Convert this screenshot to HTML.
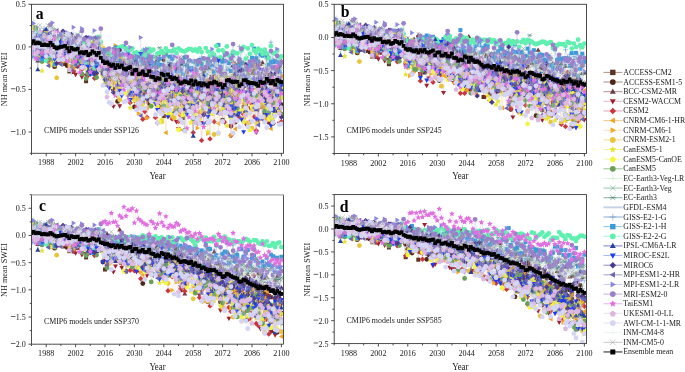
<!DOCTYPE html><html><head><meta charset="utf-8"><style>
html,body{margin:0;padding:0;background:#fff;width:685px;height:372px;overflow:hidden}
svg{display:block;font-family:"Liberation Serif", serif;filter:blur(0.35px)}
</style></head><body>
<svg width="685" height="372" viewBox="0 0 685 372">
<defs>
<marker id="m0" markerUnits="userSpaceOnUse" markerWidth="10" markerHeight="10" refX="0" refY="0" overflow="visible" viewBox="-5 -5 10 10" style="overflow:visible"><rect x="-2.0" y="-2.0" width="4.0" height="4.0" fill="#5b3121"/></marker>
<marker id="m1" markerUnits="userSpaceOnUse" markerWidth="10" markerHeight="10" refX="0" refY="0" overflow="visible" viewBox="-5 -5 10 10" style="overflow:visible"><circle r="2.40" fill="#4b2619"/></marker>
<marker id="m2" markerUnits="userSpaceOnUse" markerWidth="10" markerHeight="10" refX="0" refY="0" overflow="visible" viewBox="-5 -5 10 10" style="overflow:visible"><path d="M0 -2.6L2.5 1.8H-2.5Z" fill="#6e3a3f"/></marker>
<marker id="m3" markerUnits="userSpaceOnUse" markerWidth="10" markerHeight="10" refX="0" refY="0" overflow="visible" viewBox="-5 -5 10 10" style="overflow:visible"><path d="M0 2.6L2.5 -1.8H-2.5Z" fill="#9b2232"/></marker>
<marker id="m4" markerUnits="userSpaceOnUse" markerWidth="10" markerHeight="10" refX="0" refY="0" overflow="visible" viewBox="-5 -5 10 10" style="overflow:visible"><path d="M0 -2.7L2.7 0L0 2.7L-2.7 0Z" fill="#c9363f"/></marker>
<marker id="m5" markerUnits="userSpaceOnUse" markerWidth="10" markerHeight="10" refX="0" refY="0" overflow="visible" viewBox="-5 -5 10 10" style="overflow:visible"><path d="M-2.6 0L1.8 -2.5V2.5Z" fill="#f0a224"/></marker>
<marker id="m6" markerUnits="userSpaceOnUse" markerWidth="10" markerHeight="10" refX="0" refY="0" overflow="visible" viewBox="-5 -5 10 10" style="overflow:visible"><path d="M2.6 0L-1.8 -2.5V2.5Z" fill="#f5a623"/></marker>
<marker id="m7" markerUnits="userSpaceOnUse" markerWidth="10" markerHeight="10" refX="0" refY="0" overflow="visible" viewBox="-5 -5 10 10" style="overflow:visible"><circle r="2.40" fill="#e9c33a"/></marker>
<marker id="m8" markerUnits="userSpaceOnUse" markerWidth="10" markerHeight="10" refX="0" refY="0" overflow="visible" viewBox="-5 -5 10 10" style="overflow:visible"><path d="M0.00 -3.00L0.85 -1.17L2.85 -0.93L1.38 0.45L1.76 2.43L0.00 1.45L-1.76 2.43L-1.38 0.45L-2.85 -0.93L-0.85 -1.17Z" fill="#e5e43a"/></marker>
<marker id="m9" markerUnits="userSpaceOnUse" markerWidth="10" markerHeight="10" refX="0" refY="0" overflow="visible" viewBox="-5 -5 10 10" style="overflow:visible"><path d="M0.00 -2.40L2.57 -0.53L1.59 2.48L-1.59 2.48L-2.57 -0.53Z" fill="#f3f542"/></marker>
<marker id="m10" markerUnits="userSpaceOnUse" markerWidth="10" markerHeight="10" refX="0" refY="0" overflow="visible" viewBox="-5 -5 10 10" style="overflow:visible"><circle r="2.40" fill="#6aa05a"/></marker>
<marker id="m11" markerUnits="userSpaceOnUse" markerWidth="10" markerHeight="10" refX="0" refY="0" overflow="visible" viewBox="-5 -5 10 10" style="overflow:visible"><path d="M-2.0 0H2.0M0 -2.0V2.0" stroke="#c8ecc8" stroke-width="0.5"/></marker>
<marker id="m12" markerUnits="userSpaceOnUse" markerWidth="10" markerHeight="10" refX="0" refY="0" overflow="visible" viewBox="-5 -5 10 10" style="overflow:visible"><path d="M-2.0 -2.0L2.0 2.0M2.0 -2.0L-2.0 2.0" stroke="#5a9a7a" stroke-width="0.5"/></marker>
<marker id="m13" markerUnits="userSpaceOnUse" markerWidth="10" markerHeight="10" refX="0" refY="0" overflow="visible" viewBox="-5 -5 10 10" style="overflow:visible"><path d="M-2.5 0H2.5M-1.8 -1.8L1.8 1.8M1.8 -1.8L-1.8 1.8" stroke="#3a7868" stroke-width="0.5"/></marker>
<marker id="m15" markerUnits="userSpaceOnUse" markerWidth="10" markerHeight="10" refX="0" refY="0" overflow="visible" viewBox="-5 -5 10 10" style="overflow:visible"><path d="M-2.5 0H2.5M0 -2.5V2.5" stroke="#5a88c0" stroke-width="0.5"/></marker>
<marker id="m16" markerUnits="userSpaceOnUse" markerWidth="10" markerHeight="10" refX="0" refY="0" overflow="visible" viewBox="-5 -5 10 10" style="overflow:visible"><rect x="-2.0" y="-2.0" width="4.0" height="4.0" fill="#3d9ad8"/></marker>
<marker id="m17" markerUnits="userSpaceOnUse" markerWidth="10" markerHeight="10" refX="0" refY="0" overflow="visible" viewBox="-5 -5 10 10" style="overflow:visible"><circle r="2.40" fill="#5ff0b0"/></marker>
<marker id="m18" markerUnits="userSpaceOnUse" markerWidth="10" markerHeight="10" refX="0" refY="0" overflow="visible" viewBox="-5 -5 10 10" style="overflow:visible"><path d="M0 -2.6L2.5 1.8H-2.5Z" fill="#2a40a0"/></marker>
<marker id="m19" markerUnits="userSpaceOnUse" markerWidth="10" markerHeight="10" refX="0" refY="0" overflow="visible" viewBox="-5 -5 10 10" style="overflow:visible"><path d="M0 2.6L2.5 -1.8H-2.5Z" fill="#1f3cf0"/></marker>
<marker id="m20" markerUnits="userSpaceOnUse" markerWidth="10" markerHeight="10" refX="0" refY="0" overflow="visible" viewBox="-5 -5 10 10" style="overflow:visible"><path d="M0 -2.7L2.7 0L0 2.7L-2.7 0Z" fill="#4a3a8a"/></marker>
<marker id="m21" markerUnits="userSpaceOnUse" markerWidth="10" markerHeight="10" refX="0" refY="0" overflow="visible" viewBox="-5 -5 10 10" style="overflow:visible"><path d="M-2.6 0L1.8 -2.5V2.5Z" fill="#6a64b4"/></marker>
<marker id="m22" markerUnits="userSpaceOnUse" markerWidth="10" markerHeight="10" refX="0" refY="0" overflow="visible" viewBox="-5 -5 10 10" style="overflow:visible"><path d="M2.6 0L-1.8 -2.5V2.5Z" fill="#8b86e0"/></marker>
<marker id="m23" markerUnits="userSpaceOnUse" markerWidth="10" markerHeight="10" refX="0" refY="0" overflow="visible" viewBox="-5 -5 10 10" style="overflow:visible"><circle r="2.40" fill="#9a80c8"/></marker>
<marker id="m24" markerUnits="userSpaceOnUse" markerWidth="10" markerHeight="10" refX="0" refY="0" overflow="visible" viewBox="-5 -5 10 10" style="overflow:visible"><path d="M0.00 -3.00L0.85 -1.17L2.85 -0.93L1.38 0.45L1.76 2.43L0.00 1.45L-1.76 2.43L-1.38 0.45L-2.85 -0.93L-0.85 -1.17Z" fill="#e070e0"/></marker>
<marker id="m25" markerUnits="userSpaceOnUse" markerWidth="10" markerHeight="10" refX="0" refY="0" overflow="visible" viewBox="-5 -5 10 10" style="overflow:visible"><path d="M0.00 -2.40L2.57 -0.53L1.59 2.48L-1.59 2.48L-2.57 -0.53Z" fill="#dcb8e0"/></marker>
<marker id="m26" markerUnits="userSpaceOnUse" markerWidth="10" markerHeight="10" refX="0" refY="0" overflow="visible" viewBox="-5 -5 10 10" style="overflow:visible"><circle r="2.40" fill="#d4d4f4"/></marker>
<marker id="m27" markerUnits="userSpaceOnUse" markerWidth="10" markerHeight="10" refX="0" refY="0" overflow="visible" viewBox="-5 -5 10 10" style="overflow:visible"><path d="M-2.0 0H2.0M0 -2.0V2.0" stroke="#e8eef0" stroke-width="0.5"/></marker>
<marker id="m28" markerUnits="userSpaceOnUse" markerWidth="10" markerHeight="10" refX="0" refY="0" overflow="visible" viewBox="-5 -5 10 10" style="overflow:visible"><path d="M-2.0 -2.0L2.0 2.0M2.0 -2.0L-2.0 2.0" stroke="#9a9a9a" stroke-width="0.5"/></marker>
<marker id="me" markerUnits="userSpaceOnUse" markerWidth="10" markerHeight="10" refX="0" refY="0" viewBox="-5 -5 10 10" style="overflow:visible"><rect x="-1.9" y="-1.9" width="3.8" height="3.8" fill="#000"/></marker>
<clipPath id="clipa"><rect x="31.5" y="4.3" width="252.0" height="149.0"/></clipPath>
<clipPath id="clipb"><rect x="334.2" y="4.3" width="252.3" height="149.2"/></clipPath>
<clipPath id="clipc"><rect x="31.5" y="194.7" width="252.0" height="149.5"/></clipPath>
<clipPath id="clipd"><rect x="334.2" y="194.6" width="252.3" height="149.00000000000003"/></clipPath>
</defs>
<g clip-path="url(#clipa)">
<polyline points="31.5,44.7 33.6,41.6 35.7,47.5 37.8,54.1 39.9,51.2 42.0,57.1 44.1,47.5 46.2,34.8 48.3,52.5 50.4,54.0 52.5,44.3 54.6,46.7 56.7,50.0 58.8,60.1 60.9,51.5 63.0,44.3 65.1,64.1 67.2,56.7 69.3,71.4 71.4,66.5 73.5,72.0 75.6,56.7 77.7,66.3 79.8,52.1 81.9,54.2 84.0,58.5 86.1,81.2 88.2,62.9 90.3,58.1 92.4,56.3 94.5,72.1 96.6,63.1 98.7,68.9 100.8,68.1 102.9,56.1 105.0,66.0 107.1,68.0 109.2,62.4 111.3,58.6 113.4,88.9 115.5,73.0 117.6,72.7 119.7,90.6 121.8,83.6 123.9,62.9 126.0,79.0 128.1,69.9 130.2,86.1 132.3,72.5 134.4,72.8 136.5,83.3 138.6,57.0 140.7,75.2 142.8,60.8 144.9,91.9 147.0,90.3 149.1,87.1 151.2,77.7 153.3,82.2 155.4,82.8 157.5,87.7 159.6,109.4 161.7,87.8 163.8,116.1 165.9,81.5 168.0,96.1 170.1,96.5 172.2,89.9 174.3,84.3 176.4,107.9 178.5,112.9 180.6,103.7 182.7,118.0 184.8,103.2 186.9,72.3 189.0,105.4 191.1,83.6 193.2,110.9 195.3,88.4 197.4,96.8 199.5,93.0 201.6,85.8 203.7,72.4 205.8,101.2 207.9,90.6 210.0,105.8 212.1,85.4 214.2,95.3 216.3,82.5 218.4,92.3 220.5,72.2 222.6,119.9 224.7,95.8 226.8,81.7 228.9,96.5 231.0,102.7 233.1,95.2 235.2,111.0 237.3,90.0 239.4,64.0 241.5,78.4 243.6,106.9 245.7,103.5 247.8,96.8 249.9,79.8 252.0,102.6 254.1,100.7 256.2,81.0 258.3,81.2 260.4,96.1 262.5,106.6 264.6,112.7 266.7,100.5 268.8,122.2 270.9,82.2 273.0,121.9 275.1,110.4 277.2,69.6 279.3,77.3 281.4,106.6" fill="none" stroke="#a88a7a" stroke-width="0.3" marker-start="url(#m0)" marker-mid="url(#m0)" marker-end="url(#m0)"/>
<polyline points="31.5,36.1 33.6,54.0 35.7,47.1 37.8,39.0 39.9,54.3 42.0,50.8 44.1,49.0 46.2,49.3 48.3,61.3 50.4,49.4 52.5,37.7 54.6,66.7 56.7,44.7 58.8,52.3 60.9,59.3 63.0,36.2 65.1,46.0 67.2,65.7 69.3,54.9 71.4,50.8 73.5,58.6 75.6,50.0 77.7,57.2 79.8,50.4 81.9,43.7 84.0,65.3 86.1,57.8 88.2,64.4 90.3,58.6 92.4,70.8 94.5,65.5 96.6,62.8 98.7,53.2 100.8,51.6 102.9,58.5 105.0,56.6 107.1,76.5 109.2,79.9 111.3,70.8 113.4,89.5 115.5,57.2 117.6,101.4 119.7,86.5 121.8,77.0 123.9,77.3 126.0,85.4 128.1,73.3 130.2,79.7 132.3,66.0 134.4,107.0 136.5,79.4 138.6,89.9 140.7,79.6 142.8,79.3 144.9,94.9 147.0,91.8 149.1,103.4 151.2,80.6 153.3,94.2 155.4,63.1 157.5,60.6 159.6,106.6 161.7,83.4 163.8,59.7 165.9,79.0 168.0,85.6 170.1,91.4 172.2,96.6 174.3,92.4 176.4,97.7 178.5,82.1 180.6,96.5 182.7,97.5 184.8,108.8 186.9,92.9 189.0,105.4 191.1,95.7 193.2,82.0 195.3,118.5 197.4,88.9 199.5,90.5 201.6,93.8 203.7,114.4 205.8,98.7 207.9,85.8 210.0,109.7 212.1,79.2 214.2,93.8 216.3,104.8 218.4,101.0 220.5,103.6 222.6,92.2 224.7,104.1 226.8,81.1 228.9,104.9 231.0,126.1 233.1,104.1 235.2,122.2 237.3,94.1 239.4,81.7 241.5,86.3 243.6,112.5 245.7,104.2 247.8,73.5 249.9,89.7 252.0,93.2 254.1,81.4 256.2,65.8 258.3,78.6 260.4,91.5 262.5,89.0 264.6,86.1 266.7,101.6 268.8,107.9 270.9,92.2 273.0,123.3 275.1,93.5 277.2,91.5 279.3,66.5 281.4,104.6" fill="none" stroke="#9c8076" stroke-width="0.3" marker-start="url(#m1)" marker-mid="url(#m1)" marker-end="url(#m1)"/>
<polyline points="31.5,53.7 33.6,48.6 35.7,35.0 37.8,60.6 39.9,47.0 42.0,44.1 44.1,31.0 46.2,36.6 48.3,46.3 50.4,46.9 52.5,46.4 54.6,29.8 56.7,49.3 58.8,48.3 60.9,41.9 63.0,46.5 65.1,47.4 67.2,56.6 69.3,46.9 71.4,51.5 73.5,36.1 75.6,41.1 77.7,47.6 79.8,41.1 81.9,51.4 84.0,38.6 86.1,49.5 88.2,43.8 90.3,61.5 92.4,45.9 94.5,65.4 96.6,69.2 98.7,53.6 100.8,59.7 102.9,61.8 105.0,62.7 107.1,57.7 109.2,52.9 111.3,67.6 113.4,71.8 115.5,81.5 117.6,74.1 119.7,59.2 121.8,64.1 123.9,76.8 126.0,69.8 128.1,65.5 130.2,61.5 132.3,73.9 134.4,70.2 136.5,90.1 138.6,82.5 140.7,52.5 142.8,96.7 144.9,73.7 147.0,67.6 149.1,75.0 151.2,81.0 153.3,71.8 155.4,71.4 157.5,72.7 159.6,96.1 161.7,74.2 163.8,83.6 165.9,79.9 168.0,70.9 170.1,67.0 172.2,64.7 174.3,80.6 176.4,65.0 178.5,62.8 180.6,63.4 182.7,61.2 184.8,77.6 186.9,78.3 189.0,67.8 191.1,94.5 193.2,74.7 195.3,84.2 197.4,82.4 199.5,100.5 201.6,89.2 203.7,89.8 205.8,68.2 207.9,67.1 210.0,78.4 212.1,79.8 214.2,88.2 216.3,73.1 218.4,80.4 220.5,70.9 222.6,59.1 224.7,77.5 226.8,96.8 228.9,88.3 231.0,96.2 233.1,92.7 235.2,63.5 237.3,74.5 239.4,96.8 241.5,70.1 243.6,63.8 245.7,81.5 247.8,85.6 249.9,81.1 252.0,73.7 254.1,70.0 256.2,64.4 258.3,64.1 260.4,64.3 262.5,62.5 264.6,69.6 266.7,96.5 268.8,78.1 270.9,73.1 273.0,81.3 275.1,66.9 277.2,81.0 279.3,88.3 281.4,61.3" fill="none" stroke="#a78286" stroke-width="0.3" marker-start="url(#m2)" marker-mid="url(#m2)" marker-end="url(#m2)"/>
<polyline points="31.5,43.5 33.6,28.0 35.7,53.1 37.8,52.1 39.9,45.5 42.0,43.6 44.1,50.5 46.2,50.6 48.3,41.6 50.4,43.8 52.5,59.6 54.6,51.9 56.7,51.7 58.8,62.3 60.9,49.7 63.0,60.2 65.1,43.0 67.2,51.6 69.3,53.9 71.4,61.2 73.5,57.1 75.6,74.6 77.7,66.4 79.8,52.6 81.9,77.1 84.0,50.0 86.1,75.6 88.2,52.0 90.3,67.2 92.4,51.4 94.5,58.1 96.6,74.8 98.7,49.2 100.8,48.2 102.9,61.0 105.0,66.5 107.1,60.0 109.2,83.8 111.3,67.9 113.4,106.5 115.5,82.8 117.6,80.8 119.7,106.1 121.8,73.9 123.9,63.5 126.0,85.2 128.1,95.9 130.2,56.0 132.3,87.7 134.4,100.7 136.5,79.8 138.6,78.4 140.7,95.7 142.8,104.6 144.9,93.7 147.0,101.4 149.1,85.2 151.2,92.5 153.3,98.8 155.4,85.0 157.5,91.2 159.6,54.7 161.7,102.1 163.8,73.7 165.9,92.5 168.0,94.2 170.1,83.6 172.2,81.9 174.3,77.6 176.4,121.9 178.5,129.0 180.6,104.0 182.7,89.2 184.8,88.8 186.9,78.8 189.0,91.9 191.1,84.1 193.2,78.7 195.3,96.6 197.4,123.7 199.5,118.6 201.6,122.8 203.7,78.5 205.8,113.0 207.9,83.1 210.0,91.4 212.1,76.7 214.2,85.9 216.3,100.4 218.4,102.0 220.5,97.5 222.6,96.3 224.7,107.2 226.8,99.0 228.9,77.7 231.0,126.3 233.1,95.0 235.2,113.1 237.3,95.8 239.4,87.3 241.5,99.0 243.6,88.1 245.7,124.1 247.8,83.7 249.9,107.8 252.0,89.8 254.1,95.4 256.2,132.5 258.3,110.0 260.4,94.7 262.5,77.6 264.6,93.8 266.7,94.1 268.8,122.5 270.9,78.9 273.0,74.1 275.1,96.8 277.2,100.7 279.3,123.6 281.4,85.7" fill="none" stroke="#e6b0b8" stroke-width="0.3" marker-start="url(#m3)" marker-mid="url(#m3)" marker-end="url(#m3)"/>
<polyline points="31.5,47.5 33.6,49.4 35.7,48.6 37.8,57.3 39.9,38.6 42.0,55.5 44.1,51.2 46.2,58.1 48.3,56.4 50.4,62.9 52.5,39.5 54.6,54.6 56.7,44.6 58.8,54.3 60.9,60.8 63.0,57.2 65.1,59.8 67.2,55.5 69.3,60.4 71.4,60.6 73.5,71.1 75.6,65.6 77.7,41.6 79.8,64.6 81.9,69.2 84.0,57.2 86.1,47.6 88.2,75.3 90.3,63.4 92.4,67.2 94.5,78.2 96.6,55.4 98.7,64.0 100.8,64.0 102.9,52.0 105.0,62.1 107.1,81.4 109.2,65.9 111.3,87.4 113.4,58.6 115.5,93.5 117.6,79.3 119.7,73.8 121.8,67.5 123.9,74.0 126.0,75.4 128.1,93.2 130.2,102.8 132.3,82.4 134.4,95.8 136.5,106.8 138.6,107.3 140.7,95.4 142.8,119.2 144.9,111.5 147.0,117.2 149.1,87.8 151.2,85.5 153.3,64.7 155.4,117.6 157.5,123.1 159.6,80.8 161.7,97.3 163.8,99.7 165.9,71.6 168.0,100.9 170.1,115.6 172.2,118.9 174.3,92.1 176.4,93.1 178.5,121.5 180.6,115.4 182.7,91.5 184.8,91.4 186.9,111.0 189.0,91.8 191.1,93.0 193.2,132.6 195.3,107.4 197.4,96.7 199.5,112.4 201.6,140.4 203.7,107.2 205.8,91.9 207.9,80.4 210.0,138.9 212.1,66.1 214.2,121.8 216.3,88.8 218.4,84.9 220.5,88.3 222.6,99.7 224.7,122.1 226.8,93.0 228.9,114.1 231.0,135.6 233.1,62.6 235.2,118.0 237.3,76.4 239.4,117.3 241.5,81.1 243.6,114.2 245.7,79.8 247.8,101.4 249.9,122.1 252.0,104.0 254.1,116.8 256.2,130.6 258.3,99.5 260.4,118.1 262.5,103.5 264.6,102.5 266.7,74.1 268.8,82.7 270.9,101.2 273.0,97.3 275.1,113.9 277.2,106.1 279.3,87.7 281.4,121.8" fill="none" stroke="#e09ca3" stroke-width="0.3" marker-start="url(#m4)" marker-mid="url(#m4)" marker-end="url(#m4)"/>
<polyline points="31.5,51.3 33.6,39.6 35.7,49.5 37.8,46.8 39.9,57.1 42.0,59.0 44.1,34.8 46.2,52.6 48.3,44.8 50.4,48.4 52.5,53.2 54.6,55.0 56.7,45.0 58.8,54.4 60.9,52.8 63.0,51.1 65.1,40.1 67.2,46.0 69.3,50.1 71.4,60.1 73.5,68.1 75.6,45.7 77.7,45.4 79.8,56.6 81.9,51.0 84.0,49.8 86.1,50.2 88.2,49.5 90.3,62.6 92.4,43.3 94.5,70.3 96.6,51.0 98.7,55.8 100.8,52.9 102.9,69.8 105.0,82.7 107.1,67.3 109.2,54.2 111.3,79.0 113.4,68.8 115.5,82.7 117.6,86.7 119.7,88.8 121.8,60.1 123.9,60.8 126.0,71.2 128.1,86.1 130.2,70.6 132.3,98.8 134.4,71.1 136.5,100.3 138.6,78.2 140.7,75.5 142.8,90.7 144.9,89.0 147.0,107.9 149.1,91.0 151.2,105.3 153.3,88.1 155.4,99.9 157.5,86.0 159.6,82.7 161.7,107.9 163.8,100.0 165.9,132.8 168.0,81.5 170.1,93.5 172.2,81.3 174.3,96.1 176.4,75.5 178.5,113.5 180.6,76.1 182.7,102.4 184.8,131.2 186.9,89.8 189.0,77.1 191.1,109.9 193.2,93.8 195.3,99.2 197.4,95.5 199.5,117.8 201.6,106.3 203.7,91.3 205.8,94.0 207.9,83.0 210.0,95.5 212.1,70.1 214.2,106.5 216.3,93.3 218.4,123.5 220.5,113.9 222.6,81.2 224.7,109.4 226.8,90.0 228.9,96.7 231.0,110.7 233.1,100.7 235.2,128.9 237.3,102.6 239.4,98.5 241.5,88.2 243.6,103.7 245.7,108.3 247.8,92.2 249.9,96.7 252.0,83.8 254.1,65.6 256.2,85.7 258.3,121.3 260.4,97.5 262.5,107.1 264.6,107.8 266.7,109.1 268.8,100.4 270.9,128.8 273.0,86.4 275.1,100.3 277.2,97.4 279.3,111.8 281.4,76.2" fill="none" stroke="#f4c27a" stroke-width="0.3" marker-start="url(#m5)" marker-mid="url(#m5)" marker-end="url(#m5)"/>
<polyline points="31.5,23.8 33.6,26.1 35.7,51.8 37.8,57.9 39.9,35.2 42.0,53.7 44.1,44.7 46.2,36.2 48.3,59.7 50.4,64.5 52.5,43.1 54.6,46.4 56.7,50.1 58.8,47.8 60.9,56.1 63.0,62.1 65.1,49.8 67.2,58.4 69.3,65.9 71.4,46.5 73.5,52.3 75.6,47.6 77.7,60.8 79.8,58.1 81.9,62.3 84.0,62.4 86.1,53.0 88.2,62.5 90.3,51.5 92.4,51.5 94.5,38.2 96.6,69.2 98.7,48.5 100.8,59.0 102.9,61.8 105.0,51.0 107.1,60.7 109.2,68.4 111.3,72.5 113.4,79.8 115.5,45.6 117.6,87.1 119.7,61.5 121.8,57.1 123.9,70.4 126.0,67.7 128.1,63.3 130.2,85.8 132.3,73.5 134.4,90.5 136.5,88.8 138.6,113.5 140.7,83.2 142.8,80.3 144.9,77.6 147.0,117.9 149.1,62.1 151.2,71.9 153.3,77.2 155.4,90.9 157.5,87.5 159.6,80.7 161.7,82.7 163.8,111.8 165.9,80.0 168.0,56.0 170.1,115.8 172.2,78.6 174.3,110.7 176.4,92.4 178.5,75.8 180.6,129.8 182.7,90.5 184.8,76.2 186.9,96.2 189.0,99.9 191.1,93.0 193.2,101.3 195.3,77.6 197.4,128.0 199.5,100.2 201.6,114.1 203.7,103.7 205.8,107.1 207.9,133.5 210.0,95.6 212.1,111.1 214.2,101.9 216.3,77.7 218.4,111.7 220.5,110.8 222.6,78.6 224.7,93.8 226.8,77.4 228.9,91.3 231.0,135.6 233.1,95.9 235.2,100.2 237.3,84.0 239.4,94.7 241.5,94.1 243.6,96.3 245.7,103.0 247.8,72.4 249.9,94.4 252.0,110.9 254.1,101.3 256.2,86.0 258.3,86.9 260.4,96.2 262.5,103.9 264.6,93.8 266.7,118.5 268.8,113.0 270.9,84.8 273.0,100.8 275.1,89.5 277.2,79.8 279.3,100.3 281.4,93.4" fill="none" stroke="#fadcb0" stroke-width="0.3" marker-start="url(#m6)" marker-mid="url(#m6)" marker-end="url(#m6)"/>
<polyline points="31.5,40.2 33.6,53.6 35.7,44.7 37.8,34.0 39.9,43.4 42.0,42.8 44.1,46.7 46.2,32.4 48.3,43.9 50.4,64.7 52.5,51.5 54.6,64.8 56.7,77.8 58.8,52.6 60.9,34.4 63.0,46.9 65.1,58.8 67.2,57.6 69.3,38.9 71.4,49.5 73.5,50.9 75.6,51.7 77.7,50.7 79.8,43.6 81.9,47.1 84.0,51.6 86.1,64.4 88.2,49.8 90.3,61.1 92.4,43.7 94.5,66.8 96.6,57.1 98.7,57.1 100.8,70.3 102.9,48.0 105.0,62.2 107.1,73.5 109.2,63.3 111.3,67.2 113.4,82.6 115.5,72.2 117.6,75.9 119.7,99.8 121.8,77.8 123.9,80.2 126.0,83.2 128.1,100.2 130.2,84.0 132.3,80.7 134.4,80.0 136.5,97.6 138.6,76.0 140.7,100.9 142.8,87.7 144.9,70.8 147.0,95.8 149.1,94.0 151.2,75.6 153.3,93.5 155.4,92.8 157.5,86.6 159.6,77.9 161.7,121.7 163.8,102.5 165.9,105.7 168.0,107.3 170.1,104.5 172.2,116.4 174.3,117.9 176.4,106.6 178.5,92.9 180.6,90.3 182.7,105.9 184.8,94.4 186.9,77.8 189.0,93.3 191.1,106.7 193.2,98.9 195.3,111.9 197.4,95.9 199.5,89.1 201.6,110.9 203.7,101.9 205.8,86.1 207.9,106.0 210.0,96.5 212.1,113.6 214.2,134.5 216.3,106.0 218.4,74.1 220.5,104.2 222.6,105.9 224.7,106.3 226.8,100.6 228.9,90.8 231.0,96.0 233.1,75.1 235.2,95.6 237.3,81.8 239.4,94.8 241.5,91.1 243.6,118.3 245.7,99.5 247.8,122.9 249.9,101.0 252.0,128.2 254.1,87.7 256.2,102.9 258.3,103.6 260.4,100.9 262.5,100.5 264.6,104.0 266.7,115.2 268.8,110.3 270.9,93.8 273.0,95.3 275.1,102.2 277.2,105.0 279.3,108.6 281.4,97.6" fill="none" stroke="#f0d98a" stroke-width="0.3" marker-start="url(#m7)" marker-mid="url(#m7)" marker-end="url(#m7)"/>
<polyline points="31.5,25.9 33.6,28.3 35.7,47.4 37.8,36.5 39.9,41.6 42.0,70.9 44.1,44.3 46.2,47.2 48.3,45.6 50.4,57.0 52.5,50.4 54.6,50.9 56.7,38.5 58.8,47.2 60.9,50.4 63.0,35.2 65.1,55.9 67.2,55.4 69.3,70.1 71.4,38.6 73.5,44.9 75.6,45.2 77.7,47.5 79.8,53.4 81.9,53.4 84.0,59.1 86.1,59.6 88.2,57.4 90.3,42.9 92.4,52.1 94.5,58.5 96.6,64.4 98.7,66.1 100.8,45.3 102.9,57.4 105.0,81.0 107.1,55.9 109.2,62.9 111.3,77.0 113.4,65.2 115.5,91.3 117.6,95.7 119.7,91.3 121.8,81.4 123.9,81.4 126.0,84.7 128.1,78.1 130.2,107.9 132.3,75.9 134.4,100.8 136.5,91.7 138.6,89.4 140.7,100.5 142.8,104.3 144.9,100.1 147.0,87.2 149.1,81.4 151.2,82.5 153.3,102.9 155.4,100.7 157.5,103.0 159.6,85.9 161.7,119.7 163.8,78.3 165.9,99.2 168.0,103.9 170.1,89.7 172.2,82.7 174.3,90.8 176.4,83.5 178.5,94.2 180.6,82.6 182.7,82.9 184.8,98.7 186.9,81.8 189.0,96.5 191.1,97.9 193.2,112.6 195.3,104.1 197.4,91.8 199.5,119.2 201.6,93.1 203.7,96.4 205.8,97.2 207.9,131.7 210.0,101.6 212.1,92.9 214.2,110.9 216.3,99.0 218.4,133.8 220.5,92.4 222.6,109.2 224.7,90.0 226.8,125.9 228.9,91.9 231.0,102.9 233.1,90.5 235.2,112.6 237.3,108.2 239.4,74.3 241.5,111.1 243.6,109.3 245.7,103.1 247.8,113.6 249.9,85.8 252.0,79.8 254.1,108.9 256.2,123.4 258.3,85.7 260.4,86.4 262.5,89.5 264.6,85.7 266.7,110.9 268.8,100.9 270.9,118.1 273.0,118.5 275.1,87.4 277.2,107.8 279.3,72.9 281.4,97.3" fill="none" stroke="#eef08a" stroke-width="0.3" marker-start="url(#m8)" marker-mid="url(#m8)" marker-end="url(#m8)"/>
<polyline points="31.5,37.9 33.6,42.1 35.7,46.4 37.8,54.6 39.9,46.2 42.0,38.0 44.1,50.6 46.2,48.9 48.3,48.8 50.4,46.0 52.5,63.1 54.6,51.7 56.7,58.5 58.8,42.2 60.9,58.0 63.0,44.9 65.1,36.0 67.2,55.0 69.3,59.1 71.4,52.5 73.5,54.8 75.6,64.0 77.7,50.0 79.8,37.9 81.9,58.4 84.0,59.2 86.1,68.0 88.2,55.4 90.3,70.0 92.4,68.5 94.5,45.9 96.6,68.0 98.7,50.1 100.8,46.7 102.9,75.6 105.0,62.1 107.1,53.9 109.2,75.7 111.3,86.6 113.4,69.7 115.5,61.0 117.6,81.1 119.7,85.6 121.8,67.0 123.9,76.6 126.0,93.0 128.1,84.8 130.2,90.7 132.3,78.7 134.4,81.6 136.5,71.6 138.6,77.1 140.7,107.0 142.8,82.1 144.9,77.6 147.0,83.1 149.1,77.7 151.2,97.3 153.3,103.4 155.4,80.7 157.5,106.2 159.6,122.0 161.7,81.3 163.8,103.1 165.9,97.9 168.0,113.7 170.1,113.3 172.2,111.5 174.3,100.9 176.4,92.3 178.5,129.4 180.6,89.2 182.7,114.8 184.8,113.7 186.9,91.7 189.0,100.8 191.1,122.2 193.2,80.3 195.3,113.7 197.4,99.2 199.5,99.7 201.6,86.1 203.7,108.3 205.8,90.5 207.9,112.3 210.0,89.1 212.1,112.5 214.2,106.7 216.3,80.3 218.4,97.8 220.5,100.1 222.6,76.2 224.7,97.2 226.8,112.8 228.9,92.9 231.0,117.9 233.1,88.4 235.2,87.4 237.3,109.0 239.4,109.7 241.5,98.7 243.6,121.4 245.7,114.5 247.8,94.2 249.9,129.5 252.0,106.6 254.1,106.1 256.2,104.2 258.3,96.8 260.4,117.6 262.5,93.5 264.6,102.6 266.7,109.2 268.8,119.3 270.9,116.7 273.0,95.8 275.1,113.4 277.2,98.9 279.3,87.8 281.4,88.1" fill="none" stroke="#f4f6a0" stroke-width="0.3" marker-start="url(#m9)" marker-mid="url(#m9)" marker-end="url(#m9)"/>
<polyline points="31.5,42.8 33.6,39.8 35.7,28.6 37.8,48.4 39.9,53.5 42.0,61.6 44.1,48.9 46.2,34.6 48.3,39.6 50.4,58.2 52.5,58.5 54.6,56.5 56.7,49.9 58.8,55.0 60.9,50.8 63.0,49.9 65.1,56.0 67.2,54.6 69.3,53.5 71.4,57.3 73.5,51.9 75.6,39.8 77.7,50.8 79.8,56.5 81.9,73.9 84.0,55.5 86.1,78.5 88.2,73.7 90.3,51.9 92.4,53.2 94.5,61.9 96.6,77.5 98.7,66.2 100.8,70.0 102.9,54.0 105.0,72.2 107.1,82.4 109.2,61.3 111.3,68.8 113.4,62.0 115.5,73.4 117.6,63.0 119.7,67.2 121.8,69.3 123.9,72.3 126.0,74.2 128.1,76.8 130.2,77.7 132.3,70.8 134.4,88.7 136.5,64.6 138.6,85.2 140.7,96.6 142.8,86.7 144.9,89.7 147.0,76.7 149.1,92.1 151.2,106.3 153.3,99.0 155.4,94.1 157.5,66.8 159.6,88.5 161.7,81.1 163.8,105.8 165.9,88.5 168.0,85.6 170.1,73.7 172.2,103.8 174.3,87.9 176.4,91.8 178.5,110.0 180.6,96.5 182.7,100.4 184.8,130.2 186.9,91.2 189.0,92.3 191.1,105.1 193.2,118.5 195.3,83.4 197.4,97.5 199.5,89.1 201.6,84.6 203.7,107.8 205.8,91.2 207.9,103.7 210.0,101.0 212.1,101.3 214.2,100.1 216.3,87.5 218.4,98.5 220.5,102.0 222.6,103.7 224.7,95.9 226.8,112.4 228.9,106.8 231.0,100.3 233.1,107.6 235.2,101.1 237.3,108.1 239.4,77.0 241.5,84.4 243.6,94.2 245.7,99.9 247.8,74.7 249.9,95.4 252.0,100.2 254.1,95.5 256.2,95.4 258.3,83.1 260.4,99.0 262.5,75.3 264.6,111.1 266.7,90.8 268.8,112.7 270.9,78.2 273.0,103.1 275.1,99.1 277.2,88.0 279.3,84.2 281.4,113.9" fill="none" stroke="#8fbf80" stroke-width="0.3" marker-start="url(#m10)" marker-mid="url(#m10)" marker-end="url(#m10)"/>
<polyline points="31.5,31.2 33.6,20.4 35.7,35.4 37.8,45.2 39.9,49.4 42.0,39.3 44.1,40.6 46.2,49.7 48.3,37.7 50.4,49.8 52.5,28.4 54.6,29.4 56.7,29.5 58.8,44.8 60.9,35.2 63.0,41.5 65.1,44.0 67.2,44.0 69.3,53.5 71.4,55.2 73.5,33.9 75.6,43.5 77.7,39.5 79.8,32.0 81.9,58.5 84.0,50.0 86.1,41.3 88.2,39.2 90.3,46.6 92.4,32.8 94.5,41.0 96.6,54.8 98.7,52.7 100.8,36.3 102.9,60.5 105.0,68.2 107.1,57.9 109.2,59.6 111.3,61.7 113.4,64.5 115.5,62.6 117.6,65.7 119.7,57.2 121.8,51.5 123.9,75.9 126.0,62.1 128.1,64.8 130.2,58.7 132.3,69.7 134.4,63.5 136.5,71.2 138.6,58.3 140.7,62.5 142.8,64.9 144.9,61.4 147.0,66.3 149.1,77.8 151.2,61.0 153.3,63.3 155.4,66.8 157.5,59.1 159.6,57.8 161.7,75.6 163.8,73.2 165.9,56.3 168.0,57.4 170.1,73.6 172.2,77.7 174.3,73.2 176.4,72.3 178.5,82.0 180.6,68.3 182.7,79.9 184.8,79.5 186.9,63.0 189.0,75.5 191.1,70.4 193.2,65.7 195.3,64.7 197.4,73.5 199.5,70.2 201.6,77.7 203.7,58.4 205.8,65.9 207.9,80.1 210.0,70.3 212.1,65.4 214.2,67.0 216.3,57.7 218.4,60.8 220.5,74.9 222.6,70.9 224.7,81.4 226.8,68.4 228.9,69.0 231.0,51.5 233.1,78.8 235.2,88.4 237.3,75.9 239.4,69.2 241.5,88.4 243.6,77.5 245.7,73.1 247.8,67.5 249.9,71.3 252.0,77.6 254.1,64.4 256.2,74.4 258.3,74.1 260.4,81.7 262.5,76.5 264.6,65.2 266.7,83.7 268.8,70.2 270.9,64.6 273.0,72.8 275.1,67.8 277.2,79.2 279.3,60.5 281.4,61.9" fill="none" stroke="#d9f2d9" stroke-width="0.3" marker-start="url(#m11)" marker-mid="url(#m11)" marker-end="url(#m11)"/>
<polyline points="31.5,36.4 33.6,58.8 35.7,27.8 37.8,35.7 39.9,28.9 42.0,46.1 44.1,45.5 46.2,53.2 48.3,25.6 50.4,44.4 52.5,27.6 54.6,49.8 56.7,42.6 58.8,60.0 60.9,47.9 63.0,34.5 65.1,56.1 67.2,34.3 69.3,42.1 71.4,55.6 73.5,50.7 75.6,50.2 77.7,46.3 79.8,51.1 81.9,54.2 84.0,49.9 86.1,57.0 88.2,59.6 90.3,47.9 92.4,38.7 94.5,61.9 96.6,47.9 98.7,54.6 100.8,58.0 102.9,58.0 105.0,75.5 107.1,69.8 109.2,53.9 111.3,49.0 113.4,59.4 115.5,52.9 117.6,68.1 119.7,64.6 121.8,63.1 123.9,60.3 126.0,78.9 128.1,57.0 130.2,54.3 132.3,76.7 134.4,79.3 136.5,63.0 138.6,73.1 140.7,91.6 142.8,60.3 144.9,66.1 147.0,72.9 149.1,50.6 151.2,67.4 153.3,76.9 155.4,68.3 157.5,80.5 159.6,77.8 161.7,66.7 163.8,76.2 165.9,75.3 168.0,56.7 170.1,63.8 172.2,64.5 174.3,67.1 176.4,67.7 178.5,59.7 180.6,72.6 182.7,56.8 184.8,83.3 186.9,76.0 189.0,88.5 191.1,77.5 193.2,69.6 195.3,61.8 197.4,81.8 199.5,74.5 201.6,78.4 203.7,82.6 205.8,87.5 207.9,73.9 210.0,93.4 212.1,73.4 214.2,74.1 216.3,81.5 218.4,85.3 220.5,89.4 222.6,58.1 224.7,88.9 226.8,60.8 228.9,68.9 231.0,78.1 233.1,86.7 235.2,65.1 237.3,59.1 239.4,84.2 241.5,77.2 243.6,64.9 245.7,71.0 247.8,56.7 249.9,80.0 252.0,69.1 254.1,87.4 256.2,55.8 258.3,81.7 260.4,97.8 262.5,75.0 264.6,75.1 266.7,57.2 268.8,77.2 270.9,73.6 273.0,68.4 275.1,59.9 277.2,74.1 279.3,64.5 281.4,68.9" fill="none" stroke="#8fc0a8" stroke-width="0.3" marker-start="url(#m12)" marker-mid="url(#m12)" marker-end="url(#m12)"/>
<polyline points="31.5,32.5 33.6,45.7 35.7,26.2 37.8,48.7 39.9,38.0 42.0,44.3 44.1,49.4 46.2,36.5 48.3,43.7 50.4,36.4 52.5,43.2 54.6,53.4 56.7,44.6 58.8,43.2 60.9,34.3 63.0,52.1 65.1,44.2 67.2,60.3 69.3,38.3 71.4,55.2 73.5,62.1 75.6,45.7 77.7,34.2 79.8,59.5 81.9,55.8 84.0,53.0 86.1,57.0 88.2,42.8 90.3,54.0 92.4,53.1 94.5,40.8 96.6,54.0 98.7,43.1 100.8,56.8 102.9,61.8 105.0,59.0 107.1,73.2 109.2,68.6 111.3,52.0 113.4,73.8 115.5,52.8 117.6,54.7 119.7,63.0 121.8,69.8 123.9,65.0 126.0,59.6 128.1,57.8 130.2,61.7 132.3,56.4 134.4,70.3 136.5,63.1 138.6,81.7 140.7,59.4 142.8,64.8 144.9,70.8 147.0,57.2 149.1,61.4 151.2,97.5 153.3,67.4 155.4,83.6 157.5,59.3 159.6,47.7 161.7,74.3 163.8,68.4 165.9,72.0 168.0,66.6 170.1,64.3 172.2,59.2 174.3,81.0 176.4,57.2 178.5,80.9 180.6,68.7 182.7,61.4 184.8,65.5 186.9,94.1 189.0,79.7 191.1,77.4 193.2,73.1 195.3,62.9 197.4,87.3 199.5,69.0 201.6,67.8 203.7,68.2 205.8,68.9 207.9,59.9 210.0,68.7 212.1,65.5 214.2,68.0 216.3,57.4 218.4,93.6 220.5,61.7 222.6,75.6 224.7,75.8 226.8,83.3 228.9,93.1 231.0,76.8 233.1,80.1 235.2,68.3 237.3,88.7 239.4,60.2 241.5,70.1 243.6,75.2 245.7,80.2 247.8,81.0 249.9,84.7 252.0,78.3 254.1,72.3 256.2,74.2 258.3,87.7 260.4,75.1 262.5,82.0 264.6,70.8 266.7,56.2 268.8,66.8 270.9,75.5 273.0,89.8 275.1,87.5 277.2,90.4 279.3,65.8 281.4,80.3" fill="none" stroke="#7aa898" stroke-width="0.3" marker-start="url(#m13)" marker-mid="url(#m13)" marker-end="url(#m13)"/>
<polyline points="31.5,52.9 33.6,58.6 35.7,24.7 37.8,45.4 39.9,40.8 42.0,44.2 44.1,42.6 46.2,43.5 48.3,27.0 50.4,54.0 52.5,59.5 54.6,55.3 56.7,58.9 58.8,39.3 60.9,38.5 63.0,55.5 65.1,59.8 67.2,50.8 69.3,34.6 71.4,75.4 73.5,44.0 75.6,59.2 77.7,38.8 79.8,59.4 81.9,52.7 84.0,64.9 86.1,60.6 88.2,38.0 90.3,43.4 92.4,55.1 94.5,59.7 96.6,70.0 98.7,56.8 100.8,53.9 102.9,60.9 105.0,67.3 107.1,80.3 109.2,52.9 111.3,69.6 113.4,67.0 115.5,71.9 117.6,58.4 119.7,75.1 121.8,76.7 123.9,79.8 126.0,80.7 128.1,63.7 130.2,47.7 132.3,78.4 134.4,61.2 136.5,67.3 138.6,81.3 140.7,73.3 142.8,73.3 144.9,78.6 147.0,55.8 149.1,92.6 151.2,69.7 153.3,70.4 155.4,79.7 157.5,72.6 159.6,66.9 161.7,73.3 163.8,71.4 165.9,69.4 168.0,97.5 170.1,63.5 172.2,57.1 174.3,77.3 176.4,68.4 178.5,92.6 180.6,79.0 182.7,86.9 184.8,84.8 186.9,70.5 189.0,87.9 191.1,80.9 193.2,100.7 195.3,81.9 197.4,79.7 199.5,88.2 201.6,88.3 203.7,64.2 205.8,93.6 207.9,91.8 210.0,89.2 212.1,69.9 214.2,62.1 216.3,77.3 218.4,88.0 220.5,84.8 222.6,70.9 224.7,90.0 226.8,67.5 228.9,67.8 231.0,79.3 233.1,74.3 235.2,73.4 237.3,66.4 239.4,91.3 241.5,69.6 243.6,83.8 245.7,88.0 247.8,78.7 249.9,81.9 252.0,90.3 254.1,97.0 256.2,89.7 258.3,67.0 260.4,62.6 262.5,73.8 264.6,69.1 266.7,84.9 268.8,80.0 270.9,99.0 273.0,90.9 275.1,89.9 277.2,78.2 279.3,82.5 281.4,90.6" fill="none" stroke="#c4d4e4" stroke-width="0.6"/>
<polyline points="31.5,44.9 33.6,45.0 35.7,54.8 37.8,45.2 39.9,45.3 42.0,32.6 44.1,28.4 46.2,46.6 48.3,52.5 50.4,46.0 52.5,51.4 54.6,53.1 56.7,47.0 58.8,56.4 60.9,40.6 63.0,47.5 65.1,44.1 67.2,48.7 69.3,54.2 71.4,56.5 73.5,50.0 75.6,52.9 77.7,45.4 79.8,47.8 81.9,60.9 84.0,47.9 86.1,61.4 88.2,54.7 90.3,51.6 92.4,68.2 94.5,48.0 96.6,47.7 98.7,51.1 100.8,53.8 102.9,54.2 105.0,59.4 107.1,50.1 109.2,57.5 111.3,60.4 113.4,57.0 115.5,59.7 117.6,64.6 119.7,62.3 121.8,53.1 123.9,54.0 126.0,49.2 128.1,96.5 130.2,63.5 132.3,63.9 134.4,58.5 136.5,64.8 138.6,65.7 140.7,54.1 142.8,59.4 144.9,73.5 147.0,50.5 149.1,53.6 151.2,68.3 153.3,55.5 155.4,70.5 157.5,53.5 159.6,65.5 161.7,72.0 163.8,67.6 165.9,72.1 168.0,62.4 170.1,62.8 172.2,64.2 174.3,70.8 176.4,104.7 178.5,64.4 180.6,86.1 182.7,63.6 184.8,56.3 186.9,63.8 189.0,70.6 191.1,68.6 193.2,68.3 195.3,73.1 197.4,73.7 199.5,77.4 201.6,57.0 203.7,81.8 205.8,59.0 207.9,69.9 210.0,66.5 212.1,69.0 214.2,63.1 216.3,60.0 218.4,65.0 220.5,74.4 222.6,75.6 224.7,52.7 226.8,70.0 228.9,70.1 231.0,54.3 233.1,57.5 235.2,80.0 237.3,71.2 239.4,46.6 241.5,63.4 243.6,62.1 245.7,68.6 247.8,82.2 249.9,81.3 252.0,63.2 254.1,63.3 256.2,69.2 258.3,79.4 260.4,82.3 262.5,70.1 264.6,82.4 266.7,58.8 268.8,56.6 270.9,42.2 273.0,58.9 275.1,72.8 277.2,75.9 279.3,104.0 281.4,72.8" fill="none" stroke="#7aa0d0" stroke-width="0.3" marker-start="url(#m15)" marker-mid="url(#m15)" marker-end="url(#m15)"/>
<polyline points="31.5,50.8 33.6,56.4 35.7,49.9 37.8,52.7 39.9,46.9 42.0,59.3 44.1,45.8 46.2,46.6 48.3,49.3 50.4,52.2 52.5,42.9 54.6,64.2 56.7,44.2 58.8,46.4 60.9,46.0 63.0,45.0 65.1,55.0 67.2,51.5 69.3,43.0 71.4,45.3 73.5,47.5 75.6,63.7 77.7,44.2 79.8,38.1 81.9,39.9 84.0,47.7 86.1,64.8 88.2,41.0 90.3,51.6 92.4,74.0 94.5,46.5 96.6,64.5 98.7,62.9 100.8,56.8 102.9,57.4 105.0,50.1 107.1,52.5 109.2,52.7 111.3,55.2 113.4,52.5 115.5,47.4 117.6,66.1 119.7,61.1 121.8,69.4 123.9,46.4 126.0,48.7 128.1,52.5 130.2,68.8 132.3,56.9 134.4,60.4 136.5,57.8 138.6,60.3 140.7,54.8 142.8,62.7 144.9,52.9 147.0,57.7 149.1,62.6 151.2,61.1 153.3,64.5 155.4,66.9 157.5,63.3 159.6,58.6 161.7,64.8 163.8,75.6 165.9,54.6 168.0,71.9 170.1,56.6 172.2,58.8 174.3,78.3 176.4,71.6 178.5,67.6 180.6,70.8 182.7,74.5 184.8,57.5 186.9,65.7 189.0,60.6 191.1,68.0 193.2,61.6 195.3,71.6 197.4,64.6 199.5,59.8 201.6,63.9 203.7,87.1 205.8,75.0 207.9,62.9 210.0,61.5 212.1,66.7 214.2,71.8 216.3,59.9 218.4,44.9 220.5,67.1 222.6,61.5 224.7,61.1 226.8,89.4 228.9,63.0 231.0,71.0 233.1,53.3 235.2,66.4 237.3,71.6 239.4,66.1 241.5,62.6 243.6,69.4 245.7,64.4 247.8,77.2 249.9,66.0 252.0,57.8 254.1,48.6 256.2,58.3 258.3,61.6 260.4,54.6 262.5,55.8 264.6,50.8 266.7,55.3 268.8,64.8 270.9,61.6 273.0,62.2 275.1,61.2 277.2,62.0 279.3,71.2 281.4,84.2" fill="none" stroke="#7cc0e8" stroke-width="0.3" marker-start="url(#m16)" marker-mid="url(#m16)" marker-end="url(#m16)"/>
<polyline points="31.5,37.3 33.6,53.3 35.7,47.1 37.8,32.5 39.9,33.5 42.0,49.9 44.1,51.2 46.2,60.8 48.3,55.5 50.4,44.7 52.5,44.7 54.6,47.3 56.7,38.3 58.8,55.3 60.9,48.6 63.0,40.9 65.1,42.3 67.2,37.2 69.3,43.6 71.4,50.1 73.5,43.6 75.6,56.6 77.7,62.6 79.8,41.4 81.9,47.4 84.0,43.6 86.1,62.3 88.2,49.8 90.3,52.0 92.4,54.5 94.5,67.5 96.6,49.3 98.7,37.0 100.8,41.9 102.9,54.1 105.0,58.0 107.1,51.8 109.2,51.9 111.3,56.8 113.4,50.0 115.5,49.5 117.6,51.2 119.7,47.3 121.8,46.6 123.9,55.0 126.0,48.4 128.1,49.8 130.2,49.8 132.3,48.3 134.4,53.1 136.5,52.5 138.6,53.3 140.7,52.9 142.8,50.7 144.9,55.5 147.0,54.2 149.1,49.0 151.2,51.0 153.3,49.7 155.4,57.5 157.5,53.6 159.6,52.9 161.7,50.9 163.8,53.1 165.9,48.5 168.0,51.3 170.1,51.1 172.2,51.2 174.3,49.3 176.4,53.0 178.5,48.3 180.6,50.2 182.7,51.1 184.8,51.5 186.9,50.2 189.0,48.8 191.1,49.1 193.2,50.7 195.3,49.4 197.4,51.6 199.5,48.3 201.6,52.0 203.7,59.4 205.8,48.1 207.9,51.6 210.0,56.1 212.1,52.6 214.2,55.0 216.3,45.9 218.4,50.4 220.5,57.5 222.6,50.3 224.7,53.3 226.8,46.4 228.9,55.6 231.0,59.9 233.1,51.6 235.2,53.0 237.3,53.3 239.4,59.5 241.5,50.6 243.6,47.0 245.7,58.7 247.8,48.4 249.9,53.8 252.0,45.1 254.1,50.5 256.2,52.4 258.3,48.6 260.4,50.2 262.5,53.8 264.6,49.7 266.7,53.5 268.8,58.1 270.9,46.0 273.0,52.9 275.1,53.9 277.2,50.7 279.3,57.3 281.4,56.5" fill="none" stroke="#a0f4d0" stroke-width="0.3" marker-start="url(#m17)" marker-mid="url(#m17)" marker-end="url(#m17)"/>
<polyline points="31.5,48.0 33.6,42.4 35.7,35.2 37.8,69.5 39.9,45.9 42.0,40.3 44.1,39.3 46.2,29.2 48.3,34.6 50.4,43.1 52.5,44.1 54.6,40.5 56.7,54.3 58.8,49.9 60.9,40.5 63.0,32.3 65.1,51.1 67.2,51.0 69.3,49.8 71.4,39.5 73.5,53.3 75.6,38.4 77.7,61.8 79.8,54.9 81.9,56.0 84.0,47.5 86.1,45.8 88.2,70.5 90.3,64.7 92.4,52.7 94.5,62.5 96.6,71.5 98.7,48.2 100.8,54.3 102.9,71.5 105.0,72.6 107.1,66.8 109.2,57.9 111.3,74.7 113.4,65.2 115.5,64.9 117.6,84.7 119.7,70.0 121.8,84.8 123.9,63.3 126.0,85.1 128.1,75.3 130.2,93.7 132.3,75.8 134.4,88.0 136.5,71.2 138.6,81.0 140.7,91.4 142.8,71.0 144.9,73.8 147.0,90.5 149.1,70.4 151.2,87.8 153.3,88.5 155.4,83.3 157.5,95.6 159.6,91.8 161.7,88.4 163.8,69.9 165.9,70.7 168.0,91.2 170.1,70.4 172.2,89.1 174.3,84.8 176.4,79.8 178.5,86.8 180.6,63.8 182.7,88.3 184.8,108.4 186.9,77.4 189.0,98.3 191.1,97.2 193.2,135.9 195.3,82.7 197.4,85.2 199.5,85.4 201.6,83.3 203.7,75.3 205.8,94.8 207.9,83.6 210.0,104.6 212.1,99.0 214.2,82.1 216.3,89.5 218.4,112.8 220.5,89.7 222.6,96.3 224.7,105.3 226.8,88.7 228.9,99.3 231.0,115.9 233.1,109.3 235.2,73.7 237.3,114.9 239.4,90.8 241.5,86.4 243.6,86.0 245.7,110.6 247.8,97.6 249.9,91.4 252.0,84.0 254.1,102.1 256.2,109.4 258.3,81.6 260.4,80.4 262.5,88.6 264.6,101.3 266.7,88.1 268.8,91.3 270.9,83.2 273.0,110.2 275.1,110.9 277.2,94.6 279.3,108.0 281.4,89.8" fill="none" stroke="#6070c0" stroke-width="0.3" marker-start="url(#m18)" marker-mid="url(#m18)" marker-end="url(#m18)"/>
<polyline points="31.5,39.5 33.6,48.7 35.7,34.5 37.8,47.8 39.9,36.1 42.0,56.4 44.1,56.2 46.2,46.0 48.3,54.5 50.4,41.7 52.5,46.8 54.6,59.2 56.7,50.8 58.8,55.2 60.9,42.7 63.0,57.6 65.1,56.1 67.2,41.1 69.3,37.3 71.4,38.3 73.5,55.0 75.6,53.3 77.7,40.2 79.8,56.9 81.9,65.9 84.0,56.8 86.1,54.4 88.2,66.9 90.3,74.4 92.4,72.2 94.5,52.6 96.6,67.2 98.7,62.6 100.8,60.1 102.9,67.1 105.0,73.5 107.1,65.4 109.2,88.1 111.3,71.8 113.4,67.6 115.5,70.0 117.6,62.7 119.7,90.7 121.8,95.9 123.9,74.0 126.0,72.5 128.1,55.3 130.2,99.8 132.3,92.5 134.4,72.0 136.5,94.2 138.6,104.6 140.7,53.7 142.8,80.8 144.9,77.0 147.0,79.5 149.1,65.7 151.2,84.2 153.3,73.8 155.4,103.9 157.5,109.9 159.6,72.9 161.7,72.8 163.8,84.7 165.9,88.5 168.0,117.0 170.1,102.6 172.2,74.5 174.3,85.5 176.4,87.8 178.5,89.8 180.6,82.4 182.7,89.3 184.8,87.0 186.9,114.3 189.0,90.8 191.1,71.2 193.2,105.9 195.3,100.5 197.4,88.3 199.5,87.4 201.6,91.4 203.7,123.7 205.8,92.8 207.9,116.9 210.0,111.4 212.1,92.0 214.2,103.1 216.3,88.8 218.4,60.6 220.5,89.0 222.6,89.6 224.7,112.0 226.8,108.1 228.9,114.5 231.0,106.3 233.1,114.8 235.2,108.1 237.3,101.1 239.4,113.2 241.5,119.6 243.6,132.0 245.7,92.3 247.8,96.9 249.9,85.3 252.0,85.0 254.1,102.7 256.2,119.2 258.3,119.4 260.4,69.9 262.5,82.9 264.6,100.5 266.7,114.9 268.8,92.5 270.9,125.6 273.0,108.9 275.1,87.9 277.2,95.9 279.3,104.3 281.4,85.3" fill="none" stroke="#a0b0f8" stroke-width="0.3" marker-start="url(#m19)" marker-mid="url(#m19)" marker-end="url(#m19)"/>
<polyline points="31.5,35.9 33.6,45.0 35.7,37.3 37.8,51.4 39.9,47.6 42.0,54.6 44.1,34.2 46.2,45.4 48.3,52.0 50.4,48.7 52.5,48.4 54.6,40.5 56.7,63.2 58.8,58.2 60.9,51.9 63.0,31.3 65.1,39.2 67.2,50.5 69.3,43.6 71.4,34.4 73.5,53.9 75.6,55.0 77.7,39.5 79.8,46.9 81.9,46.1 84.0,58.5 86.1,37.5 88.2,37.9 90.3,49.0 92.4,47.6 94.5,73.7 96.6,49.2 98.7,58.4 100.8,53.0 102.9,73.9 105.0,79.5 107.1,69.6 109.2,74.1 111.3,61.5 113.4,92.4 115.5,50.1 117.6,93.4 119.7,50.1 121.8,81.2 123.9,63.6 126.0,83.9 128.1,86.4 130.2,69.5 132.3,65.2 134.4,87.9 136.5,61.3 138.6,83.4 140.7,72.7 142.8,70.9 144.9,69.4 147.0,98.8 149.1,60.3 151.2,71.5 153.3,83.0 155.4,91.1 157.5,100.1 159.6,96.3 161.7,73.7 163.8,84.0 165.9,94.7 168.0,87.3 170.1,65.1 172.2,85.6 174.3,89.4 176.4,68.5 178.5,77.9 180.6,82.6 182.7,91.4 184.8,104.2 186.9,99.7 189.0,91.1 191.1,88.1 193.2,81.9 195.3,80.3 197.4,84.2 199.5,84.1 201.6,99.7 203.7,114.7 205.8,93.1 207.9,98.8 210.0,94.8 212.1,89.8 214.2,102.5 216.3,100.7 218.4,87.3 220.5,84.8 222.6,94.5 224.7,80.7 226.8,88.7 228.9,99.2 231.0,85.3 233.1,66.3 235.2,94.5 237.3,73.6 239.4,71.3 241.5,70.1 243.6,96.2 245.7,64.7 247.8,84.1 249.9,88.6 252.0,88.3 254.1,79.0 256.2,84.6 258.3,87.4 260.4,71.9 262.5,94.5 264.6,98.7 266.7,76.8 268.8,77.6 270.9,73.6 273.0,98.8 275.1,73.6 277.2,79.7 279.3,66.6 281.4,117.0" fill="none" stroke="#8a80b8" stroke-width="0.3" marker-start="url(#m20)" marker-mid="url(#m20)" marker-end="url(#m20)"/>
<polyline points="31.5,34.0 33.6,43.8 35.7,56.8 37.8,38.2 39.9,50.0 42.0,47.1 44.1,50.0 46.2,47.4 48.3,65.7 50.4,32.5 52.5,42.9 54.6,35.6 56.7,30.5 58.8,47.6 60.9,64.6 63.0,55.9 65.1,59.3 67.2,53.6 69.3,49.3 71.4,69.8 73.5,47.9 75.6,65.3 77.7,48.1 79.8,52.5 81.9,55.3 84.0,54.2 86.1,59.4 88.2,60.4 90.3,70.2 92.4,54.5 94.5,37.6 96.6,38.5 98.7,43.7 100.8,50.6 102.9,63.9 105.0,69.8 107.1,85.9 109.2,76.6 111.3,58.6 113.4,75.5 115.5,79.4 117.6,63.1 119.7,62.7 121.8,63.4 123.9,83.8 126.0,75.4 128.1,65.0 130.2,84.8 132.3,86.9 134.4,69.2 136.5,62.2 138.6,95.1 140.7,115.8 142.8,100.8 144.9,95.5 147.0,84.2 149.1,76.3 151.2,97.9 153.3,93.9 155.4,83.0 157.5,98.5 159.6,86.3 161.7,95.1 163.8,57.3 165.9,78.1 168.0,99.3 170.1,102.0 172.2,94.7 174.3,112.2 176.4,99.8 178.5,100.4 180.6,80.7 182.7,97.0 184.8,102.6 186.9,110.9 189.0,109.1 191.1,93.8 193.2,96.4 195.3,81.2 197.4,103.3 199.5,82.4 201.6,91.4 203.7,94.2 205.8,122.8 207.9,112.5 210.0,85.7 212.1,78.4 214.2,91.6 216.3,85.3 218.4,99.6 220.5,99.1 222.6,103.2 224.7,82.8 226.8,89.8 228.9,96.9 231.0,98.2 233.1,87.2 235.2,89.8 237.3,105.2 239.4,74.1 241.5,90.4 243.6,93.1 245.7,76.7 247.8,81.7 249.9,94.3 252.0,87.0 254.1,108.1 256.2,102.0 258.3,124.9 260.4,79.2 262.5,119.7 264.6,85.1 266.7,104.4 268.8,106.4 270.9,95.2 273.0,89.5 275.1,85.6 277.2,72.6 279.3,88.3 281.4,82.4" fill="none" stroke="#9a96cc" stroke-width="0.3" marker-start="url(#m21)" marker-mid="url(#m21)" marker-end="url(#m21)"/>
<polyline points="31.5,43.9 33.6,23.3 35.7,38.2 37.8,38.8 39.9,41.4 42.0,38.2 44.1,43.4 46.2,40.0 48.3,49.3 50.4,42.8 52.5,22.8 54.6,41.0 56.7,43.0 58.8,35.7 60.9,33.9 63.0,51.3 65.1,42.9 67.2,32.4 69.3,39.3 71.4,41.2 73.5,27.3 75.6,48.9 77.7,41.6 79.8,47.5 81.9,28.4 84.0,61.9 86.1,50.3 88.2,49.1 90.3,37.5 92.4,38.0 94.5,30.4 96.6,59.3 98.7,37.7 100.8,48.2 102.9,64.4 105.0,52.5 107.1,57.4 109.2,64.0 111.3,60.3 113.4,60.2 115.5,58.1 117.6,56.5 119.7,66.2 121.8,69.2 123.9,54.1 126.0,81.2 128.1,68.9 130.2,47.2 132.3,95.0 134.4,70.9 136.5,56.0 138.6,83.6 140.7,37.5 142.8,96.4 144.9,49.7 147.0,48.9 149.1,55.6 151.2,68.0 153.3,61.9 155.4,77.2 157.5,57.9 159.6,80.7 161.7,70.1 163.8,56.8 165.9,81.5 168.0,72.1 170.1,78.3 172.2,85.3 174.3,56.3 176.4,65.0 178.5,88.4 180.6,69.6 182.7,79.4 184.8,78.1 186.9,69.0 189.0,79.4 191.1,60.4 193.2,79.9 195.3,60.7 197.4,71.7 199.5,62.3 201.6,78.2 203.7,77.7 205.8,86.2 207.9,65.0 210.0,61.3 212.1,49.1 214.2,57.6 216.3,68.3 218.4,73.6 220.5,66.8 222.6,85.5 224.7,55.7 226.8,61.0 228.9,81.7 231.0,79.7 233.1,56.6 235.2,67.4 237.3,73.6 239.4,58.3 241.5,75.6 243.6,74.2 245.7,76.5 247.8,96.2 249.9,61.5 252.0,86.2 254.1,77.8 256.2,80.1 258.3,62.8 260.4,71.1 262.5,70.1 264.6,92.2 266.7,71.3 268.8,89.5 270.9,66.9 273.0,66.3 275.1,70.3 277.2,49.0 279.3,64.6 281.4,63.8" fill="none" stroke="#c8c4f0" stroke-width="0.3" marker-start="url(#m22)" marker-mid="url(#m22)" marker-end="url(#m22)"/>
<polyline points="31.5,45.3 33.6,33.7 35.7,47.8 37.8,58.9 39.9,43.3 42.0,54.2 44.1,46.4 46.2,36.6 48.3,37.1 50.4,24.7 52.5,42.5 54.6,55.4 56.7,48.4 58.8,50.1 60.9,52.8 63.0,37.1 65.1,47.6 67.2,60.4 69.3,35.4 71.4,43.6 73.5,39.1 75.6,41.6 77.7,36.4 79.8,42.3 81.9,30.9 84.0,39.2 86.1,39.8 88.2,39.8 90.3,57.4 92.4,45.2 94.5,46.2 96.6,42.0 98.7,57.2 100.8,28.7 102.9,56.1 105.0,59.5 107.1,49.6 109.2,48.6 111.3,72.4 113.4,49.3 115.5,54.1 117.6,50.4 119.7,54.9 121.8,73.7 123.9,73.2 126.0,42.9 128.1,57.7 130.2,77.3 132.3,57.2 134.4,65.1 136.5,83.8 138.6,89.8 140.7,81.6 142.8,59.0 144.9,62.7 147.0,65.6 149.1,59.9 151.2,57.0 153.3,90.2 155.4,67.4 157.5,74.4 159.6,79.8 161.7,71.3 163.8,66.0 165.9,68.1 168.0,83.7 170.1,71.4 172.2,44.9 174.3,79.3 176.4,87.8 178.5,63.3 180.6,60.2 182.7,61.8 184.8,81.4 186.9,56.8 189.0,77.5 191.1,82.4 193.2,75.7 195.3,69.4 197.4,60.8 199.5,61.7 201.6,68.4 203.7,58.5 205.8,67.2 207.9,58.8 210.0,86.5 212.1,88.7 214.2,60.0 216.3,86.2 218.4,71.9 220.5,69.2 222.6,74.3 224.7,73.8 226.8,53.5 228.9,101.1 231.0,58.6 233.1,44.1 235.2,67.5 237.3,67.9 239.4,60.2 241.5,48.8 243.6,83.2 245.7,66.7 247.8,70.0 249.9,61.8 252.0,65.9 254.1,60.7 256.2,73.0 258.3,66.9 260.4,76.2 262.5,76.1 264.6,69.2 266.7,69.2 268.8,82.7 270.9,51.1 273.0,69.0 275.1,85.4 277.2,55.9 279.3,77.0 281.4,61.9" fill="none" stroke="#c0a4d8" stroke-width="0.3" marker-start="url(#m23)" marker-mid="url(#m23)" marker-end="url(#m23)"/>
<polyline points="31.5,41.2 33.6,53.5 35.7,58.5 37.8,46.0 39.9,45.4 42.0,52.2 44.1,44.9 46.2,51.7 48.3,40.1 50.4,52.7 52.5,47.2 54.6,38.3 56.7,31.9 58.8,58.6 60.9,53.4 63.0,56.8 65.1,41.6 67.2,61.0 69.3,55.9 71.4,52.5 73.5,61.7 75.6,61.4 77.7,56.8 79.8,72.4 81.9,67.2 84.0,58.6 86.1,54.1 88.2,57.5 90.3,72.2 92.4,59.8 94.5,47.9 96.6,51.2 98.7,58.5 100.8,66.9 102.9,66.0 105.0,64.5 107.1,66.0 109.2,74.4 111.3,68.7 113.4,52.2 115.5,95.6 117.6,70.8 119.7,68.3 121.8,85.1 123.9,89.8 126.0,54.7 128.1,100.2 130.2,56.6 132.3,71.9 134.4,77.0 136.5,73.9 138.6,73.1 140.7,68.5 142.8,76.5 144.9,80.0 147.0,80.4 149.1,69.3 151.2,75.3 153.3,96.8 155.4,92.6 157.5,81.6 159.6,93.3 161.7,90.7 163.8,98.6 165.9,90.1 168.0,82.9 170.1,77.6 172.2,88.0 174.3,67.5 176.4,90.0 178.5,57.0 180.6,79.8 182.7,85.4 184.8,97.4 186.9,128.4 189.0,117.1 191.1,90.5 193.2,73.0 195.3,111.4 197.4,74.0 199.5,97.0 201.6,86.1 203.7,127.0 205.8,92.1 207.9,98.0 210.0,86.4 212.1,92.4 214.2,108.3 216.3,83.5 218.4,86.0 220.5,87.0 222.6,82.7 224.7,81.7 226.8,93.3 228.9,110.8 231.0,111.1 233.1,78.9 235.2,98.7 237.3,91.7 239.4,98.4 241.5,92.3 243.6,92.3 245.7,97.0 247.8,101.7 249.9,70.2 252.0,90.0 254.1,100.3 256.2,132.1 258.3,101.7 260.4,84.8 262.5,84.3 264.6,94.9 266.7,91.5 268.8,96.0 270.9,106.4 273.0,78.5 275.1,88.0 277.2,66.3 279.3,101.6 281.4,93.5" fill="none" stroke="#eaa8ea" stroke-width="0.3" marker-start="url(#m24)" marker-mid="url(#m24)" marker-end="url(#m24)"/>
<polyline points="31.5,36.6 33.6,48.1 35.7,54.0 37.8,51.6 39.9,31.1 42.0,44.2 44.1,35.3 46.2,51.1 48.3,37.2 50.4,52.5 52.5,49.4 54.6,32.2 56.7,42.6 58.8,55.2 60.9,51.2 63.0,47.0 65.1,38.8 67.2,56.3 69.3,69.4 71.4,56.6 73.5,54.2 75.6,53.1 77.7,41.1 79.8,51.4 81.9,47.5 84.0,67.1 86.1,49.2 88.2,41.0 90.3,50.1 92.4,55.1 94.5,56.4 96.6,41.9 98.7,68.9 100.8,62.1 102.9,63.6 105.0,73.7 107.1,96.7 109.2,82.9 111.3,73.8 113.4,72.9 115.5,77.7 117.6,69.7 119.7,70.8 121.8,77.3 123.9,80.9 126.0,84.9 128.1,78.6 130.2,76.4 132.3,84.9 134.4,82.6 136.5,91.3 138.6,104.9 140.7,101.4 142.8,83.6 144.9,87.3 147.0,77.6 149.1,92.4 151.2,85.8 153.3,82.1 155.4,85.6 157.5,102.5 159.6,98.0 161.7,95.2 163.8,108.6 165.9,93.1 168.0,88.5 170.1,104.3 172.2,80.8 174.3,103.1 176.4,102.6 178.5,103.6 180.6,109.8 182.7,97.9 184.8,102.2 186.9,87.3 189.0,97.7 191.1,98.9 193.2,107.2 195.3,122.2 197.4,106.7 199.5,115.8 201.6,96.5 203.7,105.8 205.8,89.6 207.9,98.4 210.0,97.4 212.1,103.0 214.2,103.2 216.3,98.9 218.4,96.3 220.5,113.5 222.6,100.3 224.7,80.1 226.8,105.9 228.9,107.8 231.0,113.0 233.1,122.1 235.2,93.3 237.3,103.9 239.4,101.6 241.5,87.0 243.6,80.6 245.7,115.0 247.8,94.2 249.9,98.3 252.0,100.3 254.1,99.5 256.2,104.2 258.3,88.9 260.4,98.0 262.5,100.5 264.6,92.0 266.7,95.2 268.8,99.2 270.9,100.4 273.0,86.9 275.1,98.6 277.2,104.4 279.3,113.6 281.4,107.3" fill="none" stroke="#ecd8f0" stroke-width="0.3" marker-start="url(#m25)" marker-mid="url(#m25)" marker-end="url(#m25)"/>
<polyline points="31.5,36.9 33.6,34.0 35.7,45.8 37.8,39.8 39.9,46.8 42.0,44.2 44.1,47.0 46.2,56.3 48.3,45.6 50.4,37.2 52.5,56.0 54.6,50.6 56.7,42.9 58.8,59.9 60.9,47.9 63.0,59.5 65.1,38.8 67.2,34.1 69.3,35.5 71.4,55.7 73.5,46.7 75.6,52.6 77.7,52.7 79.8,38.9 81.9,67.6 84.0,46.2 86.1,58.1 88.2,44.0 90.3,55.8 92.4,63.8 94.5,55.1 96.6,51.7 98.7,59.9 100.8,56.5 102.9,85.4 105.0,72.8 107.1,91.9 109.2,102.3 111.3,104.0 113.4,72.3 115.5,78.4 117.6,93.9 119.7,69.4 121.8,93.2 123.9,101.8 126.0,101.2 128.1,87.8 130.2,78.1 132.3,77.2 134.4,89.0 136.5,109.9 138.6,103.5 140.7,108.4 142.8,98.6 144.9,108.4 147.0,96.4 149.1,91.1 151.2,101.6 153.3,94.7 155.4,114.7 157.5,123.0 159.6,111.4 161.7,114.2 163.8,90.9 165.9,110.5 168.0,90.0 170.1,109.7 172.2,87.5 174.3,100.3 176.4,113.5 178.5,97.8 180.6,119.6 182.7,122.7 184.8,131.2 186.9,106.6 189.0,111.1 191.1,112.0 193.2,117.7 195.3,94.8 197.4,119.2 199.5,123.7 201.6,97.5 203.7,95.3 205.8,108.3 207.9,122.9 210.0,121.5 212.1,104.8 214.2,111.9 216.3,93.4 218.4,133.0 220.5,103.8 222.6,121.5 224.7,112.1 226.8,112.9 228.9,99.3 231.0,121.5 233.1,133.2 235.2,118.6 237.3,120.7 239.4,127.0 241.5,96.8 243.6,95.1 245.7,107.9 247.8,126.9 249.9,112.8 252.0,121.4 254.1,93.4 256.2,107.0 258.3,104.9 260.4,116.8 262.5,116.9 264.6,122.3 266.7,127.6 268.8,106.0 270.9,109.2 273.0,122.5 275.1,116.1 277.2,91.4 279.3,124.7 281.4,124.0" fill="none" stroke="#e0e0f6" stroke-width="0.3" marker-start="url(#m26)" marker-mid="url(#m26)" marker-end="url(#m26)"/>
<polyline points="31.5,46.1 33.6,61.2 35.7,32.5 37.8,35.1 39.9,41.2 42.0,42.5 44.1,33.2 46.2,47.6 48.3,49.9 50.4,45.2 52.5,32.3 54.6,57.8 56.7,33.6 58.8,51.5 60.9,55.7 63.0,32.9 65.1,46.5 67.2,58.3 69.3,50.2 71.4,38.2 73.5,35.8 75.6,51.5 77.7,43.4 79.8,40.6 81.9,54.3 84.0,45.4 86.1,49.7 88.2,54.6 90.3,54.1 92.4,48.7 94.5,49.2 96.6,55.4 98.7,54.8 100.8,40.3 102.9,62.5 105.0,67.1 107.1,65.2 109.2,58.1 111.3,49.9 113.4,79.1 115.5,63.3 117.6,63.3 119.7,64.8 121.8,66.3 123.9,68.2 126.0,57.7 128.1,70.4 130.2,67.5 132.3,66.7 134.4,66.3 136.5,69.4 138.6,59.9 140.7,68.6 142.8,67.5 144.9,69.9 147.0,80.5 149.1,79.1 151.2,81.9 153.3,69.4 155.4,87.1 157.5,83.0 159.6,70.0 161.7,67.9 163.8,91.5 165.9,58.7 168.0,72.9 170.1,74.6 172.2,64.8 174.3,73.5 176.4,81.0 178.5,56.1 180.6,86.7 182.7,76.4 184.8,68.4 186.9,87.6 189.0,77.4 191.1,73.3 193.2,56.3 195.3,87.0 197.4,78.0 199.5,71.8 201.6,76.8 203.7,90.6 205.8,73.9 207.9,76.4 210.0,73.5 212.1,67.6 214.2,68.5 216.3,73.7 218.4,74.5 220.5,89.2 222.6,78.6 224.7,75.2 226.8,81.4 228.9,76.2 231.0,86.0 233.1,63.8 235.2,58.5 237.3,81.1 239.4,73.4 241.5,79.4 243.6,65.9 245.7,73.0 247.8,76.0 249.9,79.1 252.0,75.6 254.1,87.6 256.2,70.8 258.3,84.3 260.4,71.9 262.5,75.4 264.6,67.1 266.7,76.6 268.8,67.6 270.9,86.4 273.0,71.1 275.1,78.7 277.2,74.6 279.3,75.6 281.4,68.2" fill="none" stroke="#eef2f4" stroke-width="0.3" marker-start="url(#m27)" marker-mid="url(#m27)" marker-end="url(#m27)"/>
<polyline points="31.5,38.9 33.6,32.2 35.7,29.3 37.8,35.7 39.9,25.1 42.0,50.3 44.1,34.7 46.2,45.6 48.3,25.6 50.4,26.0 52.5,61.5 54.6,52.8 56.7,37.6 58.8,36.6 60.9,37.0 63.0,44.9 65.1,39.9 67.2,38.4 69.3,46.1 71.4,35.7 73.5,67.2 75.6,39.7 77.7,55.5 79.8,36.6 81.9,48.6 84.0,55.3 86.1,43.7 88.2,56.1 90.3,56.0 92.4,62.1 94.5,47.8 96.6,43.1 98.7,38.4 100.8,50.2 102.9,77.3 105.0,57.8 107.1,73.8 109.2,52.3 111.3,79.2 113.4,70.8 115.5,77.6 117.6,50.3 119.7,75.0 121.8,62.3 123.9,68.7 126.0,81.6 128.1,67.7 130.2,59.5 132.3,67.0 134.4,57.9 136.5,69.6 138.6,66.2 140.7,70.7 142.8,64.2 144.9,51.7 147.0,64.8 149.1,66.6 151.2,91.2 153.3,76.9 155.4,56.9 157.5,81.3 159.6,79.4 161.7,71.0 163.8,74.8 165.9,54.0 168.0,96.2 170.1,68.0 172.2,65.3 174.3,83.7 176.4,78.8 178.5,68.4 180.6,58.5 182.7,82.7 184.8,90.1 186.9,64.9 189.0,60.4 191.1,77.4 193.2,98.3 195.3,61.8 197.4,76.7 199.5,64.8 201.6,75.0 203.7,78.6 205.8,79.4 207.9,61.7 210.0,62.0 212.1,97.8 214.2,84.6 216.3,59.0 218.4,78.3 220.5,89.1 222.6,74.1 224.7,75.3 226.8,75.2 228.9,79.4 231.0,77.5 233.1,79.0 235.2,71.1 237.3,82.9 239.4,77.1 241.5,75.5 243.6,62.7 245.7,70.7 247.8,75.0 249.9,69.2 252.0,70.3 254.1,64.4 256.2,69.4 258.3,58.3 260.4,62.1 262.5,74.1 264.6,78.1 266.7,66.0 268.8,69.1 270.9,74.5 273.0,89.6 275.1,93.5 277.2,70.4 279.3,66.8 281.4,66.5" fill="none" stroke="#c0c0c0" stroke-width="0.3" marker-start="url(#m28)" marker-mid="url(#m28)" marker-end="url(#m28)"/>
<polyline points="31.5,43.2 33.6,41.2 35.7,43.4 37.8,42.5 39.9,43.3 42.0,45.1 44.1,44.5 46.2,45.1 48.3,45.3 50.4,42.9 52.5,45.0 54.6,47.1 56.7,48.5 58.8,47.6 60.9,46.9 63.0,46.5 65.1,46.0 67.2,48.1 69.3,51.2 71.4,47.9 73.5,49.3 75.6,49.6 77.7,48.8 79.8,52.8 81.9,52.2 84.0,53.3 86.1,51.8 88.2,55.1 90.3,53.8 92.4,51.3 94.5,52.7 96.6,54.9 98.7,52.9 100.8,57.8 102.9,61.3 105.0,63.1 107.1,62.3 109.2,64.3 111.3,65.9 113.4,64.6 115.5,67.9 117.6,65.1 119.7,67.2 121.8,65.5 123.9,68.6 126.0,69.5 128.1,68.1 130.2,67.1 132.3,73.8 134.4,70.3 136.5,69.9 138.6,74.2 140.7,73.8 142.8,71.5 144.9,74.8 147.0,75.0 149.1,71.2 151.2,76.7 153.3,76.9 155.4,80.0 157.5,78.1 159.6,78.8 161.7,73.7 163.8,75.0 165.9,80.0 168.0,74.4 170.1,77.0 172.2,79.2 174.3,77.7 176.4,78.9 178.5,81.4 180.6,83.6 182.7,82.4 184.8,81.2 186.9,82.2 189.0,83.3 191.1,80.5 193.2,84.7 195.3,81.4 197.4,84.4 199.5,83.2 201.6,85.5 203.7,83.4 205.8,84.7 207.9,86.5 210.0,83.2 212.1,83.3 214.2,81.6 216.3,82.6 218.4,84.9 220.5,84.1 222.6,87.5 224.7,85.0 226.8,80.5 228.9,80.0 231.0,81.4 233.1,82.2 235.2,81.6 237.3,81.8 239.4,85.8 241.5,84.2 243.6,80.3 245.7,80.3 247.8,82.0 249.9,83.0 252.0,83.1 254.1,83.3 256.2,84.0 258.3,85.8 260.4,81.9 262.5,83.0 264.6,82.5 266.7,78.9 268.8,80.9 270.9,83.3 273.0,80.9 275.1,84.7 277.2,79.9 279.3,81.3 281.4,82.1" fill="none" stroke="#000" stroke-width="0.6" marker-start="url(#me)" marker-mid="url(#me)" marker-end="url(#me)"/>
</g>
<rect x="31.5" y="4.3" width="252.0" height="149.0" fill="none" stroke="#3a3a3a" stroke-width="0.9"/>
<text transform="translate(25.90,7.20) scale(0.9,1)" font-size="9" text-anchor="end" fill="#1a1a1a">0.5</text>
<text transform="translate(25.90,49.77) scale(0.9,1)" font-size="9" text-anchor="end" fill="#1a1a1a">0.0</text>
<text transform="translate(25.90,92.34) scale(0.9,1)" font-size="9" text-anchor="end" fill="#1a1a1a">0.5</text>
<rect x="10.90" y="88.49" width="4.6" height="0.65" fill="#1a1a1a"/>
<text transform="translate(25.90,134.91) scale(0.9,1)" font-size="9" text-anchor="end" fill="#1a1a1a">1.0</text>
<rect x="10.90" y="131.06" width="4.6" height="0.65" fill="#1a1a1a"/>
<text transform="translate(46.20,165.30) scale(0.9,1)" font-size="9" text-anchor="middle" fill="#1a1a1a">1988</text>
<text transform="translate(75.60,165.30) scale(0.9,1)" font-size="9" text-anchor="middle" fill="#1a1a1a">2002</text>
<text transform="translate(105.00,165.30) scale(0.9,1)" font-size="9" text-anchor="middle" fill="#1a1a1a">2016</text>
<text transform="translate(134.40,165.30) scale(0.9,1)" font-size="9" text-anchor="middle" fill="#1a1a1a">2030</text>
<text transform="translate(163.80,165.30) scale(0.9,1)" font-size="9" text-anchor="middle" fill="#1a1a1a">2044</text>
<text transform="translate(193.20,165.30) scale(0.9,1)" font-size="9" text-anchor="middle" fill="#1a1a1a">2058</text>
<text transform="translate(222.60,165.30) scale(0.9,1)" font-size="9" text-anchor="middle" fill="#1a1a1a">2072</text>
<text transform="translate(252.00,165.30) scale(0.9,1)" font-size="9" text-anchor="middle" fill="#1a1a1a">2086</text>
<text transform="translate(281.40,165.30) scale(0.9,1)" font-size="9" text-anchor="middle" fill="#1a1a1a">2100</text>
<path d="M28.5 4.30H31.5M29.7 25.59H31.5M28.5 46.87H31.5M29.7 68.16H31.5M28.5 89.44H31.5M29.7 110.73H31.5M28.5 132.01H31.5M29.7 153.30H31.5M31.50 153.3V155.10000000000002M46.20 153.3V156.3M60.90 153.3V155.10000000000002M75.60 153.3V156.3M90.30 153.3V155.10000000000002M105.00 153.3V156.3M119.70 153.3V155.10000000000002M134.40 153.3V156.3M149.10 153.3V155.10000000000002M163.80 153.3V156.3M178.50 153.3V155.10000000000002M193.20 153.3V156.3M207.90 153.3V155.10000000000002M222.60 153.3V156.3M237.30 153.3V155.10000000000002M252.00 153.3V156.3M266.70 153.3V155.10000000000002M281.40 153.3V156.3" stroke="#3a3a3a" stroke-width="0.9" fill="none"/>
<text transform="translate(157.50,179.20) scale(0.9,1)" font-size="9.8" text-anchor="middle" fill="#1a1a1a">Year</text>
<text transform="translate(6.899999999999999,79.4) rotate(-90) scale(1,0.9)" font-size="8.2" text-anchor="middle" fill="#1a1a1a">NH mean SWEI</text>
<text transform="translate(35.80,18.90) scale(0.9,1)" font-size="17.5" text-anchor="start" font-weight="bold" fill="#000">a</text>
<text transform="translate(43.90,132.90) scale(0.9,1)" font-size="8.8" text-anchor="start" fill="#1a1a1a">CMIP6 models under SSP126</text>
<g clip-path="url(#clipb)">
<polyline points="334.2,35.8 336.3,33.4 338.4,37.9 340.5,43.1 342.6,40.8 344.7,45.4 346.8,38.0 348.9,28.1 351.0,41.8 353.1,43.0 355.2,35.4 357.3,37.3 359.4,39.9 361.5,47.8 363.6,41.1 365.7,35.5 367.8,50.9 369.9,45.1 372.0,56.5 374.1,52.7 376.2,57.0 378.4,45.1 380.5,52.6 382.6,41.6 384.7,43.1 386.8,46.5 388.9,64.2 391.0,49.9 393.1,46.2 395.2,44.8 397.3,57.1 399.4,50.1 401.5,54.6 403.6,54.0 405.7,63.3 407.8,45.0 409.9,57.4 412.0,50.2 414.1,50.3 416.2,61.1 418.3,59.6 420.4,74.0 422.5,63.5 424.6,72.5 426.7,61.5 428.8,55.3 430.9,49.0 433.0,53.7 435.1,63.3 437.2,54.4 439.3,61.9 441.4,53.5 443.5,56.6 445.6,70.1 447.7,60.2 449.8,60.3 451.9,64.6 454.0,54.4 456.1,48.1 458.2,66.9 460.4,67.3 462.5,88.2 464.6,66.0 466.7,69.8 468.8,89.2 470.9,64.1 473.0,62.2 475.1,76.0 477.2,72.8 479.3,80.0 481.4,63.5 483.5,97.0 485.6,75.0 487.7,55.3 489.8,72.5 491.9,69.5 494.0,76.0 496.1,88.2 498.2,75.9 500.3,72.4 502.4,88.1 504.5,74.0 506.6,66.5 508.7,68.5 510.8,96.5 512.9,90.1 515.0,97.9 517.1,70.4 519.2,75.0 521.3,74.6 523.4,91.5 525.5,95.4 527.6,81.7 529.7,81.9 531.8,93.1 533.9,82.4 536.0,78.2 538.1,82.5 540.2,97.1 542.3,110.1 544.5,88.9 546.6,93.5 548.7,89.8 550.8,115.6 552.9,104.0 555.0,81.4 557.1,89.1 559.2,87.7 561.3,100.9 563.4,97.1 565.5,88.7 567.6,102.6 569.7,106.1 571.8,95.4 573.9,80.7 576.0,90.6 578.1,79.1 580.2,94.8 582.3,97.4 584.4,111.0" fill="none" stroke="#a88a7a" stroke-width="0.3" marker-start="url(#m0)" marker-mid="url(#m0)" marker-end="url(#m0)"/>
<polyline points="334.2,29.1 336.3,43.0 338.4,37.6 340.5,31.3 342.6,43.2 344.7,40.5 346.8,39.1 348.9,39.3 351.0,48.7 353.1,39.4 355.2,30.3 357.3,52.9 359.4,35.7 361.5,41.7 363.6,47.2 365.7,29.1 367.8,36.8 369.9,52.1 372.0,43.7 374.1,40.6 376.2,46.6 378.4,39.9 380.5,45.5 382.6,40.2 384.7,35.0 386.8,51.8 388.9,46.0 391.0,51.1 393.1,46.6 395.2,56.1 397.3,51.9 399.4,49.8 401.5,42.4 403.6,41.1 405.7,57.6 407.8,42.9 409.9,51.0 412.0,48.4 414.1,49.0 416.2,54.5 418.3,56.8 420.4,54.3 422.5,50.6 424.6,52.5 426.7,52.6 428.8,55.6 430.9,64.8 433.0,60.2 435.1,67.4 437.2,50.3 439.3,80.6 441.4,62.0 443.5,40.7 445.6,64.5 447.7,73.5 449.8,62.3 451.9,52.0 454.0,64.9 456.1,58.7 458.2,63.5 460.4,68.9 462.5,39.0 464.6,65.5 466.7,72.4 468.8,72.7 470.9,64.9 473.0,65.4 475.1,63.0 477.2,69.1 479.3,86.8 481.4,67.2 483.5,76.0 485.6,76.4 487.7,90.5 489.8,94.0 491.9,83.6 494.0,92.9 496.1,93.3 498.2,85.7 500.3,76.9 502.4,91.2 504.5,86.1 506.6,89.3 508.7,72.0 510.8,109.4 512.9,85.0 515.0,100.6 517.1,87.0 519.2,75.0 521.3,90.4 523.4,82.4 525.5,93.9 527.6,67.0 529.7,76.8 531.8,92.7 533.9,101.4 536.0,115.7 538.1,77.0 540.2,89.6 542.3,90.8 544.5,85.2 546.6,103.4 548.7,82.0 550.8,89.4 552.9,85.6 555.0,98.4 557.1,86.2 559.2,99.8 561.3,83.0 563.4,81.8 565.5,84.3 567.6,88.4 569.7,87.8 571.8,126.6 573.9,86.8 576.0,98.3 578.1,105.1 580.2,99.4 582.3,113.2 584.4,103.4" fill="none" stroke="#9c8076" stroke-width="0.3" marker-start="url(#m1)" marker-mid="url(#m1)" marker-end="url(#m1)"/>
<polyline points="334.2,42.8 336.3,38.8 338.4,28.2 340.5,48.2 342.6,37.6 344.7,35.3 346.8,25.1 348.9,29.4 351.0,37.0 353.1,37.5 355.2,37.1 357.3,24.1 359.4,39.4 361.5,38.6 363.6,33.6 365.7,37.1 367.8,37.9 369.9,45.0 372.0,37.5 374.1,41.1 376.2,29.1 378.4,32.9 380.5,38.1 382.6,32.9 384.7,41.0 386.8,31.0 388.9,39.5 391.0,35.1 393.1,48.9 395.2,36.7 397.3,51.9 399.4,54.8 401.5,42.7 403.6,47.5 405.7,43.9 407.8,39.1 409.9,53.6 412.0,56.2 414.1,39.1 416.2,56.5 418.3,35.1 420.4,49.0 422.5,57.3 424.6,42.8 426.7,37.9 428.8,63.0 430.9,39.0 433.0,53.0 435.1,39.7 437.2,54.3 439.3,66.1 441.4,47.7 443.5,44.8 445.6,36.3 447.7,39.5 449.8,47.7 451.9,55.7 454.0,76.5 456.1,57.0 458.2,62.7 460.4,57.6 462.5,80.5 464.6,54.3 466.7,56.3 468.8,36.5 470.9,51.1 473.0,62.3 475.1,53.5 477.2,70.9 479.3,65.1 481.4,78.4 483.5,48.5 485.6,55.7 487.7,73.0 489.8,62.1 491.9,54.3 494.0,58.4 496.1,59.8 498.2,72.2 500.3,70.2 502.4,63.2 504.5,56.8 506.6,73.3 508.7,76.7 510.8,55.9 512.9,75.4 515.0,57.1 517.1,64.3 519.2,59.4 521.3,52.5 523.4,61.6 525.5,61.2 527.6,77.8 529.7,75.7 531.8,63.2 533.9,56.0 536.0,57.5 538.1,50.0 540.2,67.2 542.3,68.4 544.5,61.9 546.6,70.6 548.7,71.7 550.8,82.7 552.9,63.2 555.0,105.2 557.1,67.9 559.2,88.1 561.3,63.4 563.4,84.5 565.5,66.2 567.6,91.3 569.7,78.9 571.8,64.2 573.9,83.6 576.0,74.4 578.1,80.6 580.2,101.3 582.3,73.2 584.4,72.4" fill="none" stroke="#a78286" stroke-width="0.3" marker-start="url(#m2)" marker-mid="url(#m2)" marker-end="url(#m2)"/>
<polyline points="334.2,34.8 336.3,22.7 338.4,42.3 340.5,41.6 342.6,36.4 344.7,34.9 346.8,40.3 348.9,40.4 351.0,33.4 353.1,35.1 355.2,47.4 357.3,41.3 359.4,41.2 361.5,49.5 363.6,39.7 365.7,47.8 367.8,34.4 369.9,41.2 372.0,42.9 374.1,48.6 376.2,45.4 378.4,59.1 380.5,52.6 382.6,41.9 384.7,61.0 386.8,39.9 388.9,59.8 391.0,41.4 393.1,53.3 395.2,41.0 397.3,46.2 399.4,59.2 401.5,39.3 403.6,38.5 405.7,65.1 407.8,49.6 409.9,63.0 412.0,65.7 414.1,55.5 416.2,63.3 418.3,37.0 420.4,73.9 422.5,51.0 424.6,49.2 426.7,85.6 428.8,78.4 430.9,54.1 433.0,65.2 435.1,56.6 437.2,50.0 439.3,65.7 441.4,74.8 443.5,92.7 445.6,61.5 447.7,75.4 449.8,61.7 451.9,63.1 454.0,82.9 456.1,49.9 458.2,56.7 460.4,59.6 462.5,83.1 464.6,74.1 466.7,76.4 468.8,75.6 470.9,89.8 473.0,67.7 475.1,91.9 477.2,70.0 479.3,80.8 481.4,62.4 483.5,74.1 485.6,96.9 487.7,85.8 489.8,79.2 491.9,69.5 494.0,83.9 496.1,84.1 498.2,90.0 500.3,75.2 502.4,88.3 504.5,90.9 506.6,93.3 508.7,78.4 510.8,91.7 512.9,117.2 515.0,79.4 517.1,95.6 519.2,83.2 521.3,83.6 523.4,75.5 525.5,77.7 527.6,96.7 529.7,91.8 531.8,107.3 533.9,72.9 536.0,86.4 538.1,76.9 540.2,96.3 542.3,120.2 544.5,76.8 546.6,92.5 548.7,92.6 550.8,93.9 552.9,88.1 555.0,89.8 557.1,117.7 559.2,84.8 561.3,104.2 563.4,103.9 565.5,79.3 567.6,88.5 569.7,103.6 571.8,125.1 573.9,98.2 576.0,116.7 578.1,102.0 580.2,118.7 582.3,112.9 584.4,119.9" fill="none" stroke="#e6b0b8" stroke-width="0.3" marker-start="url(#m3)" marker-mid="url(#m3)" marker-end="url(#m3)"/>
<polyline points="334.2,38.0 336.3,39.4 338.4,38.8 340.5,45.6 342.6,31.0 344.7,44.2 346.8,40.9 348.9,46.2 351.0,44.8 353.1,49.9 355.2,31.7 357.3,43.5 359.4,35.7 361.5,43.3 363.6,48.3 365.7,45.5 367.8,47.6 369.9,44.2 372.0,48.0 374.1,48.2 376.2,56.3 378.4,52.0 380.5,33.4 382.6,51.3 384.7,54.9 386.8,45.5 388.9,38.0 391.0,59.6 393.1,50.3 395.2,53.3 397.3,61.8 399.4,44.1 401.5,50.8 403.6,50.8 405.7,52.9 407.8,48.1 409.9,46.8 412.0,73.7 414.1,54.6 416.2,52.2 418.3,63.6 420.4,80.9 422.5,39.1 424.6,57.3 426.7,51.4 428.8,65.5 430.9,60.3 433.0,82.3 435.1,62.0 437.2,50.5 439.3,42.2 441.4,75.4 443.5,57.8 445.6,64.8 447.7,73.8 449.8,68.7 451.9,61.0 454.0,78.2 456.1,59.0 458.2,82.2 460.4,93.3 462.5,83.9 464.6,93.2 466.7,90.0 468.8,60.8 470.9,76.1 473.0,72.0 475.1,62.9 477.2,62.7 479.3,83.6 481.4,63.5 483.5,74.3 485.6,79.2 487.7,89.2 489.8,100.5 491.9,92.6 494.0,84.1 496.1,76.8 498.2,89.1 500.3,86.3 502.4,74.6 504.5,70.3 506.6,77.9 508.7,73.0 510.8,108.8 512.9,92.3 515.0,85.1 517.1,93.4 519.2,96.9 521.3,72.0 523.4,93.7 525.5,105.2 527.6,86.5 529.7,72.0 531.8,92.1 533.9,79.7 536.0,100.3 538.1,101.6 540.2,105.0 542.3,97.6 544.5,75.3 546.6,113.3 548.7,78.5 550.8,112.2 552.9,101.5 555.0,99.9 557.1,92.0 559.2,96.4 561.3,124.3 563.4,96.5 565.5,126.6 567.6,72.2 569.7,116.5 571.8,100.5 573.9,120.2 576.0,110.8 578.1,121.0 580.2,93.4 582.3,109.2 584.4,99.2" fill="none" stroke="#e09ca3" stroke-width="0.3" marker-start="url(#m4)" marker-mid="url(#m4)" marker-end="url(#m4)"/>
<polyline points="334.2,40.9 336.3,31.8 338.4,39.5 340.5,37.4 342.6,45.4 344.7,46.9 346.8,28.1 348.9,41.9 351.0,35.9 353.1,38.6 355.2,42.4 357.3,43.8 359.4,36.0 361.5,43.3 363.6,42.1 365.7,40.7 367.8,32.2 369.9,36.8 372.0,40.0 374.1,47.8 376.2,54.0 378.4,36.5 380.5,36.3 382.6,45.0 384.7,40.6 386.8,39.7 388.9,40.0 391.0,39.5 393.1,49.7 395.2,34.7 397.3,55.7 399.4,40.7 401.5,44.4 403.6,42.2 405.7,58.9 407.8,57.7 409.9,44.5 412.0,62.9 414.1,71.0 416.2,51.9 418.3,65.9 420.4,59.8 422.5,49.2 424.6,64.3 426.7,50.1 428.8,63.8 430.9,46.0 433.0,47.5 435.1,63.1 437.2,79.5 439.3,68.0 441.4,58.5 443.5,51.4 445.6,76.7 447.7,54.5 449.8,76.7 451.9,72.4 454.0,82.9 456.1,47.0 458.2,81.4 460.4,63.7 462.5,73.7 464.6,58.0 466.7,90.3 468.8,78.5 470.9,67.8 473.0,74.2 475.1,70.7 477.2,65.9 479.3,81.3 481.4,73.0 483.5,65.7 485.6,73.1 487.7,72.4 489.8,80.3 491.9,74.5 494.0,77.5 496.1,66.0 498.2,73.0 500.3,82.7 502.4,108.1 504.5,74.7 506.6,93.4 508.7,102.8 510.8,105.5 512.9,96.3 515.0,75.5 517.1,96.6 519.2,90.2 521.3,83.5 523.4,75.0 525.5,86.8 527.6,88.2 529.7,93.9 531.8,73.3 533.9,78.9 536.0,90.2 538.1,105.8 540.2,99.3 542.3,85.2 544.5,99.5 546.6,83.3 548.7,88.7 550.8,89.8 552.9,87.0 555.0,88.9 557.1,104.1 559.2,98.3 561.3,73.2 563.4,109.8 565.5,120.8 567.6,86.5 569.7,119.0 571.8,107.2 573.9,113.8 576.0,93.4 578.1,89.3 580.2,86.2 582.3,99.4 584.4,90.5" fill="none" stroke="#f4c27a" stroke-width="0.3" marker-start="url(#m5)" marker-mid="url(#m5)" marker-end="url(#m5)"/>
<polyline points="334.2,19.5 336.3,21.3 338.4,41.3 340.5,46.0 342.6,28.4 344.7,42.8 346.8,35.7 348.9,29.1 351.0,47.5 353.1,51.2 355.2,34.5 357.3,37.1 359.4,40.0 361.5,38.2 363.6,44.6 365.7,49.3 367.8,39.8 369.9,46.4 372.0,52.3 374.1,37.1 376.2,41.7 378.4,38.0 380.5,48.3 382.6,46.2 384.7,49.4 386.8,49.5 388.9,42.2 391.0,49.6 393.1,41.0 395.2,41.0 397.3,30.7 399.4,54.8 401.5,38.8 403.6,46.9 405.7,61.7 407.8,51.8 409.9,75.7 412.0,52.4 414.1,48.6 416.2,46.6 418.3,64.1 420.4,45.8 422.5,60.1 424.6,65.8 426.7,57.9 428.8,71.0 430.9,74.1 433.0,55.1 435.1,59.8 437.2,53.8 439.3,62.0 441.4,59.5 443.5,75.3 445.6,60.5 447.7,70.4 449.8,75.5 451.9,63.6 454.0,61.7 456.1,81.4 458.2,81.2 460.4,68.3 462.5,61.7 464.6,63.3 466.7,59.4 468.8,65.3 470.9,64.4 473.0,69.6 475.1,81.4 477.2,94.5 479.3,76.9 481.4,70.3 483.5,71.5 485.6,74.1 487.7,90.1 489.8,70.3 491.9,74.7 494.0,74.8 496.1,75.5 498.2,84.9 500.3,90.9 502.4,75.5 504.5,76.7 506.6,83.4 508.7,86.2 510.8,61.7 512.9,91.3 515.0,85.6 517.1,81.3 519.2,112.5 521.3,83.8 523.4,69.2 525.5,77.5 527.6,80.7 529.7,96.8 531.8,86.4 533.9,79.2 536.0,90.2 538.1,93.8 540.2,88.4 542.3,81.6 544.5,87.3 546.6,84.7 548.7,115.2 550.8,97.6 552.9,70.7 555.0,80.5 557.1,97.1 559.2,103.9 561.3,91.7 563.4,106.5 565.5,88.5 567.6,102.1 569.7,87.3 571.8,84.0 573.9,121.6 576.0,95.0 578.1,106.7 580.2,126.2 582.3,106.7 584.4,102.4" fill="none" stroke="#fadcb0" stroke-width="0.3" marker-start="url(#m6)" marker-mid="url(#m6)" marker-end="url(#m6)"/>
<polyline points="334.2,32.3 336.3,42.7 338.4,35.7 340.5,27.4 342.6,34.7 344.7,34.3 346.8,37.3 348.9,26.2 351.0,35.1 353.1,51.3 355.2,41.1 357.3,51.4 359.4,61.6 361.5,41.9 363.6,27.7 365.7,37.5 367.8,46.7 369.9,45.8 372.0,31.3 374.1,39.5 376.2,40.6 378.4,41.2 380.5,40.4 382.6,34.9 384.7,37.6 386.8,41.1 388.9,51.1 391.0,39.8 393.1,48.5 395.2,35.0 397.3,53.0 399.4,45.4 401.5,45.4 403.6,55.7 405.7,46.3 407.8,67.5 409.9,46.9 412.0,40.4 414.1,50.9 416.2,51.6 418.3,56.1 420.4,67.6 422.5,52.9 424.6,54.4 426.7,52.1 428.8,38.4 430.9,52.9 433.0,55.6 435.1,47.0 437.2,73.5 439.3,72.3 441.4,86.2 443.5,69.0 445.6,57.0 447.7,66.7 449.8,49.6 451.9,52.0 454.0,58.9 456.1,70.0 458.2,69.7 460.4,60.4 462.5,79.3 464.6,65.5 466.7,63.2 468.8,68.1 470.9,57.4 473.0,61.3 475.1,81.5 477.2,72.2 479.3,83.3 481.4,69.9 483.5,85.3 485.6,68.6 487.7,74.1 489.8,69.8 491.9,80.7 494.0,96.2 496.1,65.2 498.2,83.3 500.3,69.8 502.4,78.7 504.5,94.3 506.6,67.4 508.7,81.2 510.8,72.3 512.9,102.3 515.0,78.1 517.1,89.3 519.2,88.6 521.3,87.6 523.4,85.1 525.5,73.8 527.6,110.8 529.7,89.4 531.8,98.7 533.9,80.3 536.0,96.3 538.1,87.7 540.2,97.0 542.3,86.8 544.5,84.1 546.6,98.6 548.7,94.0 550.8,122.2 552.9,92.6 555.0,88.1 557.1,103.1 559.2,86.6 561.3,122.1 563.4,120.1 565.5,115.1 567.6,104.8 569.7,99.4 571.8,101.0 573.9,101.4 576.0,94.3 578.1,107.3 580.2,117.4 582.3,117.6 584.4,83.1" fill="none" stroke="#f0d98a" stroke-width="0.3" marker-start="url(#m7)" marker-mid="url(#m7)" marker-end="url(#m7)"/>
<polyline points="334.2,21.1 336.3,23.0 338.4,37.8 340.5,29.3 342.6,33.4 344.7,56.2 346.8,35.4 348.9,37.7 351.0,36.5 353.1,45.3 355.2,40.2 357.3,40.6 359.4,30.9 361.5,37.7 363.6,40.2 365.7,28.4 367.8,44.5 369.9,44.1 372.0,55.5 374.1,31.0 376.2,35.9 378.4,36.1 380.5,37.9 382.6,42.5 384.7,42.5 386.8,47.0 388.9,47.4 391.0,45.7 393.1,34.3 395.2,41.5 397.3,46.5 399.4,51.1 401.5,52.5 403.6,36.3 405.7,74.6 407.8,55.8 409.9,44.4 412.0,51.7 414.1,63.2 416.2,56.0 418.3,50.1 420.4,47.9 422.5,65.9 424.6,52.0 426.7,56.2 428.8,50.1 430.9,48.2 433.0,62.9 435.1,74.5 437.2,57.1 439.3,46.8 441.4,56.3 443.5,60.8 445.6,43.5 447.7,75.0 449.8,57.2 451.9,71.4 454.0,65.6 456.1,65.9 458.2,54.6 460.4,78.0 462.5,74.4 464.6,86.4 466.7,65.8 468.8,75.8 470.9,68.1 473.0,84.2 475.1,77.3 477.2,65.4 479.3,77.0 481.4,70.6 483.5,86.0 485.6,81.6 487.7,95.9 489.8,70.8 491.9,78.8 494.0,72.5 496.1,104.6 498.2,101.2 500.3,107.4 502.4,93.7 504.5,75.2 506.6,80.0 508.7,86.0 510.8,85.0 512.9,80.0 515.0,90.8 517.1,84.4 519.2,87.3 521.3,114.3 523.4,94.2 525.5,78.1 527.6,95.5 529.7,93.1 531.8,99.0 533.9,98.1 536.0,82.8 538.1,96.7 540.2,106.0 542.3,117.1 544.5,101.9 546.6,118.8 548.7,117.7 550.8,89.4 552.9,90.7 555.0,120.5 557.1,90.4 559.2,94.6 561.3,108.7 563.4,93.1 565.5,119.8 567.6,115.4 569.7,118.7 571.8,115.4 573.9,94.3 576.0,119.1 578.1,117.5 580.2,115.6 582.3,102.8 584.4,109.3" fill="none" stroke="#eef08a" stroke-width="0.3" marker-start="url(#m8)" marker-mid="url(#m8)" marker-end="url(#m8)"/>
<polyline points="334.2,30.5 336.3,33.7 338.4,37.1 340.5,43.5 342.6,36.9 344.7,30.5 346.8,40.4 348.9,39.1 351.0,38.9 353.1,36.8 355.2,50.1 357.3,41.2 359.4,46.5 361.5,33.8 363.6,46.1 365.7,35.9 367.8,29.0 369.9,43.8 372.0,46.9 374.1,41.9 376.2,43.6 378.4,50.8 380.5,39.9 382.6,30.5 384.7,46.5 386.8,47.0 388.9,53.9 391.0,44.1 393.1,55.5 395.2,54.3 397.3,36.7 399.4,53.9 401.5,40.0 403.6,37.3 405.7,48.2 407.8,61.0 409.9,66.7 412.0,60.1 414.1,55.7 416.2,65.1 418.3,54.8 420.4,43.8 422.5,63.3 424.6,57.9 426.7,48.3 428.8,65.5 430.9,68.0 433.0,71.0 435.1,57.3 437.2,56.8 439.3,63.3 441.4,62.2 443.5,52.9 445.6,56.9 447.7,79.6 449.8,65.6 451.9,65.3 454.0,71.9 456.1,70.0 458.2,75.2 460.4,73.9 462.5,88.8 464.6,70.7 466.7,77.5 468.8,68.0 470.9,84.0 473.0,78.5 475.1,85.4 477.2,87.3 479.3,70.4 481.4,82.5 483.5,74.4 485.6,91.6 487.7,79.2 489.8,99.8 491.9,87.2 494.0,96.9 496.1,78.5 498.2,82.7 500.3,86.9 502.4,78.1 504.5,84.4 506.6,82.0 508.7,80.5 510.8,88.8 512.9,92.1 515.0,86.3 517.1,94.7 519.2,87.0 521.3,81.1 523.4,84.0 525.5,96.8 527.6,123.6 529.7,94.2 531.8,95.6 533.9,102.3 536.0,99.7 538.1,98.2 540.2,89.5 542.3,102.4 544.5,99.3 546.6,82.1 548.7,84.7 550.8,93.2 552.9,97.0 555.0,111.6 557.1,95.4 559.2,100.6 561.3,99.7 563.4,108.5 565.5,103.1 567.6,105.7 569.7,101.0 571.8,91.1 573.9,123.9 576.0,125.6 578.1,117.9 580.2,125.9 582.3,116.9 584.4,102.5" fill="none" stroke="#f4f6a0" stroke-width="0.3" marker-start="url(#m9)" marker-mid="url(#m9)" marker-end="url(#m9)"/>
<polyline points="334.2,34.3 336.3,31.9 338.4,23.2 340.5,38.7 342.6,42.6 344.7,48.9 346.8,39.0 348.9,27.9 351.0,31.8 353.1,46.3 355.2,46.5 357.3,44.9 359.4,39.8 361.5,43.8 363.6,40.5 365.7,39.8 367.8,44.6 369.9,43.5 372.0,42.6 374.1,45.6 376.2,41.4 378.4,31.9 380.5,40.5 382.6,44.9 384.7,58.5 386.8,44.2 388.9,62.1 391.0,58.4 393.1,41.4 395.2,42.4 397.3,49.2 399.4,61.3 401.5,52.5 403.6,55.5 405.7,51.4 407.8,60.0 409.9,53.2 412.0,62.4 414.1,69.0 416.2,69.5 418.3,64.9 420.4,46.7 422.5,70.5 424.6,48.7 426.7,48.4 428.8,60.8 430.9,60.0 433.0,66.1 435.1,60.6 437.2,55.5 439.3,61.5 441.4,54.2 443.5,53.3 445.6,60.9 447.7,61.7 449.8,65.8 451.9,62.9 454.0,78.3 456.1,63.7 458.2,66.0 460.4,77.7 462.5,51.0 464.6,80.3 466.7,79.9 468.8,68.9 470.9,93.2 473.0,81.7 475.1,90.6 477.2,85.4 479.3,77.2 481.4,73.7 483.5,67.8 485.6,71.2 487.7,68.8 489.8,74.8 491.9,86.1 494.0,71.9 496.1,88.1 498.2,90.1 500.3,70.2 502.4,77.3 504.5,82.9 506.6,78.8 508.7,78.3 510.8,102.3 512.9,88.5 515.0,101.5 517.1,87.4 519.2,96.9 521.3,77.5 523.4,85.6 525.5,100.4 527.6,91.8 529.7,106.1 531.8,106.7 533.9,88.0 536.0,91.1 538.1,116.7 540.2,98.7 542.3,90.5 544.5,92.9 546.6,85.5 548.7,112.0 550.8,92.4 552.9,105.6 555.0,96.5 557.1,95.1 559.2,93.0 561.3,106.9 563.4,98.7 565.5,115.0 567.6,118.5 569.7,96.9 571.8,103.4 573.9,122.7 576.0,114.0 578.1,104.1 580.2,90.0 582.3,95.4 584.4,98.2" fill="none" stroke="#8fbf80" stroke-width="0.3" marker-start="url(#m10)" marker-mid="url(#m10)" marker-end="url(#m10)"/>
<polyline points="334.2,25.3 336.3,16.9 338.4,28.5 340.5,36.2 342.6,39.4 344.7,31.6 346.8,32.6 348.9,39.6 351.0,30.3 353.1,39.7 355.2,23.1 357.3,23.8 359.4,24.0 361.5,35.8 363.6,28.4 365.7,33.3 367.8,35.2 369.9,35.2 372.0,42.6 374.1,43.9 376.2,27.4 378.4,34.8 380.5,31.7 382.6,25.8 384.7,46.5 386.8,39.9 388.9,33.1 391.0,31.5 393.1,37.2 395.2,26.5 397.3,32.9 399.4,43.7 401.5,42.0 403.6,29.2 405.7,56.2 407.8,47.1 409.9,44.5 412.0,45.0 414.1,44.9 416.2,48.3 418.3,39.0 420.4,40.3 422.5,47.7 424.6,53.1 426.7,37.6 428.8,50.8 430.9,41.7 433.0,50.2 435.1,53.6 437.2,46.3 439.3,50.2 441.4,45.6 443.5,46.8 445.6,38.9 447.7,46.1 449.8,49.5 451.9,43.9 454.0,51.9 456.1,52.8 458.2,39.1 460.4,56.4 462.5,54.5 464.6,51.3 466.7,58.9 468.8,66.4 470.9,47.1 473.0,58.4 475.1,57.2 477.2,56.5 479.3,61.0 481.4,62.0 483.5,54.2 485.6,42.7 487.7,51.9 489.8,52.3 491.9,67.1 494.0,57.3 496.1,65.7 498.2,53.6 500.3,59.7 502.4,58.1 504.5,59.3 506.6,63.0 508.7,69.9 510.8,56.2 512.9,69.5 515.0,68.4 517.1,62.4 519.2,65.6 521.3,59.4 523.4,55.5 525.5,60.0 527.6,60.5 529.7,61.8 531.8,62.4 533.9,75.6 536.0,60.5 538.1,69.6 540.2,72.0 542.3,63.4 544.5,66.5 546.6,60.5 548.7,57.8 550.8,81.3 552.9,65.2 555.0,53.7 557.1,60.1 559.2,57.0 561.3,65.0 563.4,76.4 565.5,74.4 567.6,62.2 569.7,61.0 571.8,80.6 573.9,69.1 576.0,65.8 578.1,80.6 580.2,70.5 582.3,58.6 584.4,55.5" fill="none" stroke="#d9f2d9" stroke-width="0.3" marker-start="url(#m11)" marker-mid="url(#m11)" marker-end="url(#m11)"/>
<polyline points="334.2,29.3 336.3,46.7 338.4,22.6 340.5,28.7 342.6,23.5 344.7,36.9 346.8,36.4 348.9,42.4 351.0,20.9 353.1,35.5 355.2,22.4 357.3,39.8 359.4,34.1 361.5,47.7 363.6,38.2 365.7,27.8 367.8,44.7 369.9,27.7 372.0,33.7 374.1,44.3 376.2,40.4 378.4,40.1 380.5,37.0 382.6,40.7 384.7,43.2 386.8,39.8 388.9,45.4 391.0,47.4 393.1,38.2 395.2,31.1 397.3,49.1 399.4,38.3 401.5,43.5 403.6,46.1 405.7,48.5 407.8,38.0 409.9,51.8 412.0,54.0 414.1,64.3 416.2,43.2 418.3,51.5 420.4,35.5 422.5,47.1 424.6,48.0 426.7,62.9 428.8,40.6 430.9,52.5 433.0,51.1 435.1,67.2 437.2,44.4 439.3,44.3 441.4,55.7 443.5,50.5 445.6,48.9 447.7,45.6 449.8,51.4 451.9,41.4 454.0,54.8 456.1,58.1 458.2,57.3 460.4,74.7 462.5,60.8 464.6,47.9 466.7,53.0 468.8,62.1 470.9,53.3 473.0,88.1 475.1,58.9 477.2,53.4 479.3,52.7 481.4,64.4 483.5,52.1 485.6,46.1 487.7,62.8 489.8,54.5 491.9,73.4 494.0,77.3 496.1,56.6 498.2,60.8 500.3,60.0 502.4,66.8 504.5,64.6 506.6,56.7 508.7,50.8 510.8,64.8 512.9,77.7 515.0,54.7 517.1,59.6 519.2,59.3 521.3,63.1 523.4,48.5 525.5,64.4 527.6,61.6 529.7,82.1 531.8,71.0 533.9,72.2 536.0,66.6 538.1,64.1 540.2,73.6 542.3,54.9 544.5,77.0 546.6,71.8 548.7,66.2 550.8,79.6 552.9,64.3 555.0,64.1 557.1,71.7 559.2,55.5 561.3,68.9 563.4,67.7 565.5,78.9 567.6,85.7 569.7,76.4 571.8,73.8 573.9,75.4 576.0,65.7 578.1,93.8 580.2,82.5 582.3,89.2 584.4,62.6" fill="none" stroke="#8fc0a8" stroke-width="0.3" marker-start="url(#m12)" marker-mid="url(#m12)" marker-end="url(#m12)"/>
<polyline points="334.2,26.2 336.3,36.5 338.4,21.4 340.5,38.8 342.6,30.6 344.7,35.5 346.8,39.4 348.9,29.4 351.0,35.0 353.1,29.3 355.2,34.6 357.3,42.6 359.4,35.7 361.5,34.6 363.6,27.6 365.7,41.6 367.8,35.3 369.9,47.9 372.0,30.7 374.1,43.9 376.2,49.3 378.4,36.5 380.5,27.6 382.6,47.3 384.7,44.4 386.8,42.3 388.9,45.3 391.0,34.3 393.1,43.0 395.2,42.3 397.3,32.7 399.4,43.0 401.5,34.5 403.6,45.2 405.7,51.3 407.8,51.1 409.9,55.4 412.0,42.8 414.1,50.9 416.2,46.8 418.3,63.0 420.4,41.7 422.5,46.2 424.6,45.4 426.7,41.5 428.8,50.5 430.9,50.5 433.0,44.9 435.1,46.8 437.2,51.5 439.3,59.4 441.4,54.3 443.5,45.9 445.6,44.8 447.7,51.1 449.8,39.4 451.9,64.4 454.0,54.0 456.1,41.3 458.2,56.2 460.4,66.2 462.5,44.2 464.6,50.0 466.7,63.9 468.8,49.2 470.9,63.3 473.0,66.4 475.1,56.8 477.2,60.0 479.3,65.6 481.4,59.8 483.5,65.7 485.6,57.1 487.7,58.1 489.8,53.3 491.9,62.7 494.0,70.6 496.1,71.0 498.2,62.0 500.3,49.6 502.4,54.5 504.5,66.3 506.6,54.4 508.7,71.4 510.8,54.4 512.9,65.1 515.0,56.7 517.1,57.9 519.2,65.1 521.3,60.5 523.4,72.6 525.5,64.1 527.6,56.0 529.7,35.2 531.8,59.2 533.9,63.7 536.0,73.8 538.1,57.4 540.2,80.1 542.3,72.7 544.5,63.0 546.6,76.8 548.7,55.1 550.8,58.5 552.9,71.8 555.0,72.0 557.1,79.2 559.2,80.2 561.3,64.4 563.4,63.3 565.5,65.5 567.6,66.4 569.7,73.8 571.8,66.2 573.9,82.7 576.0,69.3 578.1,58.8 580.2,60.1 582.3,74.4 584.4,73.5" fill="none" stroke="#7aa898" stroke-width="0.3" marker-start="url(#m13)" marker-mid="url(#m13)" marker-end="url(#m13)"/>
<polyline points="334.2,42.1 336.3,46.6 338.4,20.2 340.5,36.3 342.6,32.7 344.7,35.4 346.8,34.1 348.9,34.9 351.0,21.9 353.1,43.0 355.2,47.3 357.3,44.0 359.4,46.9 361.5,31.6 363.6,30.9 365.7,44.2 367.8,47.5 369.9,40.5 372.0,27.9 374.1,59.7 376.2,35.2 378.4,47.0 380.5,31.1 382.6,47.2 384.7,42.0 386.8,51.5 388.9,48.1 391.0,30.5 393.1,34.7 395.2,43.9 397.3,47.5 399.4,55.5 401.5,45.1 403.6,43.0 405.7,41.6 407.8,39.5 409.9,59.9 412.0,52.6 414.1,48.5 416.2,43.1 418.3,56.3 420.4,46.7 422.5,52.9 424.6,36.9 426.7,48.5 428.8,52.3 430.9,54.0 433.0,45.2 435.1,47.6 437.2,60.6 439.3,51.1 441.4,63.7 443.5,59.5 445.6,64.3 447.7,65.0 449.8,75.9 451.9,63.1 454.0,52.0 456.1,60.3 458.2,58.3 460.4,66.0 462.5,51.9 464.6,74.4 466.7,74.1 468.8,53.8 470.9,54.8 473.0,53.2 475.1,62.1 477.2,71.5 479.3,65.7 481.4,58.1 483.5,69.0 485.6,69.1 487.7,75.6 489.8,74.2 491.9,58.9 494.0,62.1 496.1,75.9 498.2,75.6 500.3,71.5 502.4,63.2 504.5,77.6 506.6,69.2 508.7,87.0 510.8,79.6 512.9,65.9 515.0,63.0 517.1,79.9 519.2,76.9 521.3,64.8 523.4,74.3 525.5,76.0 527.6,67.8 529.7,70.4 531.8,64.3 533.9,66.9 536.0,78.1 538.1,74.3 540.2,74.1 542.3,86.2 544.5,83.1 546.6,67.6 548.7,89.4 550.8,68.1 552.9,73.5 555.0,77.2 557.1,72.4 559.2,73.2 561.3,68.2 563.4,81.0 565.5,79.8 567.6,80.3 569.7,64.7 571.8,71.8 573.9,87.6 576.0,82.5 578.1,86.3 580.2,79.9 582.3,78.8 584.4,63.9" fill="none" stroke="#c4d4e4" stroke-width="0.6"/>
<polyline points="334.2,35.9 336.3,36.0 338.4,43.6 340.5,36.1 342.6,36.2 344.7,26.3 346.8,23.1 348.9,37.3 351.0,41.8 353.1,36.8 355.2,41.0 357.3,42.3 359.4,37.6 361.5,44.8 363.6,32.5 365.7,37.9 367.8,35.3 369.9,38.8 372.0,43.1 374.1,45.0 376.2,39.9 378.4,42.1 380.5,36.3 382.6,38.2 384.7,48.4 386.8,38.2 388.9,48.8 391.0,43.5 393.1,41.1 395.2,54.1 397.3,38.3 399.4,38.1 401.5,40.7 403.6,42.9 405.7,58.0 407.8,39.9 409.9,43.2 412.0,50.6 414.1,46.7 416.2,49.2 418.3,45.4 420.4,39.9 422.5,57.0 424.6,38.1 426.7,48.7 428.8,36.9 430.9,43.4 433.0,38.4 435.1,42.5 437.2,39.3 439.3,45.8 441.4,53.1 443.5,50.3 445.6,42.3 447.7,33.7 449.8,63.8 451.9,49.3 454.0,41.1 456.1,58.6 458.2,50.4 460.4,35.1 462.5,39.9 464.6,56.7 466.7,40.3 468.8,42.3 470.9,45.3 473.0,48.2 475.1,49.5 477.2,58.8 479.3,56.2 481.4,47.3 483.5,51.6 485.6,40.6 487.7,56.2 489.8,74.3 491.9,57.0 494.0,52.5 496.1,52.2 498.2,54.6 500.3,62.5 502.4,45.3 504.5,61.6 506.6,51.2 508.7,58.9 510.8,67.1 512.9,47.1 515.0,79.2 517.1,64.9 519.2,54.6 521.3,61.0 523.4,52.9 525.5,59.3 527.6,62.6 529.7,43.7 531.8,61.0 533.9,60.7 536.0,69.2 538.1,66.4 540.2,55.3 542.3,56.1 544.5,60.4 546.6,66.9 548.7,55.9 550.8,76.5 552.9,64.4 555.0,63.8 557.1,69.4 559.2,60.8 561.3,68.3 563.4,69.8 565.5,49.7 567.6,57.5 569.7,54.4 571.8,62.9 573.9,56.5 576.0,58.1 578.1,55.1 580.2,47.0 582.3,66.5 584.4,62.7" fill="none" stroke="#7aa0d0" stroke-width="0.3" marker-start="url(#m15)" marker-mid="url(#m15)" marker-end="url(#m15)"/>
<polyline points="334.2,40.5 336.3,44.9 338.4,39.8 340.5,42.0 342.6,37.5 344.7,47.1 346.8,36.6 348.9,37.3 351.0,39.4 353.1,41.6 355.2,34.3 357.3,50.9 359.4,35.4 361.5,37.1 363.6,36.8 365.7,36.0 367.8,43.8 369.9,41.0 372.0,34.5 374.1,36.2 376.2,38.0 378.4,50.6 380.5,35.4 382.6,30.6 384.7,32.0 386.8,38.1 388.9,51.4 391.0,32.9 393.1,41.1 395.2,58.6 397.3,37.2 399.4,51.2 401.5,49.9 403.6,45.2 405.7,45.0 407.8,66.4 409.9,53.4 412.0,44.6 414.1,51.4 416.2,48.4 418.3,38.9 420.4,38.1 422.5,47.4 424.6,37.3 426.7,35.5 428.8,42.2 430.9,51.5 433.0,36.8 435.1,45.9 437.2,47.4 439.3,44.2 441.4,48.9 443.5,39.0 445.6,40.9 447.7,38.6 449.8,42.5 451.9,51.9 454.0,57.7 456.1,41.5 458.2,49.8 460.4,30.1 462.5,49.1 464.6,51.9 466.7,41.0 468.8,43.7 470.9,48.6 473.0,50.4 475.1,46.4 477.2,44.3 479.3,45.0 481.4,52.2 483.5,47.6 485.6,45.4 487.7,46.2 489.8,74.9 491.9,58.3 494.0,57.8 496.1,53.8 498.2,51.2 500.3,46.8 502.4,48.9 504.5,53.9 506.6,53.0 508.7,42.5 510.8,58.4 512.9,51.9 515.0,44.3 517.1,52.0 519.2,70.6 521.3,52.3 523.4,57.9 525.5,55.9 527.6,48.6 529.7,52.5 531.8,57.7 533.9,50.2 536.0,62.1 538.1,55.5 540.2,54.4 542.3,54.9 544.5,59.5 546.6,60.7 548.7,57.0 550.8,65.1 552.9,67.8 555.0,49.3 557.1,59.8 559.2,58.3 561.3,59.4 563.4,58.3 565.5,58.5 567.6,58.4 569.7,65.7 571.8,53.1 573.9,65.1 576.0,52.8 578.1,75.8 580.2,68.8 582.3,53.7 584.4,61.6" fill="none" stroke="#7cc0e8" stroke-width="0.3" marker-start="url(#m16)" marker-mid="url(#m16)" marker-end="url(#m16)"/>
<polyline points="334.2,30.0 336.3,42.5 338.4,37.6 340.5,26.3 342.6,27.1 344.7,39.8 346.8,40.8 348.9,48.3 351.0,44.2 353.1,35.7 355.2,35.8 357.3,37.8 359.4,30.8 361.5,44.0 363.6,38.8 365.7,32.8 367.8,33.9 369.9,29.9 372.0,34.9 374.1,40.0 376.2,34.9 378.4,45.0 380.5,49.7 382.6,33.2 384.7,37.9 386.8,34.9 388.9,49.5 391.0,39.7 393.1,41.5 395.2,43.4 397.3,53.5 399.4,39.3 401.5,29.8 403.6,33.6 405.7,43.1 407.8,40.8 409.9,43.8 412.0,41.1 414.1,46.3 416.2,42.1 418.3,42.5 420.4,39.8 422.5,39.0 424.6,42.7 426.7,41.7 428.8,41.9 430.9,45.4 433.0,46.2 435.1,38.7 437.2,40.2 439.3,41.6 441.4,41.8 443.5,42.6 445.6,36.9 447.7,40.1 449.8,36.1 451.9,40.5 454.0,46.4 456.1,38.3 458.2,41.2 460.4,40.9 462.5,37.0 464.6,41.1 466.7,38.0 468.8,40.5 470.9,42.7 473.0,39.6 475.1,42.4 477.2,38.2 479.3,38.9 481.4,40.9 483.5,39.8 485.6,40.0 487.7,42.1 489.8,39.4 491.9,42.1 494.0,40.2 496.1,44.4 498.2,41.5 500.3,40.8 502.4,44.1 504.5,43.1 506.6,43.5 508.7,40.4 510.8,44.1 512.9,41.1 515.0,43.3 517.1,41.4 519.2,47.0 521.3,42.1 523.4,40.0 525.5,43.3 527.6,40.0 529.7,41.1 531.8,41.7 533.9,43.4 536.0,44.2 538.1,43.5 540.2,42.7 542.3,41.7 544.5,42.0 546.6,43.9 548.7,42.9 550.8,42.2 552.9,48.0 555.0,45.5 557.1,45.6 559.2,43.9 561.3,44.2 563.4,44.2 565.5,46.1 567.6,41.9 569.7,42.9 571.8,48.6 573.9,43.6 576.0,47.1 578.1,39.7 580.2,45.2 582.3,47.3 584.4,43.7" fill="none" stroke="#a0f4d0" stroke-width="0.3" marker-start="url(#m17)" marker-mid="url(#m17)" marker-end="url(#m17)"/>
<polyline points="334.2,38.4 336.3,34.0 338.4,28.4 340.5,55.1 342.6,36.7 344.7,32.4 346.8,31.6 348.9,23.7 351.0,27.9 353.1,34.5 355.2,35.3 357.3,32.5 359.4,43.2 361.5,39.8 363.6,32.5 365.7,26.1 367.8,40.8 369.9,40.7 372.0,39.8 374.1,31.7 376.2,42.5 378.4,30.9 380.5,49.1 382.6,43.7 384.7,44.5 386.8,38.0 388.9,36.6 391.0,55.9 393.1,51.4 395.2,42.0 397.3,49.6 399.4,56.7 401.5,38.5 403.6,43.3 405.7,53.9 407.8,53.0 409.9,41.9 412.0,51.6 414.1,47.5 416.2,45.7 418.3,63.4 420.4,42.1 422.5,49.8 424.6,48.1 426.7,64.1 428.8,49.7 430.9,53.2 433.0,62.1 435.1,39.1 437.2,52.9 439.3,73.8 441.4,57.2 443.5,52.0 445.6,50.7 447.7,55.8 449.8,51.2 451.9,49.6 454.0,75.5 456.1,68.1 458.2,73.6 460.4,63.4 462.5,52.7 464.6,59.9 466.7,77.2 468.8,69.9 470.9,58.8 473.0,74.0 475.1,70.1 477.2,67.2 479.3,90.5 481.4,64.6 483.5,69.2 485.6,68.0 487.7,84.5 489.8,82.9 491.9,81.8 494.0,73.8 496.1,76.1 498.2,76.1 500.3,62.0 502.4,66.8 504.5,87.0 506.6,86.8 508.7,64.7 510.8,84.0 512.9,68.7 515.0,67.2 517.1,88.2 519.2,85.6 521.3,82.4 523.4,93.6 525.5,95.4 527.6,89.3 529.7,77.4 531.8,90.8 533.9,88.4 536.0,91.9 538.1,102.9 540.2,73.9 542.3,115.3 544.5,96.1 546.6,83.8 548.7,105.8 550.8,84.3 552.9,78.8 555.0,100.9 557.1,89.4 559.2,104.9 561.3,87.5 563.4,91.9 565.5,91.2 567.6,80.9 569.7,89.7 571.8,82.0 573.9,89.1 576.0,109.9 578.1,93.6 580.2,91.9 582.3,114.4 584.4,84.8" fill="none" stroke="#6070c0" stroke-width="0.3" marker-start="url(#m18)" marker-mid="url(#m18)" marker-end="url(#m18)"/>
<polyline points="334.2,31.7 336.3,38.9 338.4,27.8 340.5,38.2 342.6,29.0 344.7,44.9 346.8,44.7 348.9,36.8 351.0,43.4 353.1,33.4 355.2,37.4 357.3,47.1 359.4,40.5 361.5,43.9 363.6,34.2 365.7,45.8 367.8,44.7 369.9,33.0 372.0,30.0 374.1,30.8 376.2,43.8 378.4,42.5 380.5,32.3 382.6,45.3 384.7,52.3 386.8,45.2 388.9,43.3 391.0,53.1 393.1,58.9 395.2,57.2 397.3,41.9 399.4,53.3 401.5,49.7 403.6,47.7 405.7,52.9 407.8,51.0 409.9,62.9 412.0,54.1 414.1,52.7 416.2,58.7 418.3,55.2 420.4,77.9 422.5,45.7 424.6,68.7 426.7,80.4 428.8,68.1 430.9,67.3 433.0,54.2 435.1,69.1 437.2,57.2 439.3,71.0 441.4,41.8 443.5,57.1 445.6,45.2 447.7,74.7 449.8,57.9 451.9,75.4 454.0,59.9 456.1,59.7 458.2,84.7 460.4,80.1 462.5,81.1 464.6,85.7 466.7,77.4 468.8,80.9 470.9,87.5 473.0,70.6 475.1,67.3 477.2,88.6 479.3,80.5 481.4,74.7 483.5,78.4 485.6,84.8 487.7,69.7 489.8,70.2 491.9,72.6 494.0,82.3 496.1,61.8 498.2,64.7 500.3,86.6 502.4,83.8 504.5,71.6 506.6,93.3 508.7,80.3 510.8,84.2 512.9,93.9 515.0,88.7 517.1,111.0 519.2,93.7 521.3,112.2 523.4,66.0 525.5,74.1 527.6,77.3 529.7,86.8 531.8,80.5 533.9,93.4 536.0,81.3 538.1,82.8 540.2,103.8 542.3,88.6 544.5,100.1 546.6,108.8 548.7,108.8 550.8,90.6 552.9,84.9 555.0,113.3 557.1,79.0 559.2,82.3 561.3,102.3 563.4,103.9 565.5,99.4 567.6,89.1 569.7,104.4 571.8,114.3 573.9,97.1 576.0,127.8 578.1,100.2 580.2,90.3 582.3,99.5 584.4,95.2" fill="none" stroke="#a0b0f8" stroke-width="0.3" marker-start="url(#m19)" marker-mid="url(#m19)" marker-end="url(#m19)"/>
<polyline points="334.2,28.9 336.3,36.0 338.4,30.0 340.5,41.0 342.6,38.0 344.7,43.5 346.8,27.6 348.9,36.3 351.0,41.5 353.1,38.9 355.2,38.6 357.3,32.5 359.4,50.2 361.5,46.3 363.6,41.4 365.7,25.3 367.8,31.5 369.9,40.3 372.0,34.9 374.1,27.7 376.2,42.9 378.4,43.8 380.5,31.7 382.6,37.5 384.7,36.8 386.8,46.5 388.9,30.2 391.0,30.5 393.1,39.1 395.2,38.1 397.3,58.4 399.4,39.3 401.5,46.4 403.6,42.3 405.7,46.9 407.8,45.6 409.9,49.6 412.0,57.8 414.1,52.9 416.2,51.9 418.3,43.0 420.4,40.6 422.5,49.1 424.6,58.9 426.7,70.6 428.8,54.4 430.9,43.0 433.0,50.8 435.1,54.0 437.2,60.9 439.3,47.7 441.4,52.6 443.5,55.8 445.6,55.0 447.7,43.4 449.8,58.4 451.9,44.4 454.0,48.3 456.1,58.0 458.2,52.1 460.4,60.7 462.5,79.8 464.6,63.1 466.7,70.0 468.8,57.7 470.9,62.2 473.0,58.6 475.1,57.2 477.2,95.9 479.3,62.6 481.4,84.0 483.5,65.1 485.6,76.1 487.7,66.9 489.8,57.5 491.9,102.3 494.0,68.3 496.1,71.3 498.2,90.6 500.3,66.1 502.4,71.6 504.5,77.7 506.6,80.4 508.7,46.9 510.8,77.9 512.9,93.2 515.0,84.5 517.1,79.0 519.2,79.7 521.3,76.9 523.4,87.7 525.5,72.5 527.6,82.6 529.7,92.4 531.8,87.0 533.9,82.8 536.0,72.0 538.1,75.5 540.2,83.6 542.3,80.2 544.5,79.0 546.6,63.9 548.7,88.3 550.8,78.1 552.9,76.3 555.0,93.3 557.1,81.7 559.2,82.3 561.3,89.3 563.4,79.7 565.5,76.1 567.6,75.6 569.7,87.9 571.8,84.6 573.9,66.3 576.0,99.3 578.1,85.5 580.2,80.1 582.3,87.0 584.4,83.0" fill="none" stroke="#8a80b8" stroke-width="0.3" marker-start="url(#m20)" marker-mid="url(#m20)" marker-end="url(#m20)"/>
<polyline points="334.2,27.4 336.3,35.0 338.4,45.2 340.5,30.7 342.6,39.9 344.7,37.6 346.8,39.9 348.9,37.9 351.0,52.2 353.1,26.2 355.2,34.3 357.3,28.7 359.4,24.7 361.5,38.0 363.6,51.3 365.7,44.5 367.8,47.1 369.9,42.7 372.0,39.3 374.1,55.3 376.2,38.3 378.4,51.8 380.5,38.4 382.6,41.8 384.7,44.1 386.8,43.2 388.9,47.3 391.0,48.0 393.1,55.6 395.2,43.4 397.3,30.3 399.4,31.0 401.5,35.0 403.6,40.3 405.7,51.0 407.8,47.3 409.9,43.9 412.0,55.3 414.1,52.2 416.2,54.5 418.3,58.2 420.4,54.9 422.5,65.9 424.6,49.8 426.7,42.8 428.8,43.1 430.9,46.6 433.0,66.5 435.1,45.2 437.2,64.9 439.3,58.8 441.4,43.9 443.5,70.9 445.6,53.3 447.7,58.5 449.8,79.6 451.9,71.3 454.0,59.1 456.1,68.1 458.2,55.0 460.4,54.1 462.5,79.8 464.6,71.0 466.7,69.6 468.8,79.7 470.9,79.8 473.0,67.7 475.1,71.5 477.2,88.1 479.3,76.7 481.4,67.1 483.5,85.6 485.6,83.3 487.7,60.0 489.8,63.1 491.9,93.5 494.0,91.3 496.1,73.6 498.2,90.9 500.3,80.8 502.4,83.6 504.5,74.1 506.6,108.3 508.7,105.1 510.8,94.6 512.9,72.1 515.0,83.5 517.1,101.8 519.2,78.3 521.3,76.9 523.4,86.7 525.5,88.2 527.6,80.9 529.7,74.4 531.8,84.4 533.9,81.4 536.0,87.3 538.1,91.7 540.2,98.4 542.3,85.8 544.5,92.2 546.6,92.0 548.7,81.0 550.8,85.6 552.9,82.5 555.0,109.6 557.1,86.3 559.2,98.9 561.3,102.0 563.4,103.0 565.5,82.1 567.6,86.1 569.7,102.9 571.8,108.4 573.9,95.1 576.0,101.3 578.1,80.6 580.2,114.3 582.3,119.3 584.4,100.7" fill="none" stroke="#9a96cc" stroke-width="0.3" marker-start="url(#m21)" marker-mid="url(#m21)" marker-end="url(#m21)"/>
<polyline points="334.2,35.2 336.3,19.1 338.4,30.7 340.5,31.2 342.6,33.2 344.7,30.7 346.8,34.7 348.9,32.1 351.0,39.4 353.1,34.3 355.2,18.7 357.3,32.9 359.4,34.4 361.5,28.7 363.6,27.3 365.7,40.9 367.8,34.4 369.9,26.2 372.0,31.6 374.1,33.0 376.2,22.2 378.4,39.0 380.5,33.4 382.6,37.9 384.7,23.1 386.8,49.2 388.9,40.1 391.0,39.2 393.1,30.2 395.2,30.5 397.3,24.6 399.4,47.1 401.5,30.3 403.6,38.5 405.7,46.1 407.8,45.4 409.9,41.4 412.0,32.8 414.1,49.4 416.2,51.2 418.3,61.9 420.4,45.1 422.5,40.9 424.6,49.2 426.7,38.6 428.8,46.8 430.9,36.2 433.0,44.8 435.1,57.1 437.2,53.3 439.3,62.1 441.4,64.5 443.5,46.0 445.6,41.8 447.7,33.8 449.8,49.6 451.9,51.7 454.0,60.6 456.1,42.5 458.2,47.4 460.4,56.6 462.5,45.7 464.6,47.0 466.7,70.3 468.8,46.3 470.9,51.5 473.0,56.9 475.1,57.6 477.2,40.0 479.3,42.1 481.4,40.2 483.5,66.9 485.6,62.3 487.7,48.8 489.8,68.9 491.9,64.3 494.0,76.0 496.1,42.7 498.2,58.3 500.3,54.6 502.4,56.9 504.5,63.3 506.6,63.4 508.7,54.5 510.8,67.3 512.9,50.0 515.0,65.6 517.1,70.0 519.2,50.3 521.3,62.9 523.4,57.0 525.5,66.3 527.6,86.2 529.7,57.9 531.8,98.4 533.9,53.9 536.0,79.9 538.1,83.6 540.2,61.2 542.3,60.5 544.5,63.4 546.6,77.7 548.7,57.3 550.8,81.0 552.9,70.4 555.0,74.2 557.1,70.0 559.2,66.6 561.3,73.4 563.4,61.8 565.5,61.0 567.6,86.1 569.7,80.4 571.8,72.0 573.9,74.6 576.0,65.6 578.1,90.0 580.2,62.5 582.3,62.6 584.4,71.2" fill="none" stroke="#c8c4f0" stroke-width="0.3" marker-start="url(#m22)" marker-mid="url(#m22)" marker-end="url(#m22)"/>
<polyline points="334.2,36.2 336.3,27.2 338.4,38.1 340.5,46.8 342.6,34.7 344.7,43.2 346.8,37.1 348.9,29.4 351.0,29.9 353.1,20.2 355.2,34.1 357.3,44.1 359.4,38.7 361.5,40.0 363.6,42.1 365.7,29.8 367.8,38.0 369.9,48.0 372.0,28.5 374.1,34.9 376.2,31.4 378.4,33.3 380.5,29.3 382.6,33.9 384.7,25.0 386.8,31.5 388.9,32.0 391.0,31.9 393.1,45.6 395.2,36.2 397.3,36.9 399.4,33.7 401.5,45.5 403.6,23.3 405.7,56.8 407.8,45.6 409.9,50.1 412.0,42.0 414.1,46.5 416.2,40.9 418.3,49.6 420.4,36.0 422.5,66.3 424.6,55.1 426.7,42.6 428.8,59.8 430.9,40.9 433.0,57.5 435.1,45.6 437.2,54.9 439.3,50.7 441.4,45.4 443.5,47.9 445.6,50.9 447.7,31.1 449.8,47.7 451.9,57.6 454.0,41.2 456.1,42.3 458.2,39.5 460.4,35.4 462.5,58.8 464.6,41.5 466.7,41.2 468.8,50.4 470.9,48.9 473.0,81.3 475.1,57.3 477.2,37.8 479.3,70.4 481.4,58.1 483.5,50.7 485.6,48.8 487.7,40.7 489.8,72.2 491.9,54.1 494.0,47.9 496.1,68.8 498.2,55.9 500.3,40.4 502.4,45.2 504.5,51.8 506.6,83.9 508.7,58.1 510.8,53.8 512.9,60.5 515.0,58.2 517.1,32.3 519.2,60.3 521.3,68.6 523.4,56.5 525.5,62.2 527.6,62.3 529.7,60.2 531.8,53.0 533.9,57.7 536.0,72.9 538.1,61.6 540.2,56.4 542.3,65.7 544.5,68.8 546.6,54.5 548.7,72.1 550.8,58.8 552.9,44.8 555.0,48.7 557.1,62.8 559.2,54.8 561.3,70.1 563.4,78.8 565.5,58.4 567.6,61.2 569.7,59.1 571.8,64.1 573.9,61.2 576.0,70.0 578.1,60.4 580.2,57.5 582.3,65.6 584.4,58.1" fill="none" stroke="#c0a4d8" stroke-width="0.3" marker-start="url(#m23)" marker-mid="url(#m23)" marker-end="url(#m23)"/>
<polyline points="334.2,33.1 336.3,42.6 338.4,46.5 340.5,36.8 342.6,36.3 344.7,41.6 346.8,35.9 348.9,41.2 351.0,32.2 353.1,42.0 355.2,37.7 357.3,30.8 359.4,25.8 361.5,46.6 363.6,42.5 365.7,45.2 367.8,33.3 369.9,48.5 372.0,44.5 374.1,41.9 376.2,49.0 378.4,48.8 380.5,45.2 382.6,57.3 384.7,53.3 386.8,46.6 388.9,43.1 391.0,45.8 393.1,57.2 395.2,47.5 397.3,38.3 399.4,40.8 401.5,46.5 403.6,53.1 405.7,66.7 407.8,59.1 409.9,43.5 412.0,41.7 414.1,52.0 416.2,54.9 418.3,65.4 420.4,52.3 422.5,49.8 424.6,68.7 426.7,51.9 428.8,52.8 430.9,53.4 433.0,67.4 435.1,53.4 437.2,71.8 439.3,47.3 441.4,58.0 443.5,71.0 445.6,50.0 447.7,52.1 449.8,67.8 451.9,45.1 454.0,72.4 456.1,60.7 458.2,54.6 460.4,86.7 462.5,57.1 464.6,66.0 466.7,66.1 468.8,77.5 470.9,64.8 473.0,79.3 475.1,78.7 477.2,74.2 479.3,82.8 481.4,58.6 483.5,85.4 485.6,80.3 487.7,76.6 489.8,74.1 491.9,68.4 494.0,69.0 496.1,79.5 498.2,80.8 500.3,77.1 502.4,71.1 504.5,72.7 506.6,84.3 508.7,101.0 510.8,62.3 512.9,72.6 515.0,78.7 517.1,78.6 519.2,87.5 521.3,93.1 523.4,86.5 525.5,85.8 527.6,90.6 529.7,100.0 531.8,98.5 533.9,80.5 536.0,91.1 538.1,86.0 540.2,109.0 542.3,89.4 544.5,88.9 546.6,101.3 548.7,107.3 550.8,85.4 552.9,98.2 555.0,85.7 557.1,94.9 559.2,85.4 561.3,94.9 563.4,108.2 565.5,93.1 567.6,96.2 569.7,87.3 571.8,98.5 573.9,98.3 576.0,86.9 578.1,84.7 580.2,88.7 582.3,86.7 584.4,92.2" fill="none" stroke="#eaa8ea" stroke-width="0.3" marker-start="url(#m24)" marker-mid="url(#m24)" marker-end="url(#m24)"/>
<polyline points="334.2,29.4 336.3,38.4 338.4,43.0 340.5,41.1 342.6,25.2 344.7,35.4 346.8,28.5 348.9,40.7 351.0,29.9 353.1,41.8 355.2,39.4 357.3,26.0 359.4,34.2 361.5,44.0 363.6,40.8 365.7,37.6 367.8,31.1 369.9,44.8 372.0,55.0 374.1,45.0 376.2,43.2 378.4,42.3 380.5,33.0 382.6,41.0 384.7,38.0 386.8,53.2 388.9,39.2 391.0,32.9 393.1,40.0 395.2,43.8 397.3,44.9 399.4,33.6 401.5,54.6 403.6,49.3 405.7,51.1 407.8,51.0 409.9,54.3 412.0,56.9 414.1,57.0 416.2,43.6 418.3,58.9 420.4,61.4 422.5,63.0 424.6,60.9 426.7,59.6 428.8,71.1 430.9,78.9 433.0,60.9 435.1,77.1 437.2,62.2 439.3,63.9 441.4,57.8 443.5,55.0 445.6,64.7 447.7,72.9 449.8,79.1 451.9,76.4 454.0,69.7 456.1,89.3 458.2,70.7 460.4,72.0 462.5,68.0 464.6,76.3 466.7,73.2 468.8,81.5 470.9,79.9 473.0,92.8 475.1,76.5 477.2,67.0 479.3,77.9 481.4,77.3 483.5,90.0 485.6,71.2 487.7,89.8 489.8,77.5 491.9,83.5 494.0,94.2 496.1,78.4 498.2,86.5 500.3,85.9 502.4,84.4 504.5,88.6 506.6,92.6 508.7,86.1 510.8,94.1 512.9,90.3 515.0,97.8 517.1,106.4 519.2,99.1 521.3,98.0 523.4,93.6 525.5,85.3 527.6,111.4 529.7,94.4 531.8,117.7 533.9,106.8 536.0,102.0 538.1,119.8 540.2,116.4 542.3,97.4 544.5,98.5 546.6,100.8 548.7,108.2 550.8,83.9 552.9,113.7 555.0,110.4 557.1,89.1 559.2,98.0 561.3,107.1 563.4,94.5 565.5,103.2 567.6,99.9 569.7,103.6 571.8,116.4 573.9,98.8 576.0,105.8 578.1,117.9 580.2,115.9 582.3,101.0 584.4,113.0" fill="none" stroke="#ecd8f0" stroke-width="0.3" marker-start="url(#m25)" marker-mid="url(#m25)" marker-end="url(#m25)"/>
<polyline points="334.2,29.7 336.3,27.4 338.4,36.6 340.5,32.0 342.6,37.4 344.7,35.3 346.8,37.5 348.9,44.8 351.0,36.5 353.1,29.9 355.2,44.6 357.3,40.4 359.4,34.4 361.5,47.6 363.6,38.3 365.7,47.3 367.8,31.2 369.9,27.5 372.0,28.6 374.1,44.3 376.2,37.3 378.4,41.9 380.5,42.0 382.6,31.2 384.7,53.6 386.8,36.9 388.9,46.2 391.0,35.2 393.1,44.4 395.2,50.6 397.3,43.9 399.4,41.2 401.5,47.6 403.6,44.9 405.7,57.2 407.8,53.2 409.9,57.8 412.0,74.4 414.1,55.2 416.2,53.4 418.3,54.5 420.4,62.4 422.5,59.8 424.6,57.0 426.7,50.9 428.8,67.7 430.9,50.8 433.0,51.3 435.1,59.9 437.2,51.4 439.3,79.7 441.4,79.2 443.5,60.3 445.6,68.2 447.7,68.1 449.8,71.2 451.9,61.1 454.0,69.0 456.1,82.7 458.2,71.1 460.4,69.6 462.5,85.3 464.6,82.7 466.7,82.9 468.8,86.4 470.9,77.1 473.0,71.9 475.1,64.8 477.2,72.2 479.3,74.7 481.4,86.7 483.5,73.6 485.6,91.5 487.7,81.5 489.8,85.9 491.9,91.4 494.0,96.3 496.1,97.9 498.2,95.7 500.3,108.1 502.4,88.8 504.5,94.7 506.6,94.1 508.7,92.5 510.8,89.4 512.9,104.3 515.0,99.0 517.1,102.9 519.2,110.2 521.3,104.0 523.4,85.4 525.5,115.5 527.6,97.0 529.7,87.8 531.8,108.5 533.9,102.6 536.0,85.8 538.1,95.2 540.2,81.8 542.3,99.6 544.5,115.5 546.6,101.7 548.7,113.1 550.8,114.1 552.9,124.8 555.0,86.2 557.1,116.7 559.2,110.6 561.3,119.4 563.4,110.1 565.5,115.1 567.6,117.9 569.7,128.8 571.8,124.0 573.9,124.0 576.0,112.0 578.1,94.5 580.2,105.4 582.3,98.2 584.4,112.4" fill="none" stroke="#e0e0f6" stroke-width="0.3" marker-start="url(#m26)" marker-mid="url(#m26)" marker-end="url(#m26)"/>
<polyline points="334.2,36.9 336.3,48.6 338.4,26.3 340.5,28.3 342.6,33.0 344.7,34.1 346.8,26.8 348.9,38.0 351.0,39.8 353.1,36.2 355.2,26.1 357.3,45.9 359.4,27.1 361.5,41.1 363.6,44.4 365.7,26.6 367.8,37.1 369.9,46.4 372.0,40.1 374.1,30.7 376.2,28.9 378.4,41.1 380.5,34.8 382.6,32.6 384.7,43.2 386.8,36.3 388.9,39.7 391.0,43.5 393.1,43.0 395.2,38.9 397.3,39.3 399.4,44.1 401.5,43.6 403.6,32.3 405.7,48.6 407.8,57.2 409.9,48.3 412.0,63.5 414.1,50.8 416.2,39.7 418.3,47.2 420.4,42.8 422.5,52.2 424.6,59.7 426.7,53.3 428.8,52.9 430.9,42.9 433.0,38.3 435.1,56.1 437.2,53.4 439.3,52.1 441.4,54.1 443.5,61.7 445.6,51.5 447.7,50.2 449.8,50.4 451.9,63.0 454.0,54.5 456.1,79.2 458.2,48.5 460.4,63.1 462.5,57.3 464.6,59.1 466.7,60.6 468.8,65.1 470.9,71.5 473.0,46.0 475.1,56.1 477.2,56.5 479.3,44.9 481.4,60.1 483.5,56.1 485.6,60.1 487.7,52.8 489.8,57.9 491.9,59.6 494.0,64.4 496.1,60.8 498.2,55.2 500.3,81.3 502.4,64.8 504.5,67.6 506.6,67.0 508.7,82.0 510.8,60.1 512.9,72.8 515.0,67.7 517.1,70.5 519.2,81.1 521.3,70.7 523.4,83.4 525.5,75.8 527.6,70.5 529.7,68.1 531.8,68.0 533.9,69.8 536.0,54.0 538.1,66.2 540.2,80.5 542.3,75.3 544.5,76.1 546.6,72.0 548.7,76.2 550.8,78.8 552.9,59.7 555.0,71.4 557.1,75.0 559.2,74.5 561.3,74.5 563.4,62.9 565.5,69.8 567.6,65.4 569.7,102.4 571.8,71.8 573.9,66.8 576.0,60.4 578.1,74.8 580.2,91.2 582.3,71.3 584.4,81.4" fill="none" stroke="#eef2f4" stroke-width="0.3" marker-start="url(#m27)" marker-mid="url(#m27)" marker-end="url(#m27)"/>
<polyline points="334.2,31.2 336.3,26.1 338.4,23.8 340.5,28.8 342.6,20.5 344.7,40.1 346.8,28.0 348.9,36.5 351.0,20.9 353.1,21.2 355.2,48.9 357.3,42.1 359.4,30.3 361.5,29.4 363.6,29.8 365.7,35.9 367.8,32.0 369.9,30.9 372.0,36.9 374.1,28.8 376.2,53.3 378.4,31.8 380.5,44.2 382.6,29.5 384.7,38.8 386.8,44.1 388.9,35.0 391.0,44.6 393.1,44.6 395.2,49.3 397.3,38.1 399.4,34.5 401.5,30.9 403.6,40.0 405.7,59.4 407.8,51.6 409.9,41.8 412.0,41.1 414.1,43.8 416.2,55.4 418.3,33.9 420.4,56.7 422.5,48.9 424.6,59.3 426.7,41.0 428.8,46.2 430.9,43.7 433.0,48.6 435.1,49.8 437.2,48.4 439.3,64.7 441.4,59.9 443.5,44.7 445.6,53.9 447.7,51.2 449.8,49.5 451.9,41.8 454.0,49.4 456.1,52.2 458.2,56.9 460.4,65.4 462.5,58.3 464.6,53.3 466.7,56.1 468.8,54.0 470.9,65.7 473.0,52.5 475.1,54.0 477.2,51.9 479.3,55.4 481.4,57.3 483.5,54.4 485.6,72.6 487.7,50.0 489.8,69.8 491.9,53.6 494.0,59.6 496.1,52.6 498.2,60.1 500.3,68.8 502.4,53.7 504.5,60.0 506.6,60.7 508.7,61.3 510.8,55.3 512.9,56.8 515.0,61.2 517.1,76.6 519.2,66.8 521.3,62.9 523.4,51.5 525.5,61.5 527.6,65.2 529.7,56.4 531.8,65.9 533.9,65.5 536.0,64.4 538.1,79.1 540.2,59.3 542.3,63.3 544.5,69.0 546.6,77.1 548.7,65.6 550.8,57.4 552.9,73.3 555.0,77.4 557.1,65.2 559.2,82.9 561.3,88.9 563.4,72.9 565.5,75.4 567.6,71.9 569.7,74.7 571.8,67.6 573.9,72.2 576.0,76.0 578.1,74.9 580.2,66.5 582.3,64.4 584.4,65.0" fill="none" stroke="#c0c0c0" stroke-width="0.3" marker-start="url(#m28)" marker-mid="url(#m28)" marker-end="url(#m28)"/>
<polyline points="334.2,34.6 336.3,33.0 338.4,34.8 340.5,34.0 342.6,34.7 344.7,36.0 346.8,35.6 348.9,36.1 351.0,36.3 353.1,34.4 355.2,36.0 357.3,37.7 359.4,38.7 361.5,38.0 363.6,37.5 365.7,37.1 367.8,36.8 369.9,38.4 372.0,40.8 374.1,38.2 376.2,39.3 378.4,39.6 380.5,39.0 382.6,42.1 384.7,41.6 386.8,42.5 388.9,41.3 391.0,43.9 393.1,42.9 395.2,40.9 397.3,42.0 399.4,43.7 401.5,42.1 403.6,45.9 405.7,48.7 407.8,49.9 409.9,49.1 412.0,50.4 414.1,51.5 416.2,50.2 418.3,52.6 420.4,50.2 422.5,51.6 424.6,50.0 426.7,52.2 428.8,52.8 430.9,51.5 433.0,50.5 435.1,55.4 437.2,52.5 439.3,52.3 441.4,55.7 443.5,55.4 445.6,53.7 447.7,56.2 449.8,56.4 451.9,53.5 454.0,57.8 456.1,58.2 458.2,60.8 460.4,59.5 462.5,60.1 464.6,56.4 466.7,57.6 468.8,61.8 470.9,57.7 473.0,60.1 475.1,62.0 477.2,61.2 479.3,62.5 481.4,64.7 483.5,66.8 485.6,66.2 487.7,65.5 489.8,66.6 491.9,67.8 494.0,65.9 496.1,69.5 498.2,67.1 500.3,69.5 502.4,69.1 504.5,71.3 506.6,70.1 508.7,71.6 510.8,73.4 512.9,71.4 515.0,71.9 517.1,71.0 519.2,72.2 521.3,74.5 523.4,74.4 525.5,77.5 527.6,75.9 529.7,72.8 531.8,72.9 533.9,74.3 536.0,75.4 538.1,75.3 540.2,75.9 542.3,79.4 544.5,78.6 546.6,76.0 548.7,76.4 550.8,78.1 552.9,79.3 555.0,79.8 557.1,80.4 559.2,81.3 561.3,83.1 563.4,80.5 565.5,81.8 567.6,81.8 569.7,79.4 571.8,81.4 573.9,83.6 576.0,82.2 578.1,85.6 580.2,82.3 582.3,83.8 584.4,84.8" fill="none" stroke="#000" stroke-width="0.6" marker-start="url(#me)" marker-mid="url(#me)" marker-end="url(#me)"/>
</g>
<rect x="334.2" y="4.3" width="252.3" height="149.2" fill="none" stroke="#3a3a3a" stroke-width="0.9"/>
<text transform="translate(328.60,7.20) scale(0.9,1)" font-size="9" text-anchor="end" fill="#1a1a1a">0.5</text>
<text transform="translate(328.60,40.36) scale(0.9,1)" font-size="9" text-anchor="end" fill="#1a1a1a">0.0</text>
<text transform="translate(328.60,73.51) scale(0.9,1)" font-size="9" text-anchor="end" fill="#1a1a1a">0.5</text>
<rect x="313.60" y="69.66" width="4.6" height="0.65" fill="#1a1a1a"/>
<text transform="translate(328.60,106.67) scale(0.9,1)" font-size="9" text-anchor="end" fill="#1a1a1a">1.0</text>
<rect x="313.60" y="102.82" width="4.6" height="0.65" fill="#1a1a1a"/>
<text transform="translate(328.60,139.82) scale(0.9,1)" font-size="9" text-anchor="end" fill="#1a1a1a">1.5</text>
<rect x="313.60" y="135.97" width="4.6" height="0.65" fill="#1a1a1a"/>
<text transform="translate(348.92,165.50) scale(0.9,1)" font-size="9" text-anchor="middle" fill="#1a1a1a">1988</text>
<text transform="translate(378.35,165.50) scale(0.9,1)" font-size="9" text-anchor="middle" fill="#1a1a1a">2002</text>
<text transform="translate(407.79,165.50) scale(0.9,1)" font-size="9" text-anchor="middle" fill="#1a1a1a">2016</text>
<text transform="translate(437.22,165.50) scale(0.9,1)" font-size="9" text-anchor="middle" fill="#1a1a1a">2030</text>
<text transform="translate(466.66,165.50) scale(0.9,1)" font-size="9" text-anchor="middle" fill="#1a1a1a">2044</text>
<text transform="translate(496.09,165.50) scale(0.9,1)" font-size="9" text-anchor="middle" fill="#1a1a1a">2058</text>
<text transform="translate(525.53,165.50) scale(0.9,1)" font-size="9" text-anchor="middle" fill="#1a1a1a">2072</text>
<text transform="translate(554.96,165.50) scale(0.9,1)" font-size="9" text-anchor="middle" fill="#1a1a1a">2086</text>
<text transform="translate(584.40,165.50) scale(0.9,1)" font-size="9" text-anchor="middle" fill="#1a1a1a">2100</text>
<path d="M331.2 4.30H334.2M332.4 20.88H334.2M331.2 37.46H334.2M332.4 54.03H334.2M331.2 70.61H334.2M332.4 87.19H334.2M331.2 103.77H334.2M332.4 120.34H334.2M331.2 136.92H334.2M332.4 153.50H334.2M334.20 153.5V155.3M348.92 153.5V156.5M363.63 153.5V155.3M378.35 153.5V156.5M393.07 153.5V155.3M407.79 153.5V156.5M422.50 153.5V155.3M437.22 153.5V156.5M451.94 153.5V155.3M466.66 153.5V156.5M481.38 153.5V155.3M496.09 153.5V156.5M510.81 153.5V155.3M525.53 153.5V156.5M540.25 153.5V155.3M554.96 153.5V156.5M569.68 153.5V155.3M584.40 153.5V156.5" stroke="#3a3a3a" stroke-width="0.9" fill="none"/>
<text transform="translate(460.35,179.40) scale(0.9,1)" font-size="9.8" text-anchor="middle" fill="#1a1a1a">Year</text>
<text transform="translate(309.59999999999997,79.5) rotate(-90) scale(1,0.9)" font-size="8.2" text-anchor="middle" fill="#1a1a1a">NH mean SWEI</text>
<text transform="translate(340.70,16.90) scale(0.9,1)" font-size="17.5" text-anchor="start" font-weight="bold" fill="#000">b</text>
<text transform="translate(346.60,133.10) scale(0.9,1)" font-size="8.8" text-anchor="start" fill="#1a1a1a">CMIP6 models under SSP245</text>
<g clip-path="url(#clipc)">
<polyline points="31.5,234.1 33.6,232.1 35.7,235.9 37.8,240.1 39.9,238.2 42.0,242.0 44.1,235.9 46.2,227.8 48.3,239.1 50.4,240.0 52.5,233.8 54.6,235.4 56.7,237.5 58.8,243.9 60.9,238.5 63.0,233.8 65.1,246.5 67.2,241.7 69.3,251.1 71.4,248.0 73.5,251.5 75.6,241.8 77.7,247.9 79.8,238.8 81.9,240.1 84.0,242.9 86.1,257.4 88.2,245.7 90.3,242.6 92.4,241.5 94.5,251.6 96.6,245.9 98.7,249.5 100.8,249.0 102.9,241.2 105.0,269.5 107.1,258.8 109.2,262.7 111.3,245.9 113.4,259.8 115.5,239.6 117.6,246.8 119.7,253.9 121.8,248.6 123.9,252.8 126.0,256.7 128.1,247.9 130.2,255.3 132.3,263.8 134.4,257.9 136.5,254.0 138.6,262.8 140.7,245.6 142.8,264.0 144.9,243.0 147.0,249.3 149.1,264.0 151.2,255.6 153.3,249.0 155.4,259.3 157.5,268.8 159.6,258.2 161.7,245.7 163.8,273.4 165.9,256.9 168.0,261.4 170.1,263.0 172.2,273.0 174.3,266.1 176.4,256.5 178.5,260.3 180.6,290.2 182.7,254.6 184.8,278.3 186.9,262.2 189.0,266.6 191.1,260.0 193.2,267.0 195.3,262.6 197.4,271.4 199.5,264.9 201.6,270.4 203.7,257.7 205.8,281.1 207.9,266.4 210.0,272.8 212.1,275.8 214.2,283.3 216.3,275.4 218.4,294.0 220.5,293.9 222.6,275.8 224.7,297.5 226.8,271.8 228.9,286.4 231.0,282.7 233.1,284.8 235.2,282.9 237.3,289.7 239.4,291.4 241.5,289.8 243.6,281.0 245.7,298.0 247.8,280.7 249.9,288.8 252.0,294.5 254.1,310.8 256.2,288.9 258.3,288.1 260.4,299.9 262.5,289.9 264.6,286.7 266.7,297.4 268.8,290.1 270.9,297.2 273.0,331.0 275.1,314.1 277.2,306.5 279.3,298.5 281.4,313.0" fill="none" stroke="#a88a7a" stroke-width="0.3" marker-start="url(#m0)" marker-mid="url(#m0)" marker-end="url(#m0)"/>
<polyline points="31.5,228.6 33.6,240.0 35.7,235.6 37.8,230.4 39.9,240.2 42.0,238.0 44.1,236.8 46.2,237.0 48.3,244.7 50.4,237.1 52.5,229.6 54.6,248.2 56.7,234.1 58.8,238.9 60.9,243.4 63.0,228.7 65.1,234.9 67.2,247.5 69.3,240.6 71.4,238.0 73.5,243.0 75.6,237.4 77.7,242.1 79.8,237.7 81.9,233.5 84.0,247.3 86.1,242.5 88.2,246.7 90.3,243.0 92.4,250.8 94.5,247.3 96.6,245.6 98.7,239.5 100.8,238.5 102.9,261.9 105.0,252.8 107.1,246.7 109.2,246.6 111.3,241.9 113.4,252.0 115.5,247.7 117.6,260.6 119.7,249.1 121.8,249.6 123.9,241.1 126.0,271.3 128.1,253.2 130.2,258.2 132.3,245.6 134.4,262.6 136.5,251.7 138.6,248.8 140.7,258.9 142.8,283.5 144.9,259.0 147.0,266.8 149.1,252.4 151.2,264.9 153.3,245.9 155.4,257.9 157.5,266.5 159.6,264.5 161.7,270.4 163.8,258.7 165.9,251.6 168.0,264.6 170.1,256.9 172.2,272.5 174.3,262.5 176.4,248.9 178.5,278.7 180.6,257.8 182.7,266.3 184.8,285.2 186.9,281.8 189.0,278.4 191.1,263.3 193.2,275.1 195.3,273.6 197.4,267.8 199.5,282.0 201.6,273.1 203.7,278.6 205.8,268.1 207.9,301.7 210.0,265.6 212.1,282.3 214.2,287.7 216.3,276.0 218.4,278.3 220.5,302.1 222.6,291.7 224.7,297.7 226.8,293.5 228.9,291.5 231.0,295.6 233.1,285.1 235.2,292.4 237.3,274.1 239.4,291.2 241.5,303.1 243.6,303.3 245.7,302.1 247.8,292.7 249.9,294.6 252.0,287.5 254.1,309.6 256.2,296.0 258.3,295.2 260.4,300.0 262.5,297.2 264.6,293.9 266.7,294.7 268.8,307.8 270.9,321.8 273.0,312.3 275.1,313.4 277.2,332.3 279.3,311.3 281.4,303.3" fill="none" stroke="#9c8076" stroke-width="0.3" marker-start="url(#m1)" marker-mid="url(#m1)" marker-end="url(#m1)"/>
<polyline points="31.5,239.8 33.6,236.6 35.7,227.9 37.8,244.3 39.9,235.6 42.0,233.7 44.1,225.4 46.2,228.9 48.3,235.1 50.4,235.5 52.5,235.2 54.6,224.6 56.7,237.0 58.8,236.4 60.9,232.3 63.0,235.2 65.1,235.8 67.2,241.7 69.3,235.5 71.4,238.5 73.5,228.6 75.6,231.8 77.7,236.0 79.8,231.8 81.9,238.4 84.0,230.2 86.1,237.1 88.2,233.5 90.3,244.8 92.4,234.9 94.5,247.3 96.6,249.7 98.7,239.8 100.8,243.7 102.9,246.2 105.0,250.2 107.1,233.8 109.2,236.0 111.3,245.4 113.4,236.8 115.5,237.1 117.6,252.6 119.7,229.7 121.8,251.9 123.9,247.3 126.0,253.9 128.1,245.6 130.2,256.3 132.3,246.7 134.4,240.4 136.5,246.0 138.6,249.6 140.7,238.2 142.8,255.3 144.9,242.4 147.0,251.1 149.1,247.7 151.2,249.3 153.3,249.1 155.4,250.7 157.5,257.1 159.6,255.8 161.7,248.8 163.8,252.9 165.9,262.1 168.0,258.8 170.1,259.1 172.2,263.9 174.3,253.1 176.4,254.1 178.5,273.8 180.6,255.5 182.7,282.6 184.8,293.8 186.9,257.3 189.0,271.7 191.1,266.2 193.2,269.1 195.3,255.0 197.4,270.4 199.5,258.6 201.6,265.3 203.7,272.5 205.8,276.2 207.9,259.7 210.0,260.8 212.1,258.6 214.2,251.7 216.3,263.3 218.4,263.8 220.5,267.5 222.6,266.3 224.7,270.8 226.8,276.4 228.9,254.4 231.0,286.6 233.1,268.1 235.2,267.3 237.3,270.0 239.4,280.7 241.5,274.0 243.6,277.1 245.7,283.5 247.8,274.3 249.9,278.3 252.0,280.3 254.1,270.4 256.2,286.4 258.3,273.4 260.4,301.8 262.5,274.6 264.6,277.9 266.7,277.1 268.8,289.2 270.9,287.8 273.0,289.2 275.1,279.9 277.2,275.9 279.3,273.9 281.4,288.0" fill="none" stroke="#a78286" stroke-width="0.3" marker-start="url(#m2)" marker-mid="url(#m2)" marker-end="url(#m2)"/>
<polyline points="31.5,233.3 33.6,223.4 35.7,239.5 37.8,238.8 39.9,234.6 42.0,233.4 44.1,237.8 46.2,237.9 48.3,232.1 50.4,233.5 52.5,243.6 54.6,238.7 56.7,238.6 58.8,245.3 60.9,237.3 63.0,244.0 65.1,233.0 67.2,238.5 69.3,239.9 71.4,244.6 73.5,242.0 75.6,253.2 77.7,247.9 79.8,239.1 81.9,254.8 84.0,237.5 86.1,253.8 88.2,238.7 90.3,248.4 92.4,238.4 94.5,242.7 96.6,253.3 98.7,237.0 100.8,236.3 102.9,246.2 105.0,260.9 107.1,266.8 109.2,256.0 111.3,255.0 113.4,272.0 115.5,266.2 117.6,247.4 119.7,259.0 121.8,267.7 123.9,236.2 126.0,262.4 128.1,257.2 130.2,249.8 132.3,262.8 134.4,244.0 136.5,271.8 138.6,270.3 140.7,259.4 142.8,266.1 144.9,247.9 147.0,275.6 149.1,267.3 151.2,258.7 153.3,275.3 155.4,254.1 157.5,260.0 159.6,245.8 161.7,269.1 163.8,263.5 165.9,258.7 168.0,269.7 170.1,270.2 172.2,272.7 174.3,275.3 176.4,281.1 178.5,275.8 180.6,287.1 182.7,268.2 184.8,289.0 186.9,255.5 189.0,259.5 191.1,265.4 193.2,278.0 195.3,283.1 197.4,267.2 199.5,295.2 201.6,274.7 203.7,288.5 205.8,272.2 207.9,291.3 210.0,282.4 212.1,303.7 214.2,292.7 216.3,281.8 218.4,292.4 220.5,310.4 222.6,295.8 224.7,291.0 226.8,279.8 228.9,318.5 231.0,287.7 233.1,289.2 235.2,312.8 237.3,310.9 239.4,288.4 241.5,310.1 243.6,306.0 245.7,293.7 247.8,304.2 249.9,296.6 252.0,312.5 254.1,300.1 256.2,293.6 258.3,301.6 260.4,328.9 262.5,300.3 264.6,319.5 266.7,319.6 268.8,295.8 270.9,331.8 273.0,313.6 275.1,335.1 277.2,297.5 279.3,314.5 281.4,331.5" fill="none" stroke="#e6b0b8" stroke-width="0.3" marker-start="url(#m3)" marker-mid="url(#m3)" marker-end="url(#m3)"/>
<polyline points="31.5,235.9 33.6,237.1 35.7,236.6 37.8,242.1 39.9,230.2 42.0,241.0 44.1,238.3 46.2,242.6 48.3,241.5 50.4,245.7 52.5,230.8 54.6,240.4 56.7,234.0 58.8,240.2 60.9,244.4 63.0,242.1 65.1,243.7 67.2,241.0 69.3,244.1 71.4,244.3 73.5,250.9 75.6,247.4 77.7,232.1 79.8,246.8 81.9,249.7 84.0,242.1 86.1,235.9 88.2,253.6 90.3,246.0 92.4,248.5 94.5,255.5 96.6,240.9 98.7,246.4 100.8,246.4 102.9,247.1 105.0,246.1 107.1,257.7 109.2,242.2 111.3,258.8 113.4,247.6 115.5,246.4 117.6,255.2 119.7,262.2 121.8,263.2 123.9,248.7 126.0,249.0 128.1,264.2 130.2,270.2 132.3,247.3 134.4,270.8 136.5,257.2 138.6,267.8 140.7,278.7 142.8,259.3 144.9,263.0 147.0,249.3 149.1,242.8 151.2,264.8 153.3,254.7 155.4,255.2 157.5,270.6 159.6,275.1 161.7,252.5 163.8,271.2 165.9,268.2 168.0,290.8 170.1,270.8 172.2,276.8 174.3,264.2 176.4,260.5 178.5,276.5 180.6,288.6 182.7,273.2 184.8,291.3 186.9,282.5 189.0,265.1 191.1,256.3 193.2,274.7 195.3,291.5 197.4,273.0 199.5,297.5 201.6,290.3 203.7,269.1 205.8,277.2 207.9,301.5 210.0,305.9 212.1,298.4 214.2,288.7 216.3,296.3 218.4,286.1 220.5,298.1 222.6,303.5 224.7,285.3 226.8,302.1 228.9,307.4 231.0,311.4 233.1,294.4 235.2,307.9 237.3,292.6 239.4,303.2 241.5,290.0 243.6,306.6 245.7,310.9 247.8,319.5 249.9,318.5 252.0,315.2 254.1,275.6 256.2,323.5 258.3,325.6 260.4,305.7 262.5,305.2 264.6,320.0 266.7,311.1 268.8,334.1 270.9,317.9 273.0,305.4 275.1,298.7 277.2,319.0 279.3,321.2 281.4,313.8" fill="none" stroke="#e09ca3" stroke-width="0.3" marker-start="url(#m4)" marker-mid="url(#m4)" marker-end="url(#m4)"/>
<polyline points="31.5,238.3 33.6,230.8 35.7,237.2 37.8,235.4 39.9,242.0 42.0,243.2 44.1,227.8 46.2,239.1 48.3,234.2 50.4,236.4 52.5,239.5 54.6,240.7 56.7,234.3 58.8,240.3 60.9,239.3 63.0,238.2 65.1,231.2 67.2,234.9 69.3,237.6 71.4,243.9 73.5,249.0 75.6,234.7 77.7,234.5 79.8,241.7 81.9,238.1 84.0,237.3 86.1,237.6 88.2,237.2 90.3,245.5 92.4,233.2 94.5,250.4 96.6,238.1 98.7,241.2 100.8,239.3 102.9,240.1 105.0,244.1 107.1,253.0 109.2,245.9 111.3,242.9 113.4,254.6 115.5,260.0 117.6,247.2 119.7,248.6 121.8,245.5 123.9,251.4 126.0,257.8 128.1,256.8 130.2,262.2 132.3,262.2 134.4,259.6 136.5,259.6 138.6,248.5 140.7,267.2 142.8,274.7 144.9,262.7 147.0,247.8 149.1,256.7 151.2,262.5 153.3,254.3 155.4,260.1 157.5,265.6 159.6,251.3 161.7,257.7 163.8,251.3 165.9,256.0 168.0,259.4 170.1,264.6 172.2,276.1 174.3,261.9 176.4,267.1 178.5,263.5 180.6,269.2 182.7,276.1 184.8,279.8 186.9,266.1 189.0,262.7 191.1,275.8 193.2,270.7 195.3,264.8 197.4,283.8 199.5,280.2 201.6,288.5 203.7,270.0 205.8,277.8 207.9,285.2 210.0,297.7 212.1,284.4 214.2,276.0 216.3,287.5 218.4,289.7 220.5,281.5 222.6,299.6 224.7,287.9 226.8,284.6 228.9,298.1 231.0,299.5 233.1,290.1 235.2,294.0 237.3,296.3 239.4,293.1 241.5,293.9 243.6,306.1 245.7,304.4 247.8,294.7 249.9,290.2 252.0,289.2 254.1,309.9 256.2,293.0 258.3,296.6 260.4,304.2 262.5,300.6 264.6,298.7 266.7,291.6 268.8,318.7 270.9,315.8 273.0,310.8 275.1,312.4 277.2,301.3 279.3,305.0 281.4,336.4" fill="none" stroke="#f4c27a" stroke-width="0.3" marker-start="url(#m5)" marker-mid="url(#m5)" marker-end="url(#m5)"/>
<polyline points="31.5,220.8 33.6,222.2 35.7,238.6 37.8,242.5 39.9,228.0 42.0,239.9 44.1,234.1 46.2,228.6 48.3,243.7 50.4,246.7 52.5,233.1 54.6,235.2 56.7,237.5 58.8,236.0 60.9,241.4 63.0,245.2 65.1,237.4 67.2,242.8 69.3,247.6 71.4,235.2 73.5,239.0 75.6,235.9 77.7,244.3 79.8,242.6 81.9,245.3 84.0,245.4 86.1,239.4 88.2,245.5 90.3,238.4 92.4,238.4 94.5,229.9 96.6,249.7 98.7,236.5 100.8,243.2 102.9,248.0 105.0,245.2 107.1,257.4 109.2,242.6 111.3,248.7 113.4,260.7 115.5,247.2 117.6,238.9 119.7,250.1 121.8,253.7 123.9,240.6 126.0,256.0 128.1,265.4 130.2,264.5 132.3,246.6 134.4,252.4 136.5,251.6 138.6,254.2 140.7,272.0 142.8,263.1 144.9,279.1 147.0,254.3 149.1,256.9 151.2,247.4 153.3,265.8 155.4,264.2 157.5,269.6 159.6,251.8 161.7,272.9 163.8,257.3 165.9,253.4 168.0,265.4 170.1,259.7 172.2,290.3 174.3,269.8 176.4,281.9 178.5,266.4 180.6,268.3 182.7,276.1 184.8,263.0 186.9,267.9 189.0,276.3 191.1,277.2 193.2,287.0 195.3,276.1 197.4,259.7 199.5,282.9 201.6,274.0 203.7,301.8 205.8,273.1 207.9,276.7 210.0,283.2 212.1,299.1 214.2,287.9 216.3,274.7 218.4,287.2 220.5,280.9 222.6,291.4 224.7,307.3 226.8,285.3 228.9,287.1 231.0,308.2 233.1,295.1 235.2,290.0 237.3,299.2 239.4,291.3 241.5,297.1 243.6,319.9 245.7,298.3 247.8,303.9 249.9,307.2 252.0,296.2 254.1,305.5 256.2,296.9 258.3,293.3 260.4,301.9 262.5,320.3 264.6,312.7 266.7,298.3 268.8,309.5 270.9,316.3 273.0,309.5 275.1,305.2 277.2,308.2 279.3,305.8 281.4,321.1" fill="none" stroke="#fadcb0" stroke-width="0.3" marker-start="url(#m6)" marker-mid="url(#m6)" marker-end="url(#m6)"/>
<polyline points="31.5,231.2 33.6,239.8 35.7,234.1 37.8,227.3 39.9,233.2 42.0,232.9 44.1,235.3 46.2,226.3 48.3,233.6 50.4,246.9 52.5,238.5 54.6,246.9 56.7,255.2 58.8,239.1 60.9,227.5 63.0,235.5 65.1,243.1 67.2,242.3 69.3,230.4 71.4,237.1 73.5,238.0 75.6,238.6 77.7,237.9 79.8,233.4 81.9,235.6 84.0,238.5 86.1,246.7 88.2,237.4 90.3,244.5 92.4,233.5 94.5,248.2 96.6,242.0 98.7,242.0 100.8,250.5 102.9,248.5 105.0,249.0 107.1,263.0 109.2,263.8 111.3,250.7 113.4,259.6 115.5,241.9 117.6,241.4 119.7,241.2 121.8,247.0 123.9,256.4 126.0,247.2 128.1,255.4 130.2,250.4 132.3,262.4 134.4,260.5 136.5,253.1 138.6,245.0 140.7,257.6 142.8,242.7 144.9,239.8 147.0,270.0 149.1,259.6 151.2,268.4 153.3,262.1 155.4,266.3 157.5,262.9 159.6,256.4 161.7,257.3 163.8,262.7 165.9,265.2 168.0,283.4 170.1,265.8 172.2,263.4 174.3,268.1 176.4,265.3 178.5,281.5 180.6,264.7 182.7,258.6 184.8,270.5 186.9,285.5 189.0,263.8 191.1,277.6 193.2,298.8 195.3,278.6 197.4,286.2 199.5,275.7 201.6,270.3 203.7,275.9 205.8,280.5 207.9,301.3 210.0,294.1 212.1,283.1 214.2,292.8 216.3,296.4 218.4,293.4 220.5,284.8 222.6,308.2 224.7,309.6 226.8,293.7 228.9,290.4 231.0,298.1 233.1,317.2 235.2,295.0 237.3,309.5 239.4,291.9 241.5,299.0 243.6,296.8 245.7,294.7 247.8,306.2 249.9,295.1 252.0,292.6 254.1,300.4 256.2,293.7 258.3,312.1 260.4,298.9 262.5,324.4 264.6,332.3 266.7,310.1 268.8,315.9 270.9,317.1 273.0,311.4 275.1,304.1 277.2,317.4 279.3,313.8 281.4,331.8" fill="none" stroke="#f0d98a" stroke-width="0.3" marker-start="url(#m7)" marker-mid="url(#m7)" marker-end="url(#m7)"/>
<polyline points="31.5,222.1 33.6,223.6 35.7,235.8 37.8,228.8 39.9,232.1 42.0,250.8 44.1,233.8 46.2,235.7 48.3,234.7 50.4,241.9 52.5,237.7 54.6,238.0 56.7,230.1 58.8,235.7 60.9,237.7 63.0,228.0 65.1,241.2 67.2,240.9 69.3,250.3 71.4,230.2 73.5,234.2 75.6,234.4 77.7,235.9 79.8,239.6 81.9,239.6 84.0,243.3 86.1,243.6 88.2,242.2 90.3,232.9 92.4,238.8 94.5,242.9 96.6,246.6 98.7,247.8 100.8,234.5 102.9,246.1 105.0,240.8 107.1,243.3 109.2,245.8 111.3,253.1 113.4,257.1 115.5,251.1 117.6,261.3 119.7,261.2 121.8,246.5 123.9,260.2 126.0,242.2 128.1,265.7 130.2,252.0 132.3,265.0 134.4,254.8 136.5,265.4 138.6,256.9 140.7,259.2 142.8,262.3 144.9,255.4 147.0,249.2 149.1,265.1 151.2,254.6 153.3,260.9 155.4,262.5 157.5,247.9 159.6,282.9 161.7,270.5 163.8,281.3 165.9,268.8 168.0,268.8 170.1,240.8 172.2,265.8 174.3,256.4 176.4,260.6 178.5,274.6 180.6,267.9 182.7,260.2 184.8,271.6 186.9,272.1 189.0,271.0 191.1,289.6 193.2,284.3 195.3,275.3 197.4,274.8 199.5,288.4 201.6,283.9 203.7,283.0 205.8,284.3 207.9,278.7 210.0,284.1 212.1,284.7 214.2,300.7 216.3,298.3 218.4,286.6 220.5,305.7 222.6,289.0 224.7,298.7 226.8,301.2 228.9,289.1 231.0,302.0 233.1,304.8 235.2,313.6 237.3,297.6 239.4,277.3 241.5,321.6 243.6,301.3 245.7,304.5 247.8,295.3 249.9,307.8 252.0,323.0 254.1,295.1 256.2,318.3 258.3,308.6 260.4,323.3 262.5,321.4 264.6,316.1 266.7,304.7 268.8,305.7 270.9,320.2 273.0,310.5 275.1,319.8 277.2,315.7 279.3,316.3 281.4,313.4" fill="none" stroke="#eef08a" stroke-width="0.3" marker-start="url(#m8)" marker-mid="url(#m8)" marker-end="url(#m8)"/>
<polyline points="31.5,229.8 33.6,232.4 35.7,235.2 37.8,240.4 39.9,235.0 42.0,229.8 44.1,237.9 46.2,236.8 48.3,236.7 50.4,234.9 52.5,245.8 54.6,238.5 56.7,242.9 58.8,232.5 60.9,242.5 63.0,234.2 65.1,228.5 67.2,240.7 69.3,243.3 71.4,239.1 73.5,240.5 75.6,246.4 77.7,237.4 79.8,229.8 81.9,242.9 84.0,243.3 86.1,249.0 88.2,240.9 90.3,250.2 92.4,249.3 94.5,234.8 96.6,249.0 98.7,237.6 100.8,235.4 102.9,251.4 105.0,248.6 107.1,247.0 109.2,248.3 111.3,255.5 113.4,240.0 115.5,254.3 117.6,246.9 119.7,250.8 121.8,245.2 123.9,270.8 126.0,241.1 128.1,256.4 130.2,265.4 132.3,255.1 134.4,241.8 136.5,253.8 138.6,268.4 140.7,262.5 142.8,250.0 144.9,271.8 147.0,261.7 149.1,263.2 151.2,246.6 153.3,264.8 155.4,254.0 157.5,269.8 159.6,271.7 161.7,258.4 163.8,261.8 165.9,282.4 168.0,263.3 170.1,264.0 172.2,274.9 174.3,268.5 176.4,269.0 178.5,276.2 180.6,277.9 182.7,279.5 184.8,276.6 186.9,287.1 189.0,276.4 191.1,290.9 193.2,277.5 195.3,280.0 197.4,290.0 199.5,274.9 201.6,268.0 203.7,273.5 205.8,297.5 207.9,276.0 210.0,284.9 212.1,288.2 214.2,294.5 216.3,289.9 218.4,280.2 220.5,287.7 222.6,297.1 224.7,300.7 226.8,299.3 228.9,291.6 231.0,282.6 233.1,308.9 235.2,299.3 237.3,304.2 239.4,308.9 241.5,316.4 243.6,298.8 245.7,318.8 247.8,316.0 249.9,296.6 252.0,304.7 254.1,304.0 256.2,314.6 258.3,314.4 260.4,307.6 262.5,317.6 264.6,325.1 266.7,314.4 268.8,307.8 270.9,327.4 273.0,308.5 275.1,312.5 277.2,328.8 279.3,320.4 281.4,322.0" fill="none" stroke="#f4f6a0" stroke-width="0.3" marker-start="url(#m9)" marker-mid="url(#m9)" marker-end="url(#m9)"/>
<polyline points="31.5,232.9 33.6,230.9 35.7,223.8 37.8,236.5 39.9,239.7 42.0,244.9 44.1,236.8 46.2,227.6 48.3,230.8 50.4,242.7 52.5,242.9 54.6,241.6 56.7,237.4 58.8,240.7 60.9,238.0 63.0,237.4 65.1,241.3 67.2,240.4 69.3,239.7 71.4,242.2 73.5,238.7 75.6,230.9 77.7,238.0 79.8,241.6 81.9,252.7 84.0,241.0 86.1,255.7 88.2,252.6 90.3,238.7 92.4,239.5 94.5,245.1 96.6,255.1 98.7,247.8 100.8,250.2 102.9,243.3 105.0,243.7 107.1,267.9 109.2,258.6 111.3,243.3 113.4,249.2 115.5,248.1 117.6,249.1 119.7,242.5 121.8,261.9 123.9,246.3 126.0,260.2 128.1,249.7 130.2,246.3 132.3,267.0 134.4,253.5 136.5,259.1 138.6,259.9 140.7,257.7 142.8,267.6 144.9,267.4 147.0,255.1 149.1,254.3 151.2,281.9 153.3,274.3 155.4,246.5 157.5,255.6 159.6,261.4 161.7,273.8 163.8,270.6 165.9,264.5 168.0,275.5 170.1,256.5 172.2,267.5 174.3,266.4 176.4,279.3 178.5,279.0 180.6,278.7 182.7,270.3 184.8,275.5 186.9,276.5 189.0,272.5 191.1,274.2 193.2,266.1 195.3,293.2 197.4,288.4 199.5,280.1 201.6,270.2 203.7,287.3 205.8,282.7 207.9,287.5 210.0,282.1 212.1,284.2 214.2,295.0 216.3,290.4 218.4,282.1 220.5,281.9 222.6,302.8 224.7,285.7 226.8,296.7 228.9,298.0 231.0,288.1 233.1,308.0 235.2,297.9 237.3,316.9 239.4,303.1 241.5,307.4 243.6,313.4 245.7,297.5 247.8,310.7 249.9,307.9 252.0,307.8 254.1,313.7 256.2,295.5 258.3,313.2 260.4,307.4 262.5,323.6 264.6,315.9 266.7,315.4 268.8,316.2 270.9,320.1 273.0,313.6 275.1,302.8 277.2,318.3 279.3,319.3 281.4,323.0" fill="none" stroke="#8fbf80" stroke-width="0.3" marker-start="url(#m10)" marker-mid="url(#m10)" marker-end="url(#m10)"/>
<polyline points="31.5,225.5 33.6,218.6 35.7,228.2 37.8,234.4 39.9,237.1 42.0,230.6 44.1,231.5 46.2,237.3 48.3,229.6 50.4,237.3 52.5,223.7 54.6,224.3 56.7,224.4 58.8,234.1 60.9,228.0 63.0,232.0 65.1,233.7 67.2,233.6 69.3,239.7 71.4,240.8 73.5,227.2 75.6,233.3 77.7,230.8 79.8,225.9 81.9,242.9 84.0,237.5 86.1,231.9 88.2,230.6 90.3,235.3 92.4,226.5 94.5,231.7 96.6,240.6 98.7,239.2 100.8,228.7 102.9,233.1 105.0,236.3 107.1,240.1 109.2,239.8 111.3,245.7 113.4,243.4 115.5,242.1 117.6,242.6 119.7,247.3 121.8,247.2 123.9,241.6 126.0,242.6 128.1,254.4 130.2,243.8 132.3,239.4 134.4,247.9 136.5,243.8 138.6,252.5 140.7,241.7 142.8,251.3 144.9,252.2 147.0,247.6 149.1,236.3 151.2,249.7 153.3,253.6 155.4,245.2 157.5,246.5 159.6,240.9 161.7,255.1 163.8,257.2 165.9,250.7 168.0,247.7 170.1,248.1 172.2,245.3 174.3,258.6 176.4,259.7 178.5,251.8 180.6,247.8 182.7,249.7 184.8,254.5 186.9,258.2 189.0,249.1 191.1,249.2 193.2,241.9 195.3,255.4 197.4,247.6 199.5,262.3 201.6,259.0 203.7,260.2 205.8,259.5 207.9,262.4 210.0,260.9 212.1,258.5 214.2,261.4 216.3,256.1 218.4,260.2 220.5,260.1 222.6,253.7 224.7,259.6 226.8,260.8 228.9,262.2 231.0,262.2 233.1,260.2 235.2,273.4 237.3,258.3 239.4,256.7 241.5,259.1 243.6,268.3 245.7,275.6 247.8,268.9 249.9,265.8 252.0,262.9 254.1,268.6 256.2,269.9 258.3,260.8 260.4,273.1 262.5,263.9 264.6,265.2 266.7,278.8 268.8,269.2 270.9,274.7 273.0,277.7 275.1,284.1 277.2,282.7 279.3,270.7 281.4,275.9" fill="none" stroke="#d9f2d9" stroke-width="0.3" marker-start="url(#m11)" marker-mid="url(#m11)" marker-end="url(#m11)"/>
<polyline points="31.5,228.8 33.6,243.1 35.7,223.3 37.8,228.3 39.9,224.0 42.0,235.0 44.1,234.6 46.2,239.5 48.3,221.9 50.4,233.9 52.5,223.1 54.6,237.4 56.7,232.7 58.8,243.9 60.9,236.1 63.0,227.6 65.1,241.4 67.2,227.4 69.3,232.4 71.4,241.1 73.5,237.9 75.6,237.6 77.7,235.1 79.8,238.1 81.9,240.2 84.0,237.4 86.1,242.0 88.2,243.6 90.3,236.1 92.4,230.2 94.5,245.0 96.6,236.1 98.7,240.4 100.8,242.6 102.9,241.5 105.0,248.7 107.1,244.9 109.2,244.9 111.3,252.4 113.4,253.5 115.5,242.2 117.6,243.8 119.7,250.2 121.8,245.6 123.9,242.1 126.0,236.8 128.1,251.2 130.2,243.0 132.3,235.9 134.4,246.2 136.5,239.4 138.6,263.8 140.7,239.9 142.8,247.7 144.9,260.2 147.0,244.1 149.1,242.9 151.2,242.5 153.3,242.9 155.4,249.7 157.5,254.9 159.6,253.4 161.7,250.9 163.8,248.9 165.9,254.7 168.0,251.5 170.1,247.5 172.2,250.8 174.3,240.6 176.4,241.7 178.5,261.7 180.6,258.0 182.7,263.6 184.8,263.0 186.9,252.2 189.0,267.9 191.1,263.7 193.2,258.7 195.3,252.8 197.4,260.4 199.5,260.9 201.6,253.6 203.7,256.7 205.8,257.2 207.9,254.9 210.0,268.3 212.1,260.1 214.2,266.6 216.3,256.5 218.4,258.2 220.5,271.3 222.6,256.1 224.7,273.3 226.8,258.1 228.9,264.3 231.0,272.7 233.1,275.1 235.2,269.3 237.3,267.7 239.4,273.5 241.5,265.0 243.6,279.9 245.7,269.5 247.8,269.9 249.9,285.1 252.0,268.9 254.1,281.4 256.2,291.7 258.3,277.3 260.4,274.7 262.5,267.6 264.6,277.8 266.7,264.9 268.8,265.6 270.9,268.3 273.0,267.3 275.1,274.0 277.2,281.4 279.3,273.0 281.4,271.4" fill="none" stroke="#8fc0a8" stroke-width="0.3" marker-start="url(#m12)" marker-mid="url(#m12)" marker-end="url(#m12)"/>
<polyline points="31.5,226.3 33.6,234.7 35.7,222.3 37.8,236.6 39.9,229.8 42.0,233.8 44.1,237.1 46.2,228.9 48.3,233.4 50.4,228.8 52.5,233.1 54.6,239.7 56.7,234.0 58.8,233.1 60.9,227.4 63.0,238.8 65.1,233.7 67.2,244.1 69.3,230.0 71.4,240.8 73.5,245.2 75.6,234.7 77.7,227.4 79.8,243.5 81.9,241.2 84.0,239.4 86.1,241.9 88.2,232.9 90.3,240.0 92.4,239.5 94.5,231.6 96.6,240.0 98.7,233.0 100.8,241.8 102.9,241.4 105.0,244.1 107.1,251.7 109.2,240.2 111.3,241.8 113.4,251.2 115.5,243.4 117.6,240.8 119.7,245.1 121.8,240.9 123.9,241.3 126.0,254.2 128.1,247.2 130.2,243.2 132.3,241.3 134.4,239.0 136.5,258.7 138.6,247.0 140.7,243.1 142.8,240.7 144.9,238.5 147.0,253.8 149.1,250.3 151.2,255.2 153.3,244.2 155.4,257.7 157.5,242.9 159.6,244.6 161.7,247.3 163.8,265.0 165.9,255.3 168.0,246.9 170.1,261.1 172.2,253.3 174.3,252.8 176.4,247.5 178.5,251.2 180.6,251.6 182.7,256.5 184.8,253.8 186.9,255.1 189.0,250.6 191.1,256.4 193.2,249.8 195.3,268.2 197.4,249.8 199.5,258.3 201.6,251.1 203.7,257.5 205.8,253.5 207.9,250.3 210.0,263.5 212.1,259.4 214.2,261.7 216.3,259.6 218.4,273.5 220.5,263.1 222.6,264.2 224.7,268.7 226.8,264.7 228.9,275.5 231.0,255.8 233.1,261.9 235.2,253.7 237.3,272.3 239.4,275.1 241.5,264.7 243.6,280.0 245.7,265.9 247.8,273.4 249.9,270.9 252.0,267.1 254.1,268.9 256.2,258.0 258.3,266.1 260.4,280.9 262.5,264.8 264.6,282.3 266.7,271.3 268.8,282.5 270.9,279.6 273.0,264.8 275.1,278.3 277.2,279.5 279.3,279.3 281.4,277.7" fill="none" stroke="#7aa898" stroke-width="0.3" marker-start="url(#m13)" marker-mid="url(#m13)" marker-end="url(#m13)"/>
<polyline points="31.5,239.3 33.6,243.0 35.7,221.3 37.8,234.5 39.9,231.6 42.0,233.8 44.1,232.7 46.2,233.3 48.3,222.8 50.4,240.0 52.5,243.5 54.6,240.8 56.7,243.2 58.8,230.6 60.9,230.1 63.0,241.0 65.1,243.7 67.2,238.0 69.3,227.6 71.4,253.7 73.5,233.6 75.6,243.3 77.7,230.3 79.8,243.5 81.9,239.2 84.0,247.0 86.1,244.2 88.2,229.8 90.3,233.2 92.4,240.7 94.5,243.7 96.6,250.2 98.7,241.8 100.8,240.0 102.9,237.2 105.0,250.3 107.1,251.0 109.2,241.9 111.3,253.9 113.4,247.2 115.5,240.3 117.6,245.8 119.7,249.0 121.8,250.8 123.9,252.4 126.0,250.8 128.1,246.8 130.2,241.7 132.3,243.3 134.4,252.1 136.5,253.6 138.6,245.6 140.7,261.5 142.8,252.8 144.9,252.4 147.0,257.9 149.1,257.5 151.2,249.5 153.3,263.0 155.4,258.5 157.5,257.3 159.6,252.9 161.7,263.2 163.8,248.5 165.9,257.0 168.0,257.1 170.1,258.4 172.2,261.0 174.3,263.6 176.4,251.0 178.5,256.7 180.6,259.1 182.7,253.3 184.8,264.3 186.9,256.3 189.0,260.3 191.1,267.5 193.2,257.5 195.3,273.2 197.4,259.4 199.5,270.2 201.6,262.1 203.7,257.2 205.8,262.5 207.9,270.9 210.0,267.4 212.1,270.6 214.2,277.2 216.3,277.4 218.4,269.5 220.5,267.3 222.6,284.5 224.7,272.4 226.8,269.4 228.9,272.4 231.0,281.5 233.1,268.1 235.2,284.4 237.3,271.7 239.4,266.5 241.5,292.8 243.6,275.9 245.7,276.2 247.8,277.4 249.9,285.6 252.0,282.6 254.1,291.9 256.2,280.5 258.3,278.6 260.4,288.0 262.5,290.8 264.6,287.8 266.7,284.7 268.8,284.8 270.9,286.7 273.0,286.0 275.1,297.9 277.2,310.2 279.3,284.3 281.4,279.7" fill="none" stroke="#c4d4e4" stroke-width="0.6"/>
<polyline points="31.5,234.2 33.6,234.3 35.7,240.5 37.8,234.4 39.9,234.5 42.0,226.3 44.1,223.7 46.2,235.3 48.3,239.1 50.4,234.9 52.5,238.4 54.6,239.5 56.7,235.6 58.8,241.5 60.9,231.4 63.0,235.8 65.1,233.7 67.2,236.6 69.3,240.1 71.4,241.7 73.5,237.5 75.6,239.3 77.7,234.5 79.8,236.1 81.9,244.4 84.0,236.1 86.1,244.8 88.2,240.5 90.3,238.5 92.4,249.1 94.5,236.2 96.6,236.0 98.7,238.2 100.8,239.9 102.9,249.1 105.0,245.2 107.1,240.3 109.2,237.5 111.3,239.0 113.4,236.3 115.5,242.6 117.6,240.4 119.7,240.5 121.8,245.3 123.9,237.1 126.0,239.9 128.1,238.3 130.2,245.7 132.3,238.2 134.4,250.3 136.5,241.6 138.6,260.8 140.7,250.6 142.8,240.3 144.9,247.5 147.0,243.7 149.1,255.6 151.2,237.1 153.3,242.4 155.4,246.1 157.5,243.9 159.6,244.7 161.7,239.3 163.8,246.0 165.9,257.5 168.0,249.6 170.1,241.2 172.2,245.4 174.3,251.8 176.4,245.8 178.5,248.8 180.6,246.4 182.7,261.2 184.8,256.8 186.9,247.1 189.0,252.9 191.1,249.7 193.2,241.2 195.3,254.8 197.4,251.6 199.5,257.5 201.6,258.4 203.7,254.9 205.8,265.4 207.9,277.9 210.0,247.8 212.1,256.9 214.2,250.0 216.3,256.2 218.4,256.5 220.5,253.9 222.6,254.0 224.7,267.8 226.8,252.0 228.9,267.0 231.0,258.8 233.1,245.2 235.2,260.4 237.3,251.3 239.4,277.1 241.5,258.4 243.6,262.3 245.7,260.4 247.8,270.2 249.9,271.1 252.0,262.1 254.1,277.1 256.2,271.8 258.3,261.5 260.4,270.9 262.5,273.5 264.6,275.7 266.7,266.2 268.8,270.6 270.9,267.0 273.0,270.1 275.1,257.0 277.2,272.9 279.3,285.8 281.4,269.3" fill="none" stroke="#7aa0d0" stroke-width="0.3" marker-start="url(#m15)" marker-mid="url(#m15)" marker-end="url(#m15)"/>
<polyline points="31.5,238.0 33.6,241.6 35.7,237.4 37.8,239.2 39.9,235.5 42.0,243.4 44.1,234.8 46.2,235.3 48.3,237.1 50.4,238.9 52.5,232.9 54.6,246.5 56.7,233.8 58.8,235.2 60.9,234.9 63.0,234.3 65.1,240.6 67.2,238.4 69.3,233.0 71.4,234.4 73.5,235.9 75.6,246.2 77.7,233.8 79.8,229.9 81.9,231.0 84.0,236.0 86.1,246.9 88.2,231.7 90.3,238.5 92.4,252.8 94.5,235.3 96.6,246.7 98.7,245.7 100.8,241.8 102.9,241.0 105.0,240.4 107.1,249.2 109.2,236.8 111.3,241.6 113.4,241.7 115.5,249.8 117.6,239.7 119.7,242.2 121.8,236.2 123.9,244.3 126.0,248.9 128.1,241.6 130.2,247.5 132.3,240.5 134.4,248.8 136.5,243.5 138.6,244.1 140.7,243.1 142.8,246.1 144.9,253.7 147.0,243.8 149.1,247.1 151.2,243.1 153.3,245.8 155.4,257.9 157.5,245.1 159.6,238.4 161.7,243.8 163.8,242.6 165.9,243.6 168.0,249.0 170.1,254.5 172.2,242.7 174.3,241.8 176.4,244.4 178.5,253.0 180.6,245.7 182.7,248.2 184.8,246.9 186.9,248.5 189.0,247.2 191.1,255.3 193.2,253.7 195.3,247.1 197.4,252.6 199.5,266.2 201.6,250.4 203.7,266.2 205.8,242.2 207.9,248.5 210.0,249.1 212.1,257.3 214.2,260.7 216.3,255.2 218.4,259.3 220.5,259.6 222.6,253.9 224.7,251.5 226.8,252.3 228.9,262.9 231.0,270.8 233.1,256.6 235.2,261.5 237.3,254.9 239.4,248.8 241.5,249.2 243.6,256.7 245.7,252.7 247.8,250.1 249.9,264.7 252.0,258.2 254.1,255.4 256.2,260.7 258.3,264.3 260.4,266.4 262.5,261.5 264.6,266.3 266.7,257.7 268.8,264.9 270.9,254.6 273.0,256.3 275.1,272.5 277.2,257.7 279.3,267.2 281.4,256.7" fill="none" stroke="#7cc0e8" stroke-width="0.3" marker-start="url(#m16)" marker-mid="url(#m16)" marker-end="url(#m16)"/>
<polyline points="31.5,229.3 33.6,239.6 35.7,235.6 37.8,226.3 39.9,227.0 42.0,237.4 44.1,238.2 46.2,244.3 48.3,241.0 50.4,234.1 52.5,234.1 54.6,235.7 56.7,230.0 58.8,240.8 60.9,236.6 63.0,231.7 65.1,232.5 67.2,229.3 69.3,233.4 71.4,237.6 73.5,233.4 75.6,241.7 77.7,245.5 79.8,232.0 81.9,235.8 84.0,233.4 86.1,245.4 88.2,237.3 90.3,238.8 92.4,240.4 94.5,248.7 96.6,237.0 98.7,229.2 100.8,232.3 102.9,238.1 105.0,238.8 107.1,237.7 109.2,239.6 111.3,238.0 113.4,237.9 115.5,238.7 117.6,237.7 119.7,240.2 121.8,237.3 123.9,240.5 126.0,237.1 128.1,237.3 130.2,236.8 132.3,239.0 134.4,237.2 136.5,238.2 138.6,237.4 140.7,239.2 142.8,235.3 144.9,238.7 147.0,236.1 149.1,239.8 151.2,237.4 153.3,238.8 155.4,236.5 157.5,238.8 159.6,240.1 161.7,237.5 163.8,240.9 165.9,240.5 168.0,237.2 170.1,242.7 172.2,237.3 174.3,243.3 176.4,240.8 178.5,238.4 180.6,237.8 182.7,240.3 184.8,239.5 186.9,237.8 189.0,237.9 191.1,239.5 193.2,241.2 195.3,245.0 197.4,241.0 199.5,238.5 201.6,238.8 203.7,239.4 205.8,237.6 207.9,240.9 210.0,241.2 212.1,241.3 214.2,237.0 216.3,245.4 218.4,240.1 220.5,239.9 222.6,240.8 224.7,236.6 226.8,238.9 228.9,239.7 231.0,243.5 233.1,240.4 235.2,242.4 237.3,241.5 239.4,241.3 241.5,243.0 243.6,240.6 245.7,238.8 247.8,240.0 249.9,241.7 252.0,247.1 254.1,240.2 256.2,240.3 258.3,243.0 260.4,243.8 262.5,241.4 264.6,244.9 266.7,241.3 268.8,245.8 270.9,245.5 273.0,243.2 275.1,247.1 277.2,243.4 279.3,242.4 281.4,247.0" fill="none" stroke="#a0f4d0" stroke-width="0.3" marker-start="url(#m17)" marker-mid="url(#m17)" marker-end="url(#m17)"/>
<polyline points="31.5,236.2 33.6,232.6 35.7,228.0 37.8,249.9 39.9,234.9 42.0,231.3 44.1,230.6 46.2,224.2 48.3,227.6 50.4,233.0 52.5,233.7 54.6,231.4 56.7,240.2 58.8,237.4 60.9,231.4 63.0,226.2 65.1,238.2 67.2,238.1 69.3,237.4 71.4,230.8 73.5,239.6 75.6,230.1 77.7,245.0 79.8,240.6 81.9,241.3 84.0,235.9 86.1,234.8 88.2,250.6 90.3,246.9 92.4,239.2 94.5,245.4 96.6,251.2 98.7,236.3 100.8,240.2 102.9,240.7 105.0,250.0 107.1,243.7 109.2,246.0 111.3,251.0 113.4,252.0 115.5,261.1 117.6,254.4 119.7,255.5 121.8,240.8 123.9,244.9 126.0,261.9 128.1,247.2 130.2,251.2 132.3,256.0 134.4,250.7 136.5,249.1 138.6,259.2 140.7,257.4 142.8,254.5 144.9,264.1 147.0,255.3 149.1,257.7 151.2,263.3 153.3,265.3 155.4,257.0 157.5,254.0 159.6,258.2 161.7,268.2 163.8,256.8 165.9,261.3 168.0,259.2 170.1,256.1 172.2,272.1 174.3,266.3 176.4,270.9 178.5,274.0 180.6,253.7 182.7,261.5 184.8,283.8 186.9,266.3 189.0,275.0 191.1,263.2 193.2,271.4 195.3,274.4 197.4,272.8 199.5,272.0 201.6,275.4 203.7,278.5 205.8,278.7 207.9,274.8 210.0,289.5 212.1,291.3 214.2,282.2 216.3,286.5 218.4,277.6 220.5,295.8 222.6,288.2 224.7,293.6 226.8,282.6 228.9,291.9 231.0,288.0 233.1,286.4 235.2,305.3 237.3,287.6 239.4,299.0 241.5,295.2 243.6,294.7 245.7,288.4 247.8,289.8 249.9,282.8 252.0,295.7 254.1,302.6 256.2,303.8 258.3,294.7 260.4,288.2 262.5,298.8 264.6,308.1 266.7,301.0 268.8,302.0 270.9,304.7 273.0,313.3 275.1,332.3 277.2,313.0 279.3,300.0 281.4,307.6" fill="none" stroke="#6070c0" stroke-width="0.3" marker-start="url(#m18)" marker-mid="url(#m18)" marker-end="url(#m18)"/>
<polyline points="31.5,230.8 33.6,236.6 35.7,227.6 37.8,236.1 39.9,228.6 42.0,241.6 44.1,241.4 46.2,234.9 48.3,240.4 50.4,232.1 52.5,235.4 54.6,243.4 56.7,238.0 58.8,240.8 60.9,232.8 63.0,242.3 65.1,241.4 67.2,231.8 69.3,229.4 71.4,230.0 73.5,240.6 75.6,239.6 77.7,231.2 79.8,241.9 81.9,247.6 84.0,241.8 86.1,240.3 88.2,248.3 90.3,253.0 92.4,251.7 94.5,239.1 96.6,248.4 98.7,245.5 100.8,243.9 102.9,262.4 105.0,247.0 107.1,261.3 109.2,236.6 111.3,247.7 113.4,258.6 115.5,245.2 117.6,256.7 119.7,247.8 121.8,251.7 123.9,261.9 126.0,248.8 128.1,264.6 130.2,245.5 132.3,254.4 134.4,264.1 136.5,271.5 138.6,245.7 140.7,247.3 142.8,268.7 144.9,246.9 147.0,257.6 149.1,261.2 151.2,260.7 153.3,263.1 155.4,251.5 157.5,261.1 159.6,279.4 161.7,248.9 163.8,258.2 165.9,274.9 168.0,269.1 170.1,274.8 172.2,267.0 174.3,265.2 176.4,267.1 178.5,275.0 180.6,277.6 182.7,264.8 184.8,281.9 186.9,256.0 189.0,281.0 191.1,268.6 193.2,275.1 195.3,283.6 197.4,267.3 199.5,277.5 201.6,287.9 203.7,283.4 205.8,273.7 207.9,294.2 210.0,272.8 212.1,279.1 214.2,288.1 216.3,275.8 218.4,273.7 220.5,283.6 222.6,288.0 224.7,284.4 226.8,279.5 228.9,301.6 231.0,295.3 233.1,296.3 235.2,299.3 237.3,311.4 239.4,289.7 241.5,297.2 243.6,298.0 245.7,288.3 247.8,306.6 249.9,302.2 252.0,300.3 254.1,308.1 256.2,305.6 258.3,299.0 260.4,306.4 262.5,296.1 264.6,316.3 266.7,307.5 268.8,325.6 270.9,312.3 273.0,319.6 275.1,301.2 277.2,307.5 279.3,310.4 281.4,299.8" fill="none" stroke="#a0b0f8" stroke-width="0.3" marker-start="url(#m19)" marker-mid="url(#m19)" marker-end="url(#m19)"/>
<polyline points="31.5,228.5 33.6,234.3 35.7,229.4 37.8,238.4 39.9,235.9 42.0,240.4 44.1,227.4 46.2,234.6 48.3,238.8 50.4,236.7 52.5,236.4 54.6,231.4 56.7,245.9 58.8,242.7 60.9,238.7 63.0,225.5 65.1,230.6 67.2,237.8 69.3,233.4 71.4,227.5 73.5,239.9 75.6,240.7 77.7,230.8 79.8,235.5 81.9,235.0 84.0,242.9 86.1,229.5 88.2,229.7 90.3,236.8 92.4,236.0 94.5,252.6 96.6,237.0 98.7,242.8 100.8,239.4 102.9,237.0 105.0,240.9 107.1,249.2 109.2,254.5 111.3,245.8 113.4,248.4 115.5,250.8 117.6,248.8 119.7,258.5 121.8,239.7 123.9,256.0 126.0,253.2 128.1,245.7 130.2,261.0 132.3,244.5 134.4,244.7 136.5,252.8 138.6,259.0 140.7,254.9 142.8,265.8 144.9,243.9 147.0,252.2 149.1,258.6 151.2,260.5 153.3,250.7 155.4,245.7 157.5,265.2 159.6,260.4 161.7,270.3 163.8,253.0 165.9,256.8 168.0,244.5 170.1,259.9 172.2,263.0 174.3,265.8 176.4,255.4 178.5,274.4 180.6,257.2 182.7,261.0 184.8,267.2 186.9,271.0 189.0,257.8 191.1,253.5 193.2,269.8 195.3,263.6 197.4,256.5 199.5,273.7 201.6,271.5 203.7,280.4 205.8,272.3 207.9,272.5 210.0,276.2 212.1,279.7 214.2,287.8 216.3,286.6 218.4,284.3 220.5,272.3 222.6,281.9 224.7,285.7 226.8,274.6 228.9,276.0 231.0,287.3 233.1,287.0 235.2,277.6 237.3,280.4 239.4,291.2 241.5,282.8 243.6,285.5 245.7,278.1 247.8,294.7 249.9,281.2 252.0,285.2 254.1,298.4 256.2,282.2 258.3,284.0 260.4,303.6 262.5,277.7 264.6,303.6 266.7,302.3 268.8,297.5 270.9,289.5 273.0,291.6 275.1,297.6 277.2,287.2 279.3,295.2 281.4,288.5" fill="none" stroke="#8a80b8" stroke-width="0.3" marker-start="url(#m20)" marker-mid="url(#m20)" marker-end="url(#m20)"/>
<polyline points="31.5,227.2 33.6,233.5 35.7,241.8 37.8,230.0 39.9,237.5 42.0,235.6 44.1,237.5 46.2,235.8 48.3,247.5 50.4,226.3 52.5,232.9 54.6,228.3 56.7,225.0 58.8,235.9 60.9,246.8 63.0,241.3 65.1,243.4 67.2,239.8 69.3,237.0 71.4,250.1 73.5,236.2 75.6,247.3 77.7,236.3 79.8,239.0 81.9,240.9 84.0,240.2 86.1,243.5 88.2,244.1 90.3,250.4 92.4,240.4 94.5,229.6 96.6,230.2 98.7,233.4 100.8,237.8 102.9,230.4 105.0,245.0 107.1,264.7 109.2,250.4 111.3,255.4 113.4,247.7 115.5,248.2 117.6,258.4 119.7,258.5 121.8,252.3 123.9,252.4 126.0,271.6 128.1,245.9 130.2,252.3 132.3,253.1 134.4,251.6 136.5,262.4 138.6,255.0 140.7,248.3 142.8,248.5 144.9,270.8 147.0,258.8 149.1,263.9 151.2,248.9 153.3,254.8 155.4,262.6 157.5,278.3 159.6,267.8 161.7,277.7 163.8,253.2 165.9,261.1 168.0,269.6 170.1,266.2 172.2,246.5 174.3,256.7 176.4,277.7 178.5,267.6 180.6,278.2 182.7,283.3 184.8,267.3 186.9,252.1 189.0,259.0 191.1,270.7 193.2,275.4 195.3,271.4 197.4,266.3 199.5,288.3 201.6,293.1 203.7,262.7 205.8,275.4 207.9,266.4 210.0,277.5 212.1,269.1 214.2,287.0 216.3,278.3 218.4,271.2 220.5,276.1 222.6,289.3 224.7,278.8 226.8,293.2 228.9,301.6 231.0,284.3 233.1,278.3 235.2,283.5 237.3,303.7 239.4,285.0 241.5,287.4 243.6,298.3 245.7,319.9 247.8,287.2 249.9,289.1 252.0,293.1 254.1,315.9 256.2,314.3 258.3,291.4 260.4,294.0 262.5,297.4 264.6,304.9 266.7,299.9 268.8,309.8 270.9,308.3 273.0,315.1 275.1,304.5 277.2,312.0 279.3,300.3 281.4,303.1" fill="none" stroke="#9a96cc" stroke-width="0.3" marker-start="url(#m21)" marker-mid="url(#m21)" marker-end="url(#m21)"/>
<polyline points="31.5,233.6 33.6,220.5 35.7,229.9 37.8,230.3 39.9,232.0 42.0,230.0 44.1,233.2 46.2,231.1 48.3,237.1 50.4,232.9 52.5,220.1 54.6,231.7 56.7,233.0 58.8,228.3 60.9,227.2 63.0,238.3 65.1,232.9 67.2,226.2 69.3,230.7 71.4,231.9 73.5,223.0 75.6,236.7 77.7,232.1 79.8,235.9 81.9,223.7 84.0,245.1 86.1,237.7 88.2,236.9 90.3,229.5 92.4,229.8 94.5,224.9 96.6,243.4 98.7,229.6 100.8,236.3 102.9,246.9 105.0,232.1 107.1,249.5 109.2,239.7 111.3,236.4 113.4,243.4 115.5,258.2 117.6,237.3 119.7,236.2 121.8,235.0 123.9,259.8 126.0,248.7 128.1,244.6 130.2,247.4 132.3,236.2 134.4,249.7 136.5,237.1 138.6,241.3 140.7,256.6 142.8,253.2 144.9,249.3 147.0,245.2 149.1,239.7 151.2,247.9 153.3,241.0 155.4,260.0 157.5,272.5 159.6,250.7 161.7,245.3 163.8,251.7 165.9,257.4 168.0,246.7 170.1,237.2 172.2,251.1 174.3,256.7 176.4,258.1 178.5,238.3 180.6,252.1 182.7,248.0 184.8,244.3 186.9,245.7 189.0,261.3 191.1,247.4 193.2,248.7 195.3,251.6 197.4,248.5 199.5,260.9 201.6,257.1 203.7,261.6 205.8,252.2 207.9,263.8 210.0,255.8 212.1,268.9 214.2,260.6 216.3,263.3 218.4,261.6 220.5,260.1 222.6,263.3 224.7,264.1 226.8,281.7 228.9,255.1 231.0,269.4 233.1,266.4 235.2,272.4 237.3,257.7 239.4,274.1 241.5,262.3 243.6,257.8 245.7,254.8 247.8,258.6 249.9,263.4 252.0,280.0 254.1,259.2 256.2,260.5 258.3,263.6 260.4,264.3 262.5,270.3 264.6,276.5 266.7,263.5 268.8,262.5 270.9,283.1 273.0,266.2 275.1,271.9 277.2,267.3 279.3,272.6 281.4,266.5" fill="none" stroke="#c8c4f0" stroke-width="0.3" marker-start="url(#m22)" marker-mid="url(#m22)" marker-end="url(#m22)"/>
<polyline points="31.5,234.5 33.6,227.1 35.7,236.0 37.8,243.2 39.9,233.2 42.0,240.2 44.1,235.1 46.2,228.9 48.3,229.2 50.4,221.3 52.5,232.7 54.6,240.9 56.7,236.5 58.8,237.5 60.9,239.3 63.0,229.2 65.1,235.9 67.2,244.1 69.3,228.1 71.4,233.4 73.5,230.5 75.6,232.1 77.7,228.8 79.8,232.6 81.9,225.3 84.0,230.6 86.1,231.0 88.2,230.9 90.3,242.2 92.4,234.4 94.5,235.0 96.6,232.4 98.7,242.1 100.8,223.9 102.9,235.8 105.0,236.6 107.1,250.7 109.2,237.1 111.3,241.4 113.4,249.7 115.5,238.1 117.6,251.9 119.7,237.3 121.8,232.8 123.9,246.3 126.0,237.4 128.1,240.3 130.2,239.2 132.3,253.5 134.4,239.7 136.5,242.7 138.6,239.1 140.7,243.8 142.8,237.2 144.9,242.5 147.0,257.0 149.1,236.1 151.2,243.9 153.3,239.0 155.4,244.2 157.5,242.6 159.6,250.5 161.7,241.7 163.8,239.1 165.9,247.9 168.0,242.5 170.1,245.1 172.2,257.3 174.3,246.3 176.4,240.3 178.5,253.2 180.6,264.4 182.7,248.5 184.8,255.5 186.9,238.0 189.0,251.2 191.1,251.4 193.2,257.1 195.3,250.6 197.4,257.5 199.5,260.8 201.6,254.0 203.7,261.0 205.8,245.4 207.9,265.0 210.0,255.9 212.1,261.7 214.2,268.3 216.3,245.0 218.4,275.7 220.5,247.3 222.6,270.6 224.7,257.7 226.8,242.8 228.9,278.5 231.0,272.1 233.1,250.7 235.2,259.3 237.3,265.9 239.4,261.6 241.5,270.6 243.6,261.3 245.7,251.6 247.8,266.5 249.9,262.4 252.0,254.9 254.1,249.5 256.2,270.2 258.3,262.8 260.4,270.8 262.5,272.0 264.6,270.1 266.7,272.8 268.8,283.9 270.9,286.9 273.0,275.1 275.1,284.7 277.2,259.5 279.3,274.4 281.4,271.2" fill="none" stroke="#c0a4d8" stroke-width="0.3" marker-start="url(#m23)" marker-mid="url(#m23)" marker-end="url(#m23)"/>
<polyline points="31.5,231.9 33.6,239.7 35.7,242.9 37.8,234.9 39.9,234.5 42.0,238.9 44.1,234.2 46.2,238.5 48.3,231.2 50.4,239.2 52.5,235.7 54.6,230.0 56.7,225.9 58.8,243.0 60.9,239.6 63.0,241.8 65.1,232.1 67.2,244.5 69.3,241.3 71.4,239.1 73.5,245.0 75.6,244.8 77.7,241.8 79.8,251.8 81.9,248.4 84.0,243.0 86.1,240.1 88.2,242.3 90.3,251.7 92.4,243.7 94.5,236.1 96.6,238.2 98.7,242.9 100.8,248.3 102.9,222.5 105.0,221.2 107.1,224.0 109.2,222.8 111.3,213.1 113.4,222.1 115.5,221.8 117.6,225.9 119.7,215.6 121.8,217.7 123.9,206.9 126.0,216.1 128.1,209.9 130.2,210.4 132.3,208.3 134.4,222.8 136.5,210.8 138.6,218.9 140.7,220.6 142.8,222.6 144.9,224.0 147.0,224.9 149.1,234.0 151.2,221.2 153.3,223.3 155.4,228.0 157.5,224.1 159.6,213.5 161.7,222.3 163.8,225.8 165.9,216.4 168.0,227.9 170.1,225.0 172.2,226.9 174.3,226.5 176.4,223.0 178.5,224.7 180.6,231.5 182.7,229.8 184.8,229.8 186.9,232.9 189.0,232.2 191.1,235.9 193.2,236.6 195.3,233.7 197.4,239.1 199.5,233.2 201.6,236.5 203.7,240.4 205.8,239.6 207.9,239.6 210.0,238.8 212.1,238.2 214.2,240.2 216.3,243.8 218.4,234.0 220.5,237.0 222.6,241.2 224.7,238.0 226.8,241.4 228.9,244.6 231.0,243.9 233.1,233.0 235.2,241.3 237.3,241.9 239.4,249.1 241.5,245.4 243.6,238.7 245.7,247.7 247.8,245.5 249.9,245.5 252.0,249.0 254.1,245.6 256.2,252.4 258.3,251.9 260.4,257.7 262.5,243.8 264.6,255.1 266.7,256.7 268.8,251.7 270.9,260.9 273.0,259.5 275.1,263.7 277.2,260.9 279.3,263.5 281.4,260.1" fill="none" stroke="#eaa8ea" stroke-width="0.3" marker-start="url(#m24)" marker-mid="url(#m24)" marker-end="url(#m24)"/>
<polyline points="31.5,228.9 33.6,236.2 35.7,240.0 37.8,238.5 39.9,225.4 42.0,233.8 44.1,228.1 46.2,238.2 48.3,229.3 50.4,239.1 52.5,237.1 54.6,226.1 56.7,232.8 58.8,240.8 60.9,238.2 63.0,235.6 65.1,230.3 67.2,241.5 69.3,249.8 71.4,241.7 73.5,240.1 75.6,239.5 77.7,231.8 79.8,238.3 81.9,235.9 84.0,248.4 86.1,236.9 88.2,231.7 90.3,237.6 92.4,240.7 94.5,241.6 96.6,232.3 98.7,249.5 100.8,245.2 102.9,248.7 105.0,252.2 107.1,251.1 109.2,250.8 111.3,261.3 113.4,247.0 115.5,248.9 117.6,252.2 119.7,261.3 121.8,251.8 123.9,263.5 126.0,254.9 128.1,256.3 130.2,261.2 132.3,263.6 134.4,263.5 136.5,248.2 138.6,262.0 140.7,262.3 142.8,256.0 144.9,259.6 147.0,256.5 149.1,271.7 151.2,271.5 153.3,245.7 155.4,265.5 157.5,268.0 159.6,265.8 161.7,261.8 163.8,276.9 165.9,277.6 168.0,269.9 170.1,266.7 172.2,270.3 174.3,276.0 176.4,279.2 178.5,291.7 180.6,268.6 182.7,286.1 184.8,278.9 186.9,266.8 189.0,280.8 191.1,275.0 193.2,281.3 195.3,276.5 197.4,281.6 199.5,286.7 201.6,275.6 203.7,297.9 205.8,296.3 207.9,289.4 210.0,284.6 212.1,297.7 214.2,285.1 216.3,286.2 218.4,278.7 220.5,298.2 222.6,289.9 224.7,308.6 226.8,299.5 228.9,296.5 231.0,295.5 233.1,299.5 235.2,300.8 237.3,306.1 239.4,305.7 241.5,301.0 243.6,300.3 245.7,300.8 247.8,299.4 249.9,299.0 252.0,323.1 254.1,313.2 256.2,311.2 258.3,316.3 260.4,304.7 262.5,307.7 264.6,314.6 266.7,313.9 268.8,307.1 270.9,319.6 273.0,320.3 275.1,312.3 277.2,316.3 279.3,310.7 281.4,318.9" fill="none" stroke="#ecd8f0" stroke-width="0.3" marker-start="url(#m25)" marker-mid="url(#m25)" marker-end="url(#m25)"/>
<polyline points="31.5,229.1 33.6,227.3 35.7,234.8 37.8,231.0 39.9,235.5 42.0,233.7 44.1,235.5 46.2,241.5 48.3,234.7 50.4,229.3 52.5,241.3 54.6,237.9 56.7,233.0 58.8,243.8 60.9,236.1 63.0,243.5 65.1,230.3 67.2,227.3 69.3,228.2 71.4,241.1 73.5,235.4 75.6,239.1 77.7,239.2 79.8,230.4 81.9,248.7 84.0,235.1 86.1,242.6 88.2,233.7 90.3,241.2 92.4,246.3 94.5,240.7 96.6,238.6 98.7,243.8 100.8,241.6 102.9,244.9 105.0,254.1 107.1,258.0 109.2,251.8 111.3,269.4 113.4,250.8 115.5,248.2 117.6,254.5 119.7,257.5 121.8,249.7 123.9,257.8 126.0,251.9 128.1,244.6 130.2,255.1 132.3,254.4 134.4,258.2 136.5,260.7 138.6,261.3 140.7,263.6 142.8,257.0 144.9,279.6 147.0,268.1 149.1,261.7 151.2,274.7 153.3,268.9 155.4,275.1 157.5,266.5 159.6,264.3 161.7,260.9 163.8,268.6 165.9,279.6 168.0,272.1 170.1,270.6 172.2,265.3 174.3,294.2 176.4,274.5 178.5,295.9 180.6,273.7 182.7,276.5 184.8,276.9 186.9,274.9 189.0,279.7 191.1,289.9 193.2,282.2 195.3,276.9 197.4,288.2 199.5,288.1 201.6,301.3 203.7,281.6 205.8,296.6 207.9,300.2 210.0,298.4 212.1,303.7 214.2,298.7 216.3,287.3 218.4,292.2 220.5,288.3 222.6,288.9 224.7,311.0 226.8,299.2 228.9,292.1 231.0,286.7 233.1,311.6 235.2,316.3 237.3,304.7 239.4,313.1 241.5,321.1 243.6,308.6 245.7,321.1 247.8,328.7 249.9,315.2 252.0,315.0 254.1,311.8 256.2,310.3 258.3,317.8 260.4,322.9 262.5,328.7 264.6,333.5 266.7,328.4 268.8,316.1 270.9,320.2 273.0,309.0 275.1,329.6 277.2,330.6 279.3,322.9 281.4,322.1" fill="none" stroke="#e0e0f6" stroke-width="0.3" marker-start="url(#m26)" marker-mid="url(#m26)" marker-end="url(#m26)"/>
<polyline points="31.5,235.0 33.6,244.6 35.7,226.3 37.8,227.9 39.9,231.9 42.0,232.7 44.1,226.8 46.2,236.0 48.3,237.4 50.4,234.4 52.5,226.2 54.6,242.4 56.7,227.0 58.8,238.4 60.9,241.1 63.0,226.6 65.1,235.2 67.2,242.8 69.3,237.6 71.4,230.0 73.5,228.4 75.6,238.4 77.7,233.3 79.8,231.5 81.9,240.2 84.0,234.5 86.1,237.3 88.2,240.4 90.3,240.1 92.4,236.6 94.5,237.0 96.6,240.9 98.7,240.5 100.8,231.3 102.9,248.9 105.0,251.6 107.1,242.7 109.2,240.6 111.3,255.3 113.4,246.1 115.5,248.9 117.6,251.5 119.7,252.7 121.8,244.8 123.9,247.9 126.0,250.0 128.1,267.3 130.2,238.3 132.3,252.7 134.4,248.0 136.5,264.8 138.6,245.9 140.7,257.7 142.8,247.9 144.9,249.9 147.0,244.4 149.1,256.3 151.2,253.9 153.3,251.7 155.4,250.8 157.5,260.6 159.6,250.0 161.7,256.2 163.8,250.8 165.9,249.4 168.0,252.5 170.1,252.3 172.2,252.7 174.3,258.4 176.4,256.4 178.5,266.5 180.6,258.2 182.7,261.5 184.8,258.4 186.9,253.2 189.0,255.7 191.1,255.8 193.2,253.0 195.3,276.0 197.4,257.8 199.5,260.8 201.6,262.0 203.7,271.0 205.8,259.4 207.9,256.7 210.0,257.9 212.1,264.8 214.2,261.2 216.3,260.2 218.4,255.7 220.5,259.6 222.6,266.4 224.7,267.2 226.8,267.4 228.9,267.6 231.0,273.1 233.1,265.6 235.2,275.7 237.3,277.1 239.4,269.6 241.5,276.6 243.6,274.7 245.7,289.1 247.8,269.2 249.9,274.5 252.0,276.0 254.1,272.8 256.2,274.9 258.3,282.1 260.4,265.1 262.5,281.4 264.6,272.4 266.7,267.7 268.8,284.4 270.9,279.5 273.0,287.1 275.1,274.7 277.2,284.4 279.3,291.1 281.4,290.3" fill="none" stroke="#eef2f4" stroke-width="0.3" marker-start="url(#m27)" marker-mid="url(#m27)" marker-end="url(#m27)"/>
<polyline points="31.5,230.4 33.6,226.1 35.7,224.2 37.8,228.4 39.9,221.6 42.0,237.6 44.1,227.7 46.2,234.7 48.3,221.9 50.4,222.2 52.5,244.8 54.6,239.3 56.7,229.6 58.8,228.9 60.9,229.2 63.0,234.2 65.1,231.0 67.2,230.1 69.3,235.0 71.4,228.3 73.5,248.4 75.6,230.9 77.7,241.0 79.8,228.9 81.9,236.6 84.0,240.9 86.1,233.5 88.2,241.3 90.3,241.3 92.4,245.2 94.5,236.0 96.6,233.0 98.7,230.1 100.8,237.6 102.9,238.7 105.0,247.5 107.1,238.0 109.2,242.4 111.3,231.8 113.4,236.3 115.5,247.2 117.6,245.8 119.7,249.6 121.8,244.2 123.9,244.9 126.0,241.9 128.1,245.2 130.2,254.8 132.3,251.1 134.4,239.5 136.5,241.0 138.6,247.9 140.7,248.0 142.8,248.5 144.9,247.6 147.0,258.7 149.1,243.7 151.2,252.8 153.3,248.2 155.4,265.7 157.5,248.5 159.6,243.3 161.7,265.1 163.8,243.0 165.9,248.8 168.0,256.5 170.1,262.5 172.2,246.3 174.3,251.4 176.4,250.0 178.5,255.3 180.6,259.3 182.7,249.7 184.8,261.1 186.9,250.2 189.0,267.0 191.1,262.4 193.2,266.6 195.3,250.0 197.4,269.8 199.5,266.1 201.6,255.0 203.7,257.9 205.8,247.5 207.9,250.0 210.0,257.3 212.1,257.3 214.2,274.8 216.3,268.6 218.4,265.1 220.5,264.6 222.6,273.8 224.7,271.1 226.8,271.0 228.9,259.2 231.0,263.3 233.1,268.8 235.2,268.8 237.3,265.6 239.4,273.0 241.5,270.2 243.6,281.8 245.7,265.2 247.8,264.0 249.9,268.0 252.0,275.1 254.1,269.0 256.2,259.3 258.3,270.9 260.4,282.9 262.5,281.3 264.6,269.2 266.7,267.5 268.8,269.8 270.9,269.9 273.0,274.4 275.1,287.9 277.2,282.2 279.3,291.6 281.4,280.6" fill="none" stroke="#c0c0c0" stroke-width="0.3" marker-start="url(#m28)" marker-mid="url(#m28)" marker-end="url(#m28)"/>
<polyline points="31.5,233.1 33.6,231.8 35.7,233.3 37.8,232.7 39.9,233.2 42.0,234.3 44.1,234.0 46.2,234.4 48.3,234.5 50.4,233.0 52.5,234.3 54.6,235.6 56.7,236.5 58.8,235.9 60.9,235.5 63.0,235.2 65.1,234.9 67.2,236.3 69.3,238.2 71.4,236.1 73.5,237.0 75.6,237.2 77.7,236.7 79.8,239.3 81.9,238.9 84.0,239.6 86.1,238.7 88.2,240.7 90.3,239.9 92.4,238.3 94.5,239.2 96.6,240.6 98.7,239.3 100.8,242.4 102.9,243.1 105.0,244.2 107.1,243.7 109.2,245.0 111.3,246.1 113.4,245.2 115.5,247.4 117.6,245.6 119.7,247.0 121.8,245.9 123.9,247.8 126.0,248.5 128.1,247.6 130.2,247.0 132.3,251.2 134.4,249.0 136.5,248.8 138.6,251.6 140.7,251.3 142.8,249.9 144.9,252.0 147.0,252.1 149.1,249.7 151.2,253.4 153.3,253.9 155.4,256.1 157.5,255.2 159.6,255.9 161.7,253.0 163.8,254.1 165.9,257.6 168.0,254.3 170.1,256.3 172.2,258.0 174.3,257.3 176.4,258.4 178.5,260.3 180.6,262.0 182.7,261.5 184.8,261.0 186.9,262.0 189.0,263.2 191.1,261.9 193.2,265.0 195.3,263.4 197.4,265.8 199.5,265.8 201.6,268.0 203.7,267.4 205.8,269.1 207.9,271.0 210.0,269.7 212.1,270.4 214.2,270.1 216.3,271.5 218.4,273.8 220.5,274.0 222.6,277.0 224.7,276.1 226.8,274.0 228.9,274.5 231.0,276.0 233.1,277.3 235.2,277.6 237.3,278.4 239.4,281.8 241.5,281.4 243.6,279.7 245.7,280.4 247.8,282.2 249.9,283.6 252.0,284.3 254.1,285.2 256.2,286.4 258.3,288.3 260.4,286.5 262.5,287.9 264.6,288.3 266.7,286.7 268.8,288.8 270.9,291.0 273.0,290.2 275.1,293.3 277.2,291.0 279.3,292.6 281.4,293.9" fill="none" stroke="#000" stroke-width="0.6" marker-start="url(#me)" marker-mid="url(#me)" marker-end="url(#me)"/>
</g>
<path d="M31.5 344.2V194.7M283.5 194.7V344.2H31.5" fill="none" stroke="#3a3a3a" stroke-width="0.9"/>
<path d="M31.5 194.89999999999998H283.5" fill="none" stroke="#a8a8a8" stroke-width="1.2"/>
<text transform="translate(25.90,211.19) scale(0.9,1)" font-size="9" text-anchor="end" fill="#1a1a1a">0.5</text>
<text transform="translate(25.90,238.37) scale(0.9,1)" font-size="9" text-anchor="end" fill="#1a1a1a">0.0</text>
<text transform="translate(25.90,265.55) scale(0.9,1)" font-size="9" text-anchor="end" fill="#1a1a1a">0.5</text>
<rect x="10.90" y="261.70" width="4.6" height="0.65" fill="#1a1a1a"/>
<text transform="translate(25.90,292.74) scale(0.9,1)" font-size="9" text-anchor="end" fill="#1a1a1a">1.0</text>
<rect x="10.90" y="288.89" width="4.6" height="0.65" fill="#1a1a1a"/>
<text transform="translate(25.90,319.92) scale(0.9,1)" font-size="9" text-anchor="end" fill="#1a1a1a">1.5</text>
<rect x="10.90" y="316.07" width="4.6" height="0.65" fill="#1a1a1a"/>
<text transform="translate(25.90,347.10) scale(0.9,1)" font-size="9" text-anchor="end" fill="#1a1a1a">2.0</text>
<rect x="10.90" y="343.25" width="4.6" height="0.65" fill="#1a1a1a"/>
<text transform="translate(46.20,356.20) scale(0.9,1)" font-size="9" text-anchor="middle" fill="#1a1a1a">1988</text>
<text transform="translate(75.60,356.20) scale(0.9,1)" font-size="9" text-anchor="middle" fill="#1a1a1a">2002</text>
<text transform="translate(105.00,356.20) scale(0.9,1)" font-size="9" text-anchor="middle" fill="#1a1a1a">2016</text>
<text transform="translate(134.40,356.20) scale(0.9,1)" font-size="9" text-anchor="middle" fill="#1a1a1a">2030</text>
<text transform="translate(163.80,356.20) scale(0.9,1)" font-size="9" text-anchor="middle" fill="#1a1a1a">2044</text>
<text transform="translate(193.20,356.20) scale(0.9,1)" font-size="9" text-anchor="middle" fill="#1a1a1a">2058</text>
<text transform="translate(222.60,356.20) scale(0.9,1)" font-size="9" text-anchor="middle" fill="#1a1a1a">2072</text>
<text transform="translate(252.00,356.20) scale(0.9,1)" font-size="9" text-anchor="middle" fill="#1a1a1a">2086</text>
<text transform="translate(281.40,356.20) scale(0.9,1)" font-size="9" text-anchor="middle" fill="#1a1a1a">2100</text>
<path d="M29.7 194.70H31.5M28.5 208.29H31.5M29.7 221.88H31.5M28.5 235.47H31.5M29.7 249.06H31.5M28.5 262.65H31.5M29.7 276.25H31.5M28.5 289.84H31.5M29.7 303.43H31.5M28.5 317.02H31.5M29.7 330.61H31.5M28.5 344.20H31.5M31.50 344.2V346.0M46.20 344.2V347.2M60.90 344.2V346.0M75.60 344.2V347.2M90.30 344.2V346.0M105.00 344.2V347.2M119.70 344.2V346.0M134.40 344.2V347.2M149.10 344.2V346.0M163.80 344.2V347.2M178.50 344.2V346.0M193.20 344.2V347.2M207.90 344.2V346.0M222.60 344.2V347.2M237.30 344.2V346.0M252.00 344.2V347.2M266.70 344.2V346.0M281.40 344.2V347.2" stroke="#3a3a3a" stroke-width="0.9" fill="none"/>
<text transform="translate(157.50,370.10) scale(0.9,1)" font-size="9.8" text-anchor="middle" fill="#1a1a1a">Year</text>
<text transform="translate(6.899999999999999,270.1) rotate(-90) scale(1,0.9)" font-size="8.2" text-anchor="middle" fill="#1a1a1a">NH mean SWEI</text>
<text transform="translate(39.00,211.10) scale(0.9,1)" font-size="17.5" text-anchor="start" font-weight="bold" fill="#000">c</text>
<text transform="translate(43.90,323.80) scale(0.9,1)" font-size="8.8" text-anchor="start" fill="#1a1a1a">CMIP6 models under SSP370</text>
<g clip-path="url(#clipd)">
<polyline points="334.2,227.8 336.3,226.2 338.4,229.3 340.5,232.9 342.6,231.3 344.7,234.5 346.8,229.3 348.9,222.5 351.0,232.0 353.1,232.8 355.2,227.6 357.3,228.9 359.4,230.7 361.5,236.1 363.6,231.5 365.7,227.6 367.8,238.3 369.9,234.3 372.0,242.2 374.1,239.5 376.2,242.5 378.4,234.3 380.5,239.5 382.6,231.8 384.7,232.9 386.8,235.3 388.9,247.5 391.0,237.6 393.1,235.0 395.2,234.1 397.3,242.6 399.4,237.7 401.5,240.8 403.6,240.4 405.7,257.2 407.8,237.9 409.9,239.9 412.0,251.0 414.1,236.3 416.2,236.6 418.3,259.7 420.4,240.5 422.5,238.1 424.6,244.0 426.7,244.4 428.8,242.1 430.9,237.9 433.0,243.0 435.1,245.6 437.2,242.2 439.3,252.0 441.4,256.6 443.5,249.8 445.6,252.8 447.7,250.4 449.8,252.4 451.9,247.7 454.0,248.4 456.1,250.6 458.2,250.5 460.4,261.3 462.5,242.6 464.6,245.2 466.7,257.0 468.8,250.8 470.9,256.3 473.0,255.1 475.1,256.8 477.2,260.2 479.3,266.3 481.4,275.2 483.5,255.9 485.6,250.6 487.7,265.1 489.8,255.7 491.9,262.7 494.0,259.0 496.1,268.0 498.2,264.5 500.3,264.6 502.4,283.5 504.5,264.3 506.6,267.7 508.7,287.5 510.8,264.4 512.9,269.8 515.0,269.2 517.1,269.2 519.2,275.9 521.3,282.4 523.4,278.2 525.5,279.0 527.6,261.7 529.7,265.1 531.8,282.5 533.9,283.0 536.0,288.9 538.1,296.2 540.2,288.6 542.3,292.3 544.5,271.2 546.6,278.3 548.7,300.5 550.8,303.5 552.9,296.2 555.0,288.2 557.1,286.9 559.2,295.0 561.3,307.7 563.4,292.3 565.5,290.5 567.6,296.0 569.7,301.7 571.8,293.8 573.9,316.8 576.0,310.8 578.1,300.4 580.2,314.7 582.3,295.9 584.4,300.7" fill="none" stroke="#a88a7a" stroke-width="0.3" marker-start="url(#m0)" marker-mid="url(#m0)" marker-end="url(#m0)"/>
<polyline points="334.2,223.2 336.3,232.8 338.4,229.1 340.5,224.7 342.6,233.0 344.7,231.1 346.8,230.1 348.9,230.3 351.0,236.8 353.1,230.3 355.2,224.0 357.3,239.7 359.4,227.8 361.5,231.9 363.6,235.7 365.7,223.2 367.8,228.5 369.9,239.1 372.0,233.3 374.1,231.1 376.2,235.3 378.4,230.7 380.5,234.5 382.6,230.9 384.7,227.3 386.8,238.9 388.9,234.9 391.0,238.4 393.1,235.3 395.2,241.9 397.3,239.0 399.4,237.5 401.5,232.4 403.6,231.5 405.7,244.3 407.8,249.2 409.9,233.5 412.0,253.1 414.1,241.3 416.2,232.9 418.3,251.3 420.4,243.0 422.5,251.7 424.6,243.4 426.7,259.3 428.8,254.8 430.9,248.1 433.0,244.2 435.1,251.6 437.2,254.1 439.3,240.1 441.4,243.2 443.5,258.8 445.6,255.4 447.7,250.1 449.8,231.3 451.9,237.0 454.0,245.8 456.1,246.9 458.2,246.0 460.4,255.4 462.5,241.5 464.6,256.3 466.7,254.7 468.8,254.2 470.9,270.9 473.0,253.6 475.1,269.5 477.2,261.9 479.3,258.2 481.4,260.8 483.5,257.6 485.6,265.2 487.7,260.6 489.8,269.6 491.9,264.5 494.0,273.4 496.1,259.3 498.2,274.8 500.3,261.1 502.4,269.9 504.5,270.0 506.6,261.0 508.7,282.3 510.8,286.2 512.9,268.3 515.0,296.8 517.1,271.8 519.2,278.0 521.3,287.6 523.4,276.1 525.5,280.4 527.6,265.1 529.7,283.6 531.8,278.3 533.9,272.3 536.0,288.3 538.1,291.3 540.2,275.8 542.3,305.1 544.5,286.1 546.6,290.6 548.7,300.4 550.8,293.9 552.9,300.4 555.0,306.8 557.1,296.5 559.2,281.7 561.3,283.9 563.4,297.6 565.5,297.0 567.6,307.1 569.7,289.9 571.8,298.8 573.9,323.4 576.0,307.3 578.1,295.8 580.2,285.5 582.3,312.9 584.4,328.1" fill="none" stroke="#9c8076" stroke-width="0.3" marker-start="url(#m1)" marker-mid="url(#m1)" marker-end="url(#m1)"/>
<polyline points="334.2,232.6 336.3,229.9 338.4,222.6 340.5,236.4 342.6,229.1 344.7,227.5 346.8,220.5 348.9,223.4 351.0,228.7 353.1,229.0 355.2,228.7 357.3,219.8 359.4,230.3 361.5,229.8 363.6,226.3 365.7,228.8 367.8,229.3 369.9,234.2 372.0,229.0 374.1,231.5 376.2,223.2 378.4,225.9 380.5,229.4 382.6,225.9 384.7,231.4 386.8,224.5 388.9,230.4 391.0,227.3 393.1,236.9 395.2,228.5 397.3,239.0 399.4,241.0 401.5,232.6 403.6,235.9 405.7,232.2 407.8,236.5 409.9,235.6 412.0,231.0 414.1,236.5 416.2,245.0 418.3,249.1 420.4,238.0 422.5,245.0 424.6,236.8 426.7,246.5 428.8,254.0 430.9,248.4 433.0,241.7 435.1,242.5 437.2,236.8 439.3,247.0 441.4,241.8 443.5,246.8 445.6,230.9 447.7,239.7 449.8,238.8 451.9,239.2 454.0,234.9 456.1,242.7 458.2,239.9 460.4,239.8 462.5,250.4 464.6,249.0 466.7,245.9 468.8,245.0 470.9,252.4 473.0,244.5 475.1,246.5 477.2,250.1 479.3,259.1 481.4,243.1 483.5,244.8 485.6,255.0 487.7,246.1 489.8,247.0 491.9,249.6 494.0,264.3 496.1,260.3 498.2,256.6 500.3,243.2 502.4,259.9 504.5,256.7 506.6,263.3 508.7,259.2 510.8,254.0 512.9,272.9 515.0,279.6 517.1,254.1 519.2,258.6 521.3,264.3 523.4,254.1 525.5,254.8 527.6,278.4 529.7,263.6 531.8,255.8 533.9,269.1 536.0,278.7 538.1,258.9 540.2,268.0 542.3,276.5 544.5,273.0 546.6,286.6 548.7,265.0 550.8,284.1 552.9,274.5 555.0,285.0 557.1,271.2 559.2,285.1 561.3,275.8 563.4,266.7 565.5,266.7 567.6,266.1 569.7,276.7 571.8,275.8 573.9,275.7 576.0,273.6 578.1,282.4 580.2,271.6 582.3,277.8 584.4,272.6" fill="none" stroke="#a78286" stroke-width="0.3" marker-start="url(#m2)" marker-mid="url(#m2)" marker-end="url(#m2)"/>
<polyline points="334.2,227.2 336.3,218.8 338.4,232.3 340.5,231.8 342.6,228.2 344.7,227.2 346.8,230.9 348.9,231.0 351.0,226.2 353.1,227.3 355.2,235.8 357.3,231.7 359.4,231.6 361.5,237.3 363.6,230.5 365.7,236.2 367.8,226.9 369.9,231.5 372.0,232.8 374.1,236.7 376.2,234.5 378.4,243.9 380.5,239.5 382.6,232.1 384.7,245.3 386.8,230.7 388.9,244.4 391.0,231.7 393.1,239.9 395.2,231.4 397.3,235.0 399.4,244.0 401.5,230.3 403.6,229.7 405.7,236.6 407.8,236.0 409.9,245.6 412.0,244.0 414.1,251.0 416.2,244.3 418.3,243.9 420.4,238.2 422.5,253.4 424.6,224.7 426.7,245.8 428.8,237.6 430.9,239.4 433.0,265.9 435.1,264.4 437.2,238.1 439.3,258.9 441.4,243.9 443.5,257.5 445.6,254.3 447.7,249.4 449.8,267.6 451.9,268.6 454.0,269.0 456.1,260.0 458.2,249.2 460.4,230.6 462.5,252.9 464.6,252.1 466.7,257.0 468.8,263.6 470.9,255.9 473.0,247.8 475.1,257.7 477.2,253.4 479.3,262.3 481.4,243.0 483.5,276.5 485.6,257.9 487.7,265.6 489.8,261.4 491.9,274.8 494.0,276.2 496.1,268.9 498.2,274.1 500.3,280.4 502.4,280.1 504.5,266.9 506.6,264.5 508.7,278.8 510.8,281.2 512.9,282.7 515.0,257.7 517.1,274.0 519.2,279.6 521.3,272.1 523.4,263.1 525.5,273.0 527.6,297.7 529.7,285.3 531.8,289.7 533.9,290.2 536.0,300.4 538.1,311.1 540.2,301.5 542.3,288.6 544.5,292.1 546.6,308.7 548.7,313.1 550.8,312.0 552.9,306.7 555.0,294.2 557.1,300.4 559.2,322.3 561.3,307.4 563.4,311.3 565.5,308.0 567.6,319.1 569.7,311.5 571.8,315.3 573.9,284.9 576.0,312.9 578.1,313.5 580.2,313.1 582.3,315.1 584.4,313.1" fill="none" stroke="#e6b0b8" stroke-width="0.3" marker-start="url(#m3)" marker-mid="url(#m3)" marker-end="url(#m3)"/>
<polyline points="334.2,229.3 336.3,230.3 338.4,229.9 340.5,234.6 342.6,224.5 344.7,233.6 346.8,231.3 348.9,235.0 351.0,234.1 353.1,237.6 355.2,225.0 357.3,233.1 359.4,227.8 361.5,233.0 363.6,236.5 365.7,234.6 367.8,236.0 369.9,233.6 372.0,236.3 374.1,236.4 376.2,242.0 378.4,239.1 380.5,226.2 382.6,238.5 384.7,241.0 386.8,234.5 388.9,229.4 391.0,244.3 393.1,237.9 395.2,239.9 397.3,245.8 399.4,233.6 401.5,238.2 403.6,238.2 405.7,255.7 407.8,240.7 409.9,235.0 412.0,236.7 414.1,240.4 416.2,234.7 418.3,242.1 420.4,252.2 422.5,259.2 424.6,251.2 426.7,246.6 428.8,243.9 430.9,240.0 433.0,252.8 435.1,255.5 437.2,243.7 439.3,241.4 441.4,254.8 443.5,248.8 445.6,242.0 447.7,250.2 449.8,253.7 451.9,264.8 454.0,244.8 456.1,250.4 458.2,268.4 460.4,260.8 462.5,268.8 464.6,258.7 466.7,259.4 468.8,250.8 470.9,271.2 473.0,249.5 475.1,260.6 477.2,262.1 479.3,271.6 481.4,260.2 483.5,254.2 485.6,263.2 487.7,279.2 489.8,268.7 491.9,262.4 494.0,280.8 496.1,283.3 498.2,268.1 500.3,280.8 502.4,266.9 504.5,285.5 506.6,289.3 508.7,283.8 510.8,264.8 512.9,287.1 515.0,279.3 517.1,278.3 519.2,291.6 521.3,273.5 523.4,293.4 525.5,281.1 527.6,304.2 529.7,306.2 531.8,305.7 533.9,303.5 536.0,293.4 538.1,285.7 540.2,280.3 542.3,297.3 544.5,298.7 546.6,292.8 548.7,284.5 550.8,308.7 552.9,294.8 555.0,304.6 557.1,306.8 559.2,296.7 561.3,314.6 563.4,319.2 565.5,301.6 567.6,309.3 569.7,313.4 571.8,313.1 573.9,307.9 576.0,318.4 578.1,307.7 580.2,312.3 582.3,303.2 584.4,306.5" fill="none" stroke="#e09ca3" stroke-width="0.3" marker-start="url(#m4)" marker-mid="url(#m4)" marker-end="url(#m4)"/>
<polyline points="334.2,231.4 336.3,225.1 338.4,230.4 340.5,228.9 342.6,234.5 344.7,235.5 346.8,222.5 348.9,232.1 351.0,227.9 353.1,229.8 355.2,232.4 357.3,233.4 359.4,228.0 361.5,233.0 363.6,232.2 365.7,231.2 367.8,225.3 369.9,228.5 372.0,230.7 374.1,236.1 376.2,240.4 378.4,228.3 380.5,228.2 382.6,234.2 384.7,231.2 386.8,230.5 388.9,230.8 391.0,230.4 393.1,237.5 395.2,227.1 397.3,241.6 399.4,231.2 401.5,233.8 403.6,232.3 405.7,234.5 407.8,240.4 409.9,239.1 412.0,244.0 414.1,239.6 416.2,242.7 418.3,238.9 420.4,235.3 422.5,251.9 424.6,248.9 426.7,246.5 428.8,251.2 430.9,253.7 433.0,249.0 435.1,238.7 437.2,250.1 439.3,246.7 441.4,247.4 443.5,260.6 445.6,244.9 447.7,247.1 449.8,258.3 451.9,249.6 454.0,252.9 456.1,256.0 458.2,260.2 460.4,258.4 462.5,261.1 464.6,251.7 466.7,252.9 468.8,253.8 470.9,257.8 473.0,260.2 475.1,245.2 477.2,272.8 479.3,251.5 481.4,257.3 483.5,259.7 485.6,264.8 487.7,263.1 489.8,271.4 491.9,274.2 494.0,265.1 496.1,278.7 498.2,261.0 500.3,260.4 502.4,288.7 504.5,282.5 506.6,275.7 508.7,270.5 510.8,272.3 512.9,271.3 515.0,270.2 517.1,270.5 519.2,265.4 521.3,284.8 523.4,273.8 525.5,294.8 527.6,283.0 529.7,293.7 531.8,274.4 533.9,269.0 536.0,282.6 538.1,299.2 540.2,289.7 542.3,289.6 544.5,289.6 546.6,284.4 548.7,286.5 550.8,319.1 552.9,285.7 555.0,301.5 557.1,303.3 559.2,288.7 561.3,302.9 563.4,314.6 565.5,315.4 567.6,303.4 569.7,298.2 571.8,294.8 573.9,309.1 576.0,313.2 578.1,297.2 580.2,315.4 582.3,300.7 584.4,311.4" fill="none" stroke="#f4c27a" stroke-width="0.3" marker-start="url(#m5)" marker-mid="url(#m5)" marker-end="url(#m5)"/>
<polyline points="334.2,216.6 336.3,217.8 338.4,231.6 340.5,234.9 342.6,222.7 344.7,232.7 346.8,227.8 348.9,223.2 351.0,235.9 353.1,238.5 355.2,226.9 357.3,228.7 359.4,230.7 361.5,229.5 363.6,233.9 365.7,237.2 367.8,230.6 369.9,235.2 372.0,239.2 374.1,228.8 376.2,231.9 378.4,229.4 380.5,236.5 382.6,235.0 384.7,237.3 386.8,237.3 388.9,232.3 391.0,237.4 393.1,231.5 395.2,231.5 397.3,224.3 399.4,241.0 401.5,229.9 403.6,235.5 405.7,237.2 407.8,240.3 409.9,237.9 412.0,242.8 414.1,251.4 416.2,241.8 418.3,245.6 420.4,240.3 422.5,241.9 424.6,244.7 426.7,244.8 428.8,245.5 430.9,235.0 433.0,245.0 435.1,249.7 437.2,248.1 439.3,242.7 441.4,248.6 443.5,248.9 445.6,250.3 447.7,248.1 449.8,247.4 451.9,247.7 454.0,263.2 456.1,259.6 458.2,272.0 460.4,248.0 462.5,246.8 464.6,246.2 466.7,253.8 468.8,248.3 470.9,256.2 473.0,257.5 475.1,269.1 477.2,263.9 479.3,263.0 481.4,253.3 483.5,249.4 485.6,263.9 487.7,258.5 489.8,259.7 491.9,268.8 494.0,283.1 496.1,270.9 498.2,277.6 500.3,269.6 502.4,269.3 504.5,270.7 506.6,271.7 508.7,284.6 510.8,280.3 512.9,267.8 515.0,288.9 517.1,275.4 519.2,274.3 521.3,284.9 523.4,292.9 525.5,275.9 527.6,287.3 529.7,277.1 531.8,287.7 533.9,284.8 536.0,286.0 538.1,280.1 540.2,285.6 542.3,297.9 544.5,289.4 546.6,287.8 548.7,291.4 550.8,292.7 552.9,296.7 555.0,297.6 557.1,306.4 559.2,312.3 561.3,291.6 563.4,322.4 565.5,300.6 567.6,317.9 569.7,303.4 571.8,313.8 573.9,302.7 576.0,318.1 578.1,318.8 580.2,303.2 582.3,302.8 584.4,333.8" fill="none" stroke="#fadcb0" stroke-width="0.3" marker-start="url(#m6)" marker-mid="url(#m6)" marker-end="url(#m6)"/>
<polyline points="334.2,225.4 336.3,232.6 338.4,227.8 340.5,222.1 342.6,227.1 344.7,226.8 346.8,228.9 348.9,221.2 351.0,227.4 353.1,238.6 355.2,231.5 357.3,238.6 359.4,245.6 361.5,232.1 363.6,222.3 365.7,229.0 367.8,235.4 369.9,234.8 372.0,224.7 374.1,230.4 376.2,231.1 378.4,231.6 380.5,231.0 382.6,227.2 384.7,229.1 386.8,231.5 388.9,238.4 391.0,230.6 393.1,236.6 395.2,227.3 397.3,239.7 399.4,234.5 401.5,234.5 403.6,241.6 405.7,237.8 407.8,242.7 409.9,247.7 412.0,237.3 414.1,244.5 416.2,248.1 418.3,244.6 420.4,245.9 422.5,252.6 424.6,232.2 426.7,247.6 428.8,250.2 430.9,241.0 433.0,246.7 435.1,239.3 437.2,249.2 439.3,245.8 441.4,248.0 443.5,248.3 445.6,251.5 447.7,251.3 449.8,241.5 451.9,256.9 454.0,256.6 456.1,255.7 458.2,250.4 460.4,252.0 462.5,249.5 464.6,265.9 466.7,254.8 468.8,271.1 470.9,259.9 473.0,257.3 475.1,274.1 477.2,257.9 479.3,259.3 481.4,272.0 483.5,262.3 485.6,265.0 487.7,265.9 489.8,273.0 491.9,266.4 494.0,272.2 496.1,274.3 498.2,271.3 500.3,260.9 502.4,265.1 504.5,277.3 506.6,266.2 508.7,274.9 510.8,280.7 512.9,273.2 515.0,284.9 517.1,291.6 519.2,270.9 521.3,296.2 523.4,278.1 525.5,296.1 527.6,284.4 529.7,287.0 531.8,290.2 533.9,306.8 536.0,289.8 538.1,301.7 540.2,316.1 542.3,293.1 544.5,286.6 546.6,301.4 548.7,294.2 550.8,307.8 552.9,295.7 555.0,295.1 557.1,282.9 559.2,295.5 561.3,300.2 563.4,294.2 565.5,315.2 567.6,299.0 569.7,313.4 571.8,315.4 573.9,302.3 576.0,310.0 578.1,302.9 580.2,328.5 582.3,331.1 584.4,321.9" fill="none" stroke="#f0d98a" stroke-width="0.3" marker-start="url(#m7)" marker-mid="url(#m7)" marker-end="url(#m7)"/>
<polyline points="334.2,217.7 336.3,219.0 338.4,229.3 340.5,223.4 342.6,226.2 344.7,241.9 346.8,227.6 348.9,229.1 351.0,228.3 353.1,234.4 355.2,230.9 357.3,231.1 359.4,224.5 361.5,229.2 363.6,230.9 365.7,222.7 367.8,233.8 369.9,233.6 372.0,241.5 374.1,224.5 376.2,227.9 378.4,228.1 380.5,229.3 382.6,232.5 384.7,232.5 386.8,235.6 388.9,235.8 391.0,234.7 393.1,226.8 395.2,231.8 397.3,235.2 399.4,238.4 401.5,239.4 403.6,228.2 405.7,240.8 407.8,251.3 409.9,235.8 412.0,239.8 414.1,247.6 416.2,250.5 418.3,248.1 420.4,236.0 422.5,244.3 424.6,246.5 426.7,242.2 428.8,245.3 430.9,244.7 433.0,242.5 435.1,245.2 437.2,249.4 439.3,256.7 441.4,248.6 443.5,252.3 445.6,249.7 447.7,251.3 449.8,256.3 451.9,254.9 454.0,247.5 456.1,257.8 458.2,263.6 460.4,251.5 462.5,250.0 464.6,258.4 466.7,256.2 468.8,264.0 470.9,259.9 473.0,260.4 475.1,254.9 477.2,259.4 479.3,263.1 481.4,274.2 483.5,260.4 485.6,260.2 487.7,257.2 489.8,252.0 491.9,263.2 494.0,260.8 496.1,276.7 498.2,261.6 500.3,264.8 502.4,262.9 504.5,268.3 506.6,270.9 508.7,265.5 510.8,281.6 512.9,273.2 515.0,271.5 517.1,286.2 519.2,290.5 521.3,290.7 523.4,282.4 525.5,280.4 527.6,281.3 529.7,293.4 531.8,285.7 533.9,281.6 536.0,293.6 538.1,294.2 540.2,302.9 542.3,288.6 544.5,281.9 546.6,309.0 548.7,292.7 550.8,292.9 552.9,305.6 555.0,305.2 557.1,312.6 559.2,311.5 561.3,304.4 563.4,302.1 565.5,307.2 567.6,303.0 569.7,309.1 571.8,322.9 573.9,302.3 576.0,305.5 578.1,322.4 580.2,303.4 582.3,314.5 584.4,318.3" fill="none" stroke="#eef08a" stroke-width="0.3" marker-start="url(#m8)" marker-mid="url(#m8)" marker-end="url(#m8)"/>
<polyline points="334.2,224.2 336.3,226.4 338.4,228.7 340.5,233.2 342.6,228.6 344.7,224.2 346.8,231.0 348.9,230.1 351.0,230.0 353.1,228.5 355.2,237.7 357.3,231.6 359.4,235.3 361.5,226.5 363.6,235.0 365.7,227.9 367.8,223.1 369.9,233.4 372.0,235.5 374.1,232.0 376.2,233.3 378.4,238.2 380.5,230.7 382.6,224.2 384.7,235.2 386.8,235.6 388.9,240.4 391.0,233.6 393.1,241.4 395.2,240.6 397.3,228.5 399.4,240.4 401.5,230.7 403.6,228.9 405.7,230.2 407.8,254.6 409.9,250.0 412.0,237.5 414.1,242.9 416.2,247.9 418.3,235.1 420.4,240.7 422.5,252.0 424.6,248.6 426.7,240.5 428.8,236.2 430.9,259.6 433.0,245.3 435.1,249.8 437.2,259.9 439.3,249.5 441.4,260.5 443.5,253.8 445.6,241.5 447.7,248.4 449.8,247.6 451.9,249.3 454.0,251.3 456.1,248.5 458.2,263.3 460.4,258.1 462.5,251.2 464.6,262.2 466.7,260.7 468.8,251.1 470.9,249.9 473.0,264.1 475.1,266.4 477.2,257.5 479.3,260.0 481.4,274.0 483.5,259.4 485.6,260.4 487.7,263.9 489.8,247.3 491.9,258.0 494.0,262.5 496.1,262.5 498.2,251.6 500.3,264.4 502.4,287.4 504.5,271.6 506.6,274.4 508.7,280.7 510.8,275.7 512.9,277.0 515.0,280.2 517.1,285.0 519.2,276.8 521.3,296.8 523.4,279.3 525.5,285.9 527.6,285.3 529.7,307.1 531.8,278.3 533.9,305.8 536.0,299.7 538.1,296.4 540.2,300.1 542.3,299.7 544.5,310.5 546.6,302.6 548.7,298.5 550.8,296.5 552.9,305.2 555.0,302.4 557.1,302.1 559.2,312.7 561.3,314.7 563.4,294.8 565.5,318.3 567.6,302.7 569.7,312.5 571.8,303.4 573.9,321.6 576.0,313.0 578.1,315.7 580.2,321.6 582.3,318.5 584.4,329.6" fill="none" stroke="#f4f6a0" stroke-width="0.3" marker-start="url(#m9)" marker-mid="url(#m9)" marker-end="url(#m9)"/>
<polyline points="334.2,226.8 336.3,225.2 338.4,219.1 340.5,229.8 342.6,232.5 344.7,236.9 346.8,230.1 348.9,222.4 351.0,225.1 353.1,235.1 355.2,235.2 357.3,234.2 359.4,230.6 361.5,233.4 363.6,231.1 365.7,230.6 367.8,233.9 369.9,233.2 372.0,232.6 374.1,234.6 376.2,231.7 378.4,225.2 380.5,231.1 382.6,234.2 384.7,243.5 386.8,233.6 388.9,246.0 391.0,243.5 393.1,231.7 395.2,232.4 397.3,237.1 399.4,245.5 401.5,239.4 403.6,241.4 405.7,239.2 407.8,241.7 409.9,236.3 412.0,241.0 414.1,249.7 416.2,243.9 418.3,242.7 420.4,248.5 422.5,236.5 424.6,241.8 426.7,240.1 428.8,250.1 430.9,248.2 433.0,240.7 435.1,256.6 437.2,245.2 439.3,247.3 441.4,252.1 443.5,248.8 445.6,257.7 447.7,249.4 449.8,260.1 451.9,261.3 454.0,244.6 456.1,258.4 458.2,269.6 460.4,249.0 462.5,261.0 464.6,278.4 466.7,257.0 468.8,251.9 470.9,255.9 473.0,248.4 475.1,260.2 477.2,256.4 479.3,268.3 481.4,260.3 483.5,252.7 485.6,259.6 487.7,262.3 489.8,279.3 491.9,268.1 494.0,276.5 496.1,262.7 498.2,274.6 500.3,267.7 502.4,279.1 504.5,260.3 506.6,283.0 508.7,273.8 510.8,258.9 512.9,275.6 515.0,285.4 517.1,275.4 519.2,274.1 521.3,276.0 523.4,299.6 525.5,282.7 527.6,303.5 529.7,273.7 531.8,287.2 533.9,292.9 536.0,285.6 538.1,288.1 540.2,303.2 542.3,282.6 544.5,297.3 546.6,312.3 548.7,287.8 550.8,288.1 552.9,291.3 555.0,297.6 557.1,310.9 559.2,297.2 561.3,291.7 563.4,300.5 565.5,295.9 567.6,316.3 569.7,302.7 571.8,304.5 573.9,327.1 576.0,329.7 578.1,322.2 580.2,316.0 582.3,314.3 584.4,321.2" fill="none" stroke="#8fbf80" stroke-width="0.3" marker-start="url(#m10)" marker-mid="url(#m10)" marker-end="url(#m10)"/>
<polyline points="334.2,220.5 336.3,214.7 338.4,222.8 340.5,228.1 342.6,230.3 344.7,224.9 346.8,225.6 348.9,230.5 351.0,224.0 353.1,230.5 355.2,219.0 357.3,219.6 359.4,219.7 361.5,227.9 363.6,222.7 365.7,226.1 367.8,227.5 369.9,227.4 372.0,232.5 374.1,233.5 376.2,222.0 378.4,227.2 380.5,225.0 382.6,221.0 384.7,235.2 386.8,230.7 388.9,226.0 391.0,224.9 393.1,228.8 395.2,221.4 397.3,225.8 399.4,233.3 401.5,232.1 403.6,223.3 405.7,234.5 407.8,234.8 409.9,234.4 412.0,233.1 414.1,233.5 416.2,235.3 418.3,234.5 420.4,237.3 422.5,233.2 424.6,237.9 426.7,230.7 428.8,236.3 430.9,235.5 433.0,239.8 435.1,238.2 437.2,236.4 439.3,237.1 441.4,240.1 443.5,242.9 445.6,237.8 447.7,237.7 449.8,236.6 451.9,234.4 454.0,240.6 456.1,248.7 458.2,240.4 460.4,248.6 462.5,246.4 464.6,237.0 466.7,239.0 468.8,244.4 470.9,244.6 473.0,242.4 475.1,250.6 477.2,240.8 479.3,244.5 481.4,236.3 483.5,253.0 485.6,240.1 487.7,247.4 489.8,240.6 491.9,249.7 494.0,242.8 496.1,248.2 498.2,250.7 500.3,247.9 502.4,245.9 504.5,246.7 506.6,242.6 508.7,246.1 510.8,263.4 512.9,252.5 515.0,261.3 517.1,253.6 519.2,249.6 521.3,259.7 523.4,259.5 525.5,253.2 527.6,255.9 529.7,248.3 531.8,254.1 533.9,253.8 536.0,249.2 538.1,259.9 540.2,257.8 542.3,263.8 544.5,257.8 546.6,255.0 548.7,254.1 550.8,260.9 552.9,265.3 555.0,266.2 557.1,270.4 559.2,262.5 561.3,257.4 563.4,278.0 565.5,277.5 567.6,258.9 569.7,275.4 571.8,265.0 573.9,274.6 576.0,264.0 578.1,264.6 580.2,268.1 582.3,265.5 584.4,269.8" fill="none" stroke="#d9f2d9" stroke-width="0.3" marker-start="url(#m11)" marker-mid="url(#m11)" marker-end="url(#m11)"/>
<polyline points="334.2,223.4 336.3,235.4 338.4,218.7 340.5,222.9 342.6,219.3 344.7,228.6 346.8,228.2 348.9,232.4 351.0,217.5 353.1,227.6 355.2,218.6 357.3,230.6 359.4,226.7 361.5,236.1 363.6,229.5 365.7,222.3 367.8,234.0 369.9,222.2 372.0,226.4 374.1,233.7 376.2,231.0 378.4,230.8 380.5,228.7 382.6,231.2 384.7,233.0 386.8,230.6 388.9,234.5 391.0,235.9 393.1,229.5 395.2,224.6 397.3,237.1 399.4,229.5 401.5,233.1 403.6,235.0 405.7,232.9 407.8,228.5 409.9,231.4 412.0,238.8 414.1,239.8 416.2,237.3 418.3,237.5 420.4,236.4 422.5,239.9 424.6,234.5 426.7,237.2 428.8,236.1 430.9,237.8 433.0,235.5 435.1,244.7 437.2,231.7 439.3,237.3 441.4,237.1 443.5,236.7 445.6,234.9 447.7,236.8 449.8,239.4 451.9,241.7 454.0,250.5 456.1,240.4 458.2,243.5 460.4,243.8 462.5,231.4 464.6,253.6 466.7,242.8 468.8,237.8 470.9,239.3 473.0,238.3 475.1,251.9 477.2,250.4 479.3,242.2 481.4,247.1 483.5,237.6 485.6,245.0 487.7,245.5 489.8,244.6 491.9,257.8 494.0,247.3 496.1,252.6 498.2,249.3 500.3,252.6 502.4,249.0 504.5,259.7 506.6,260.8 508.7,249.7 510.8,251.5 512.9,259.3 515.0,255.2 517.1,261.1 519.2,244.5 521.3,265.8 523.4,247.2 525.5,262.1 527.6,255.1 529.7,259.6 531.8,261.0 533.9,254.1 536.0,255.4 538.1,262.3 540.2,267.2 542.3,250.3 544.5,254.6 546.6,262.1 548.7,265.5 550.8,262.5 552.9,264.3 555.0,258.7 557.1,272.8 559.2,266.5 561.3,272.8 563.4,260.4 565.5,258.1 567.6,269.7 569.7,266.6 571.8,262.2 573.9,273.1 576.0,278.5 578.1,266.1 580.2,275.5 582.3,275.0 584.4,265.4" fill="none" stroke="#8fc0a8" stroke-width="0.3" marker-start="url(#m12)" marker-mid="url(#m12)" marker-end="url(#m12)"/>
<polyline points="334.2,221.2 336.3,228.3 338.4,217.9 340.5,229.9 342.6,224.2 344.7,227.6 346.8,230.4 348.9,223.4 351.0,227.3 353.1,223.4 355.2,227.0 357.3,232.5 359.4,227.7 361.5,227.0 363.6,222.2 365.7,231.8 367.8,227.5 369.9,236.2 372.0,224.3 374.1,233.5 376.2,237.2 378.4,228.3 380.5,222.2 382.6,235.8 384.7,233.8 386.8,232.3 388.9,234.4 391.0,226.8 393.1,232.8 395.2,232.4 397.3,225.7 399.4,232.8 401.5,226.9 403.6,234.3 405.7,233.8 407.8,243.2 409.9,233.8 412.0,235.6 414.1,228.4 416.2,235.9 418.3,237.0 420.4,234.5 422.5,235.5 424.6,243.8 426.7,236.4 428.8,238.7 430.9,231.5 433.0,227.4 435.1,243.7 437.2,243.2 439.3,242.8 441.4,242.1 443.5,242.6 445.6,238.9 447.7,234.6 449.8,247.1 451.9,248.8 454.0,250.9 456.1,235.7 458.2,234.9 460.4,250.1 462.5,251.0 464.6,241.3 466.7,237.2 468.8,237.8 470.9,241.9 473.0,240.0 475.1,241.9 477.2,247.0 479.3,235.1 481.4,244.4 483.5,251.3 485.6,247.7 487.7,254.6 489.8,245.5 491.9,240.9 494.0,254.4 496.1,241.8 498.2,237.6 500.3,246.5 502.4,256.1 504.5,254.7 506.6,252.0 508.7,258.6 510.8,259.0 512.9,253.2 515.0,253.2 517.1,249.6 519.2,261.1 521.3,244.1 523.4,248.9 525.5,250.3 527.6,259.7 529.7,246.8 531.8,258.8 533.9,247.5 536.0,252.0 538.1,264.4 540.2,261.9 542.3,249.3 544.5,254.6 546.6,261.6 548.7,260.1 550.8,268.4 552.9,267.8 555.0,264.3 557.1,268.2 559.2,267.1 561.3,262.1 563.4,272.2 565.5,261.7 567.6,265.8 569.7,262.6 571.8,275.5 573.9,260.9 576.0,265.1 578.1,265.2 580.2,271.2 582.3,267.1 584.4,277.9" fill="none" stroke="#7aa898" stroke-width="0.3" marker-start="url(#m13)" marker-mid="url(#m13)" marker-end="url(#m13)"/>
<polyline points="334.2,232.2 336.3,235.3 338.4,217.0 340.5,228.2 342.6,225.7 344.7,227.5 346.8,226.7 348.9,227.2 351.0,218.3 353.1,232.8 355.2,235.8 357.3,233.5 359.4,235.5 361.5,224.9 363.6,224.5 365.7,233.6 367.8,235.9 369.9,231.1 372.0,222.4 374.1,244.4 376.2,227.4 378.4,235.6 380.5,224.6 382.6,235.7 384.7,232.1 386.8,238.7 388.9,236.4 391.0,224.2 393.1,227.1 395.2,233.4 397.3,235.9 399.4,241.4 401.5,234.3 403.6,232.8 405.7,236.7 407.8,233.1 409.9,236.4 412.0,234.8 414.1,241.9 416.2,231.8 418.3,240.2 420.4,236.2 422.5,238.1 424.6,234.6 426.7,240.6 428.8,244.1 430.9,249.3 433.0,241.1 435.1,246.3 437.2,237.9 439.3,234.2 441.4,253.3 443.5,248.6 445.6,240.4 447.7,236.7 449.8,241.3 451.9,241.6 454.0,241.2 456.1,241.3 458.2,236.8 460.4,242.0 462.5,252.4 464.6,248.3 466.7,245.1 468.8,251.2 470.9,248.3 473.0,250.4 475.1,251.8 477.2,244.9 479.3,250.9 481.4,255.5 483.5,253.7 485.6,249.7 487.7,240.2 489.8,249.5 491.9,244.4 494.0,249.9 496.1,266.3 498.2,252.0 500.3,259.8 502.4,263.8 504.5,262.8 506.6,247.9 508.7,267.7 510.8,262.3 512.9,253.2 515.0,256.5 517.1,271.8 519.2,262.0 521.3,265.5 523.4,264.1 525.5,259.8 527.6,268.2 529.7,267.3 531.8,258.2 533.9,279.3 536.0,270.0 538.1,265.9 540.2,277.8 542.3,274.3 544.5,280.0 546.6,270.8 548.7,276.7 550.8,268.8 552.9,268.3 555.0,281.5 557.1,278.3 559.2,275.0 561.3,277.0 563.4,286.9 565.5,272.7 567.6,278.4 569.7,275.9 571.8,291.4 573.9,276.9 576.0,270.4 578.1,280.1 580.2,295.5 582.3,285.1 584.4,286.5" fill="none" stroke="#c4d4e4" stroke-width="0.6"/>
<polyline points="334.2,227.9 336.3,228.0 338.4,233.2 340.5,228.1 342.6,228.1 344.7,221.3 346.8,219.0 348.9,228.8 351.0,232.0 353.1,228.5 355.2,231.4 357.3,232.3 359.4,229.1 361.5,234.1 363.6,225.6 365.7,229.3 367.8,227.5 369.9,229.9 372.0,232.9 374.1,234.2 376.2,230.7 378.4,232.2 380.5,228.2 382.6,229.5 384.7,236.5 386.8,229.5 388.9,236.8 391.0,233.2 393.1,231.5 395.2,240.5 397.3,229.6 399.4,229.4 401.5,231.2 403.6,232.7 405.7,232.7 407.8,234.6 409.9,231.9 412.0,236.1 414.1,233.1 416.2,237.5 418.3,233.9 420.4,230.5 422.5,237.0 424.6,232.0 426.7,239.4 428.8,247.8 430.9,236.3 433.0,229.9 435.1,239.5 437.2,230.2 439.3,243.7 441.4,236.6 443.5,232.0 445.6,233.2 447.7,242.3 449.8,243.9 451.9,233.2 454.0,244.7 456.1,235.1 458.2,241.0 460.4,238.4 462.5,227.9 464.6,231.7 466.7,235.3 468.8,247.6 470.9,238.3 473.0,239.8 475.1,240.8 477.2,234.3 479.3,251.2 481.4,239.7 483.5,240.9 485.6,246.3 487.7,233.7 489.8,250.0 491.9,242.7 494.0,243.0 496.1,257.5 498.2,253.3 500.3,250.9 502.4,241.5 504.5,241.1 506.6,243.4 508.7,245.7 510.8,261.6 512.9,246.8 515.0,251.7 517.1,242.9 519.2,242.4 521.3,238.2 523.4,246.7 525.5,246.7 527.6,258.4 529.7,251.6 531.8,260.9 533.9,248.2 536.0,261.7 538.1,255.5 540.2,260.3 542.3,258.4 544.5,253.2 546.6,260.2 548.7,255.6 550.8,276.0 552.9,250.0 555.0,263.0 557.1,267.2 559.2,247.2 561.3,277.9 563.4,267.8 565.5,262.5 567.6,254.8 569.7,265.7 571.8,260.5 573.9,268.7 576.0,260.4 578.1,273.5 580.2,259.8 582.3,288.5 584.4,280.6" fill="none" stroke="#7aa0d0" stroke-width="0.3" marker-start="url(#m15)" marker-mid="url(#m15)" marker-end="url(#m15)"/>
<polyline points="334.2,231.1 336.3,234.1 338.4,230.6 340.5,232.1 342.6,229.0 344.7,235.7 346.8,228.4 348.9,228.9 351.0,230.3 353.1,231.9 355.2,226.8 357.3,238.3 359.4,227.6 361.5,228.7 363.6,228.5 365.7,228.0 367.8,233.3 369.9,231.5 372.0,226.9 374.1,228.1 376.2,229.3 378.4,238.1 380.5,227.6 382.6,224.3 384.7,225.2 386.8,229.4 388.9,238.7 391.0,225.8 393.1,231.5 395.2,243.6 397.3,228.8 399.4,238.5 401.5,237.6 403.6,234.3 405.7,227.1 407.8,232.7 409.9,237.3 412.0,225.9 414.1,229.9 416.2,229.7 418.3,235.7 420.4,231.7 422.5,232.2 424.6,241.9 426.7,232.0 428.8,235.1 430.9,229.5 433.0,229.5 435.1,237.7 437.2,237.7 439.3,234.0 441.4,232.3 443.5,237.2 445.6,235.9 447.7,233.1 449.8,234.1 451.9,231.3 454.0,235.3 456.1,247.8 458.2,246.1 460.4,233.6 462.5,239.0 464.6,239.3 466.7,239.3 468.8,251.1 470.9,240.3 473.0,252.6 475.1,240.8 477.2,243.8 479.3,231.2 481.4,237.5 483.5,240.8 485.6,239.2 487.7,236.9 489.8,244.6 491.9,242.0 494.0,243.2 496.1,230.5 498.2,241.8 500.3,253.8 502.4,239.3 504.5,231.5 506.6,249.3 508.7,228.1 510.8,244.9 512.9,240.4 515.0,248.8 517.1,247.4 519.2,253.7 521.3,253.1 523.4,260.2 525.5,242.0 527.6,255.1 529.7,246.6 531.8,247.2 533.9,253.3 536.0,249.5 538.1,250.7 540.2,253.7 542.3,250.8 544.5,251.3 546.6,258.6 548.7,260.8 550.8,258.4 552.9,252.7 555.0,246.6 557.1,246.5 559.2,253.0 561.3,250.1 563.4,254.9 565.5,250.1 567.6,255.8 569.7,254.8 571.8,259.3 573.9,257.9 576.0,247.9 578.1,267.1 580.2,259.2 582.3,263.7 584.4,254.7" fill="none" stroke="#7cc0e8" stroke-width="0.3" marker-start="url(#m16)" marker-mid="url(#m16)" marker-end="url(#m16)"/>
<polyline points="334.2,223.8 336.3,232.4 338.4,229.1 340.5,221.3 342.6,221.8 344.7,230.6 346.8,231.3 348.9,236.5 351.0,233.6 353.1,227.8 355.2,227.8 357.3,229.2 359.4,224.4 361.5,233.5 363.6,229.9 365.7,225.8 367.8,226.5 369.9,223.8 372.0,227.2 374.1,230.7 376.2,227.2 378.4,234.2 380.5,237.5 382.6,226.1 384.7,229.3 386.8,227.2 388.9,237.3 391.0,230.5 393.1,231.8 395.2,233.1 397.3,240.1 399.4,230.3 401.5,223.7 403.6,226.3 405.7,229.4 407.8,232.1 409.9,236.0 412.0,231.8 414.1,230.6 416.2,234.2 418.3,231.7 420.4,231.4 422.5,235.3 424.6,230.3 426.7,230.5 428.8,230.8 430.9,233.0 433.0,232.3 435.1,232.1 437.2,230.2 439.3,232.7 441.4,228.6 443.5,230.2 445.6,235.1 447.7,228.3 449.8,230.7 451.9,232.1 454.0,231.0 456.1,234.8 458.2,231.0 460.4,236.2 462.5,233.4 464.6,229.3 466.7,233.5 468.8,232.3 470.9,233.6 473.0,230.2 475.1,231.9 477.2,231.5 479.3,230.9 481.4,234.2 483.5,230.8 485.6,236.5 487.7,229.8 489.8,235.5 491.9,233.7 494.0,233.9 496.1,231.4 498.2,231.5 500.3,232.2 502.4,232.1 504.5,232.3 506.6,233.3 508.7,237.5 510.8,238.5 512.9,238.7 515.0,233.8 517.1,234.3 519.2,234.2 521.3,233.6 523.4,234.7 525.5,236.6 527.6,237.9 529.7,238.9 531.8,232.4 533.9,233.1 536.0,238.1 538.1,235.6 540.2,234.3 542.3,232.3 544.5,236.8 546.6,235.2 548.7,233.4 550.8,240.0 552.9,237.7 555.0,237.9 557.1,237.9 559.2,232.1 561.3,234.7 563.4,236.1 565.5,239.1 567.6,235.1 569.7,235.6 571.8,238.3 573.9,238.3 576.0,241.1 578.1,237.6 580.2,235.8 582.3,235.6 584.4,236.6" fill="none" stroke="#a0f4d0" stroke-width="0.3" marker-start="url(#m17)" marker-mid="url(#m17)" marker-end="url(#m17)"/>
<polyline points="334.2,229.6 336.3,226.6 338.4,222.7 340.5,241.2 342.6,228.5 344.7,225.5 346.8,224.9 348.9,219.5 351.0,222.4 353.1,226.9 355.2,227.5 357.3,225.6 359.4,233.0 361.5,230.6 363.6,225.5 365.7,221.1 367.8,231.3 369.9,231.2 372.0,230.6 374.1,225.0 376.2,232.4 378.4,224.4 380.5,237.0 382.6,233.3 384.7,233.9 386.8,229.3 388.9,228.4 391.0,241.7 393.1,238.6 395.2,232.1 397.3,237.4 399.4,242.3 401.5,229.7 403.6,233.0 405.7,233.8 407.8,242.1 409.9,241.9 412.0,233.2 414.1,237.5 416.2,245.6 418.3,238.2 420.4,236.9 422.5,238.0 424.6,241.7 426.7,246.4 428.8,241.0 430.9,234.1 433.0,243.4 435.1,249.6 437.2,243.2 439.3,254.9 441.4,245.0 443.5,249.2 445.6,241.8 447.7,247.6 449.8,242.4 451.9,235.3 454.0,251.6 456.1,257.1 458.2,248.3 460.4,252.4 462.5,251.5 464.6,257.7 466.7,250.1 468.8,253.7 470.9,272.1 473.0,257.2 475.1,253.8 477.2,249.1 479.3,261.8 481.4,264.2 483.5,251.0 485.6,263.9 487.7,258.9 489.8,257.1 491.9,256.4 494.0,262.2 496.1,272.6 498.2,257.7 500.3,269.1 502.4,270.9 504.5,254.1 506.6,262.7 508.7,278.8 510.8,274.9 512.9,273.9 515.0,279.4 517.1,290.8 519.2,269.4 521.3,270.6 523.4,275.4 525.5,281.7 527.6,277.7 529.7,275.7 531.8,290.8 533.9,285.5 536.0,288.7 538.1,279.6 540.2,283.9 542.3,299.1 544.5,293.9 546.6,276.1 548.7,299.6 550.8,290.3 552.9,298.6 555.0,284.2 557.1,295.4 559.2,300.2 561.3,308.6 563.4,300.6 565.5,292.9 567.6,295.2 569.7,314.8 571.8,290.4 573.9,306.3 576.0,315.6 578.1,305.0 580.2,313.5 582.3,314.2 584.4,316.0" fill="none" stroke="#6070c0" stroke-width="0.3" marker-start="url(#m18)" marker-mid="url(#m18)" marker-end="url(#m18)"/>
<polyline points="334.2,225.0 336.3,230.0 338.4,222.3 340.5,229.5 342.6,223.2 344.7,234.1 346.8,234.0 348.9,228.5 351.0,233.1 353.1,226.2 355.2,228.9 357.3,235.6 359.4,231.1 361.5,233.5 363.6,226.8 365.7,234.7 367.8,234.0 369.9,225.9 372.0,223.8 374.1,224.4 376.2,233.3 378.4,232.4 380.5,225.4 382.6,234.4 384.7,239.2 386.8,234.3 388.9,233.0 391.0,239.8 393.1,243.8 395.2,242.6 397.3,232.0 399.4,239.9 401.5,237.5 403.6,236.1 405.7,239.4 407.8,242.7 409.9,251.7 412.0,237.5 414.1,244.6 416.2,234.8 418.3,239.0 420.4,239.1 422.5,242.1 424.6,236.1 426.7,246.7 428.8,252.4 430.9,243.3 433.0,264.7 435.1,249.3 437.2,245.7 439.3,250.9 441.4,240.3 443.5,253.5 445.6,248.9 447.7,253.6 449.8,243.8 451.9,257.2 454.0,255.7 456.1,248.0 458.2,249.6 460.4,240.7 462.5,256.6 464.6,271.4 466.7,251.7 468.8,248.3 470.9,258.8 473.0,247.5 475.1,246.7 477.2,265.1 479.3,264.1 481.4,271.5 483.5,257.6 485.6,257.0 487.7,258.4 489.8,274.1 491.9,271.1 494.0,278.3 496.1,281.1 498.2,279.9 500.3,283.3 502.4,271.7 504.5,268.2 506.6,267.9 508.7,273.7 510.8,280.9 512.9,275.9 515.0,272.8 517.1,280.9 519.2,278.9 521.3,283.3 523.4,286.6 525.5,282.4 527.6,294.7 529.7,277.0 531.8,301.4 533.9,283.8 536.0,302.0 538.1,278.0 540.2,284.2 542.3,300.4 544.5,298.0 546.6,306.1 548.7,296.4 550.8,293.8 552.9,277.7 555.0,313.6 557.1,307.6 559.2,308.0 561.3,300.9 563.4,297.1 565.5,301.0 567.6,303.2 569.7,310.1 571.8,309.3 573.9,309.1 576.0,301.4 578.1,328.9 580.2,319.5 582.3,329.0 584.4,327.2" fill="none" stroke="#a0b0f8" stroke-width="0.3" marker-start="url(#m19)" marker-mid="url(#m19)" marker-end="url(#m19)"/>
<polyline points="334.2,223.1 336.3,228.0 338.4,223.8 340.5,231.4 342.6,229.4 344.7,233.2 346.8,222.2 348.9,228.2 351.0,231.8 353.1,230.0 355.2,229.8 357.3,225.5 359.4,237.8 361.5,235.1 363.6,231.7 365.7,220.6 367.8,224.9 369.9,230.9 372.0,227.2 374.1,222.3 376.2,232.8 378.4,233.4 380.5,225.0 382.6,229.0 384.7,228.6 386.8,235.2 388.9,223.9 391.0,224.1 393.1,230.1 395.2,229.4 397.3,243.4 399.4,230.3 401.5,235.2 403.6,232.3 405.7,241.3 407.8,232.0 409.9,227.5 412.0,231.5 414.1,245.4 416.2,238.2 418.3,246.0 420.4,237.2 422.5,233.4 424.6,237.2 426.7,236.1 428.8,241.8 430.9,254.2 433.0,254.8 435.1,242.6 437.2,239.3 439.3,235.9 441.4,245.7 443.5,243.4 445.6,242.9 447.7,239.0 449.8,245.9 451.9,253.7 454.0,240.4 456.1,244.6 458.2,245.3 460.4,257.1 462.5,248.6 464.6,261.5 466.7,264.1 468.8,251.8 470.9,253.8 473.0,247.9 475.1,243.4 477.2,252.5 479.3,242.4 481.4,257.6 483.5,249.3 485.6,263.8 487.7,254.1 489.8,257.7 491.9,257.9 494.0,253.7 496.1,272.6 498.2,258.4 500.3,266.3 502.4,260.2 504.5,259.5 506.6,265.7 508.7,266.7 510.8,273.8 512.9,262.2 515.0,271.9 517.1,264.7 519.2,280.0 521.3,260.6 523.4,278.6 525.5,263.8 527.6,275.9 529.7,269.5 531.8,275.2 533.9,270.5 536.0,276.0 538.1,268.5 540.2,273.5 542.3,274.4 544.5,268.7 546.6,287.0 548.7,273.0 550.8,282.4 552.9,296.9 555.0,281.6 557.1,287.7 559.2,275.1 561.3,292.3 563.4,288.5 565.5,288.2 567.6,308.2 569.7,288.2 571.8,301.9 573.9,283.6 576.0,282.7 578.1,295.8 580.2,311.6 582.3,296.4 584.4,297.4" fill="none" stroke="#8a80b8" stroke-width="0.3" marker-start="url(#m20)" marker-mid="url(#m20)" marker-end="url(#m20)"/>
<polyline points="334.2,222.0 336.3,227.3 338.4,234.3 340.5,224.3 342.6,230.7 344.7,229.1 346.8,230.7 348.9,229.3 351.0,239.1 353.1,221.2 355.2,226.8 357.3,222.9 359.4,220.2 361.5,229.4 363.6,238.5 365.7,233.9 367.8,235.7 369.9,232.6 372.0,230.3 374.1,241.3 376.2,229.6 378.4,238.9 380.5,229.7 382.6,232.0 384.7,233.5 386.8,232.9 388.9,235.8 391.0,236.3 393.1,241.6 395.2,233.1 397.3,224.0 399.4,224.5 401.5,227.3 403.6,231.0 405.7,234.5 407.8,240.4 409.9,246.6 412.0,240.4 414.1,246.0 416.2,231.4 418.3,245.7 420.4,245.9 422.5,242.3 424.6,251.0 426.7,246.0 428.8,244.4 430.9,247.4 433.0,246.2 435.1,237.8 437.2,242.9 439.3,255.7 441.4,249.7 443.5,242.7 445.6,252.7 447.7,247.8 449.8,249.2 451.9,246.4 454.0,251.5 456.1,251.8 458.2,258.0 460.4,249.7 462.5,259.8 464.6,242.5 466.7,253.9 468.8,256.1 470.9,250.0 473.0,256.2 475.1,255.5 477.2,257.1 479.3,263.1 481.4,265.3 483.5,264.1 485.6,251.9 487.7,264.8 489.8,263.6 491.9,265.0 494.0,257.9 496.1,250.6 498.2,272.2 500.3,262.0 502.4,265.9 504.5,270.3 506.6,265.4 508.7,280.7 510.8,265.3 512.9,270.4 515.0,281.6 517.1,263.2 519.2,269.3 521.3,268.2 523.4,290.1 525.5,280.7 527.6,284.0 529.7,276.0 531.8,271.9 533.9,299.9 536.0,283.6 538.1,286.0 540.2,278.8 542.3,287.5 544.5,300.1 546.6,291.2 548.7,300.2 550.8,298.9 552.9,292.4 555.0,298.4 557.1,292.9 559.2,310.7 561.3,279.6 563.4,288.7 565.5,294.0 567.6,313.3 569.7,323.0 571.8,311.4 573.9,306.3 576.0,287.6 578.1,295.9 580.2,312.6 582.3,298.8 584.4,299.8" fill="none" stroke="#9a96cc" stroke-width="0.3" marker-start="url(#m21)" marker-mid="url(#m21)" marker-end="url(#m21)"/>
<polyline points="334.2,227.4 336.3,216.3 338.4,224.3 340.5,224.6 342.6,226.1 344.7,224.3 346.8,227.1 348.9,225.3 351.0,230.3 353.1,226.8 355.2,216.0 357.3,225.8 359.4,226.9 361.5,223.0 363.6,222.0 365.7,231.3 367.8,226.9 369.9,221.2 372.0,224.9 374.1,225.9 376.2,218.4 378.4,230.1 380.5,226.2 382.6,229.3 384.7,219.0 386.8,237.1 388.9,230.8 391.0,230.2 393.1,223.9 395.2,224.2 397.3,220.1 399.4,235.7 401.5,224.0 403.6,229.7 405.7,234.3 407.8,229.1 409.9,233.2 412.0,238.8 414.1,242.2 416.2,236.1 418.3,230.7 420.4,244.1 422.5,246.0 424.6,233.3 426.7,253.6 428.8,227.2 430.9,239.5 433.0,233.0 435.1,227.3 437.2,247.0 439.3,244.5 441.4,225.5 443.5,239.9 445.6,239.1 447.7,237.3 449.8,233.1 451.9,231.9 454.0,239.0 456.1,242.3 458.2,240.5 460.4,238.9 462.5,233.6 464.6,240.5 466.7,231.3 468.8,248.1 470.9,239.2 473.0,232.6 475.1,235.5 477.2,252.3 479.3,250.1 481.4,249.2 483.5,245.4 485.6,242.8 487.7,246.8 489.8,256.2 491.9,251.4 494.0,243.4 496.1,242.1 498.2,258.3 500.3,251.0 502.4,261.8 504.5,253.8 506.6,228.3 508.7,250.2 510.8,253.9 512.9,256.5 515.0,262.1 517.1,267.9 519.2,253.9 521.3,256.4 523.4,245.3 525.5,268.8 527.6,253.1 529.7,247.8 531.8,273.4 533.9,253.5 536.0,271.9 538.1,255.6 540.2,249.8 542.3,260.3 544.5,259.0 546.6,267.5 548.7,260.2 550.8,255.1 552.9,265.0 555.0,265.3 557.1,262.0 559.2,259.6 561.3,280.6 563.4,266.1 565.5,273.4 567.6,264.3 569.7,261.1 571.8,266.8 573.9,260.4 576.0,279.5 578.1,274.8 580.2,280.8 582.3,271.8 584.4,272.1" fill="none" stroke="#c8c4f0" stroke-width="0.3" marker-start="url(#m22)" marker-mid="url(#m22)" marker-end="url(#m22)"/>
<polyline points="334.2,228.1 336.3,221.9 338.4,229.5 340.5,235.5 342.6,227.1 344.7,232.9 346.8,228.7 348.9,223.4 351.0,223.7 353.1,217.0 355.2,226.6 357.3,233.6 359.4,229.8 361.5,230.7 363.6,232.2 365.7,223.7 367.8,229.4 369.9,236.3 372.0,222.8 374.1,227.2 376.2,224.8 378.4,226.1 380.5,223.3 382.6,226.5 384.7,220.4 386.8,224.9 388.9,225.2 391.0,225.2 393.1,234.6 395.2,228.1 397.3,228.6 399.4,226.4 401.5,234.6 403.6,219.2 405.7,235.2 407.8,241.2 409.9,234.8 412.0,237.1 414.1,231.8 416.2,236.4 418.3,229.3 420.4,234.0 422.5,246.9 424.6,236.5 426.7,244.7 428.8,230.8 430.9,228.5 433.0,236.2 435.1,233.8 437.2,246.0 439.3,251.8 441.4,240.5 443.5,238.7 445.6,247.8 447.7,237.0 449.8,236.0 451.9,234.5 454.0,229.7 456.1,234.1 458.2,241.5 460.4,238.6 462.5,236.1 464.6,247.3 466.7,232.5 468.8,235.2 470.9,242.2 473.0,245.5 475.1,219.4 477.2,236.6 479.3,236.3 481.4,231.6 483.5,236.6 485.6,241.4 487.7,238.8 489.8,250.0 491.9,239.5 494.0,255.9 496.1,242.2 498.2,241.9 500.3,257.7 502.4,234.6 504.5,255.7 506.6,240.8 508.7,251.9 510.8,246.3 512.9,254.0 515.0,233.6 517.1,243.3 519.2,238.8 521.3,245.8 523.4,246.8 525.5,250.8 527.6,254.2 529.7,248.8 531.8,252.2 533.9,255.0 536.0,265.9 538.1,257.4 540.2,251.4 542.3,259.9 544.5,254.1 546.6,258.2 548.7,266.5 550.8,265.9 552.9,265.1 555.0,261.7 557.1,262.0 559.2,252.4 561.3,270.5 563.4,279.7 565.5,257.0 567.6,266.5 569.7,264.0 571.8,245.1 573.9,253.4 576.0,260.2 578.1,258.1 580.2,264.7 582.3,259.1 584.4,272.4" fill="none" stroke="#c0a4d8" stroke-width="0.3" marker-start="url(#m23)" marker-mid="url(#m23)" marker-end="url(#m23)"/>
<polyline points="334.2,226.0 336.3,232.6 338.4,235.3 340.5,228.5 342.6,228.2 344.7,231.9 346.8,227.9 348.9,231.6 351.0,225.3 353.1,232.1 355.2,229.1 357.3,224.4 359.4,220.9 361.5,235.3 363.6,232.5 365.7,234.3 367.8,226.1 369.9,236.6 372.0,233.9 374.1,232.0 376.2,237.0 378.4,236.8 380.5,234.3 382.6,242.7 384.7,239.9 386.8,235.3 388.9,232.9 391.0,234.7 393.1,242.6 395.2,235.9 397.3,229.5 399.4,231.3 401.5,235.2 403.6,239.8 405.7,223.5 407.8,221.9 409.9,213.1 412.0,212.6 414.1,220.6 416.2,212.9 418.3,217.6 420.4,212.0 422.5,217.0 424.6,211.3 426.7,214.9 428.8,215.0 430.9,213.4 433.0,213.2 435.1,216.8 437.2,220.5 439.3,208.9 441.4,217.8 443.5,224.1 445.6,226.5 447.7,229.3 449.8,221.1 451.9,213.8 454.0,226.4 456.1,221.7 458.2,228.4 460.4,217.4 462.5,221.1 464.6,222.1 466.7,218.7 468.8,218.3 470.9,221.6 473.0,228.8 475.1,232.6 477.2,232.2 479.3,235.8 481.4,222.3 483.5,231.1 485.6,230.6 487.7,230.8 489.8,223.9 491.9,234.6 494.0,228.0 496.1,232.0 498.2,234.2 500.3,241.7 502.4,230.8 504.5,237.9 506.6,237.1 508.7,234.8 510.8,235.7 512.9,232.0 515.0,239.6 517.1,236.7 519.2,236.7 521.3,238.1 523.4,235.9 525.5,240.1 527.6,234.6 529.7,242.7 531.8,246.1 533.9,241.0 536.0,236.7 538.1,244.1 540.2,245.1 542.3,244.5 544.5,243.0 546.6,245.0 548.7,243.6 550.8,252.3 552.9,240.0 555.0,244.2 557.1,250.6 559.2,242.2 561.3,246.4 563.4,242.9 565.5,254.1 567.6,243.3 569.7,250.3 571.8,259.3 573.9,248.6 576.0,253.4 578.1,256.9 580.2,254.2 582.3,261.7 584.4,252.1" fill="none" stroke="#eaa8ea" stroke-width="0.3" marker-start="url(#m24)" marker-mid="url(#m24)" marker-end="url(#m24)"/>
<polyline points="334.2,223.4 336.3,229.6 338.4,232.8 340.5,231.5 342.6,220.5 344.7,227.5 346.8,222.8 348.9,231.3 351.0,223.8 353.1,232.0 355.2,230.3 357.3,221.1 359.4,226.7 361.5,233.5 363.6,231.3 365.7,229.1 367.8,224.6 369.9,234.1 372.0,241.1 374.1,234.2 376.2,232.9 378.4,232.3 380.5,225.9 382.6,231.4 384.7,229.3 386.8,239.9 388.9,230.2 391.0,225.8 393.1,230.7 395.2,233.4 397.3,234.1 399.4,226.3 401.5,240.8 403.6,237.2 405.7,241.2 407.8,242.1 409.9,235.4 412.0,241.9 414.1,246.3 416.2,248.6 418.3,244.3 420.4,239.9 422.5,248.6 424.6,251.9 426.7,242.3 428.8,246.9 430.9,248.0 433.0,238.6 435.1,256.6 437.2,248.8 439.3,261.6 441.4,260.5 443.5,249.2 445.6,247.1 447.7,261.6 449.8,249.9 451.9,250.8 454.0,256.2 456.1,243.5 458.2,256.8 460.4,263.2 462.5,255.9 464.6,271.1 466.7,251.3 468.8,255.0 470.9,263.4 473.0,258.2 475.1,259.3 477.2,252.5 479.3,267.6 481.4,272.9 483.5,278.7 485.6,267.4 487.7,276.9 489.8,268.0 491.9,265.8 494.0,272.2 496.1,277.0 498.2,265.0 500.3,274.1 502.4,272.6 504.5,269.8 506.6,285.7 508.7,284.1 510.8,264.4 512.9,281.0 515.0,288.7 517.1,284.1 519.2,287.6 521.3,293.8 523.4,288.8 525.5,287.1 527.6,288.3 529.7,286.1 531.8,303.8 533.9,303.3 536.0,288.3 538.1,297.7 540.2,288.1 542.3,295.0 544.5,309.2 546.6,296.0 548.7,308.6 550.8,300.2 552.9,295.3 555.0,290.9 557.1,306.1 559.2,318.6 561.3,306.2 563.4,304.3 565.5,328.4 567.6,315.1 569.7,311.3 571.8,311.3 573.9,322.0 576.0,311.4 578.1,310.8 580.2,319.0 582.3,322.6 584.4,325.0" fill="none" stroke="#ecd8f0" stroke-width="0.3" marker-start="url(#m25)" marker-mid="url(#m25)" marker-end="url(#m25)"/>
<polyline points="334.2,223.6 336.3,222.1 338.4,228.4 340.5,225.2 342.6,229.0 344.7,227.5 346.8,229.0 348.9,234.1 351.0,228.3 353.1,223.8 355.2,233.9 357.3,231.0 359.4,226.9 361.5,236.0 363.6,229.5 365.7,235.8 367.8,224.7 369.9,222.1 372.0,222.9 374.1,233.7 376.2,228.9 378.4,232.1 380.5,232.1 382.6,224.7 384.7,240.2 386.8,228.6 388.9,235.0 391.0,227.5 393.1,233.8 395.2,238.1 397.3,233.4 399.4,231.6 401.5,236.0 403.6,234.2 405.7,240.5 407.8,235.7 409.9,234.6 412.0,246.7 414.1,250.7 416.2,250.5 418.3,240.1 420.4,245.1 422.5,245.4 424.6,245.1 426.7,246.4 428.8,250.2 430.9,258.0 433.0,255.6 435.1,250.8 437.2,249.9 439.3,255.9 441.4,257.3 443.5,246.2 445.6,267.1 447.7,255.0 449.8,259.7 451.9,264.9 454.0,271.2 456.1,263.8 458.2,266.9 460.4,255.3 462.5,271.2 464.6,265.8 466.7,258.8 468.8,264.7 470.9,261.3 473.0,259.7 475.1,275.3 477.2,270.3 479.3,275.7 481.4,259.2 483.5,270.0 485.6,266.4 487.7,258.9 489.8,281.5 491.9,272.0 494.0,271.0 496.1,277.5 498.2,267.7 500.3,272.1 502.4,272.0 504.5,280.1 506.6,284.8 508.7,286.2 510.8,287.6 512.9,296.8 515.0,284.4 517.1,282.4 519.2,289.7 521.3,295.5 523.4,292.0 525.5,291.9 527.6,292.4 529.7,282.6 531.8,305.7 533.9,296.1 536.0,308.9 538.1,301.1 540.2,305.3 542.3,316.9 544.5,311.7 546.6,301.7 548.7,297.2 550.8,316.6 552.9,307.7 555.0,308.7 557.1,306.1 559.2,313.6 561.3,313.4 563.4,311.1 565.5,323.3 567.6,320.8 569.7,326.0 571.8,323.7 573.9,333.6 576.0,337.9 578.1,323.9 580.2,321.1 582.3,342.2 584.4,333.7" fill="none" stroke="#e0e0f6" stroke-width="0.3" marker-start="url(#m26)" marker-mid="url(#m26)" marker-end="url(#m26)"/>
<polyline points="334.2,228.6 336.3,236.7 338.4,221.3 340.5,222.6 342.6,225.9 344.7,226.6 346.8,221.6 348.9,229.4 351.0,230.6 353.1,228.1 355.2,221.2 357.3,234.9 359.4,221.8 361.5,231.5 363.6,233.8 365.7,221.5 367.8,228.8 369.9,235.2 372.0,230.8 374.1,224.3 376.2,223.0 378.4,231.5 380.5,227.1 382.6,225.6 384.7,233.0 386.8,228.2 388.9,230.5 391.0,233.1 393.1,232.9 395.2,230.0 397.3,230.3 399.4,233.6 401.5,233.2 403.6,225.5 405.7,236.5 407.8,236.9 409.9,235.5 412.0,234.9 414.1,238.8 416.2,240.7 418.3,239.7 420.4,234.2 422.5,239.8 424.6,232.0 426.7,239.4 428.8,232.8 430.9,245.1 433.0,242.7 435.1,242.2 437.2,237.4 439.3,240.7 441.4,231.2 443.5,240.3 445.6,239.7 447.7,244.6 449.8,234.2 451.9,238.2 454.0,240.6 456.1,252.4 458.2,241.6 460.4,246.3 462.5,242.2 464.6,240.2 466.7,249.2 468.8,244.2 470.9,241.5 473.0,245.2 475.1,248.3 477.2,253.0 479.3,251.1 481.4,255.1 483.5,243.2 485.6,247.7 487.7,256.0 489.8,249.0 491.9,257.6 494.0,270.7 496.1,245.1 498.2,246.0 500.3,261.6 502.4,257.6 504.5,252.7 506.6,256.8 508.7,260.6 510.8,259.1 512.9,258.0 515.0,272.7 517.1,256.7 519.2,260.0 521.3,264.2 523.4,259.7 525.5,271.6 527.6,253.6 529.7,273.6 531.8,263.1 533.9,261.5 536.0,261.8 538.1,263.3 540.2,258.6 542.3,274.0 544.5,267.3 546.6,266.8 548.7,271.8 550.8,273.2 552.9,274.5 555.0,275.6 557.1,274.6 559.2,273.9 561.3,274.1 563.4,272.4 565.5,275.6 567.6,272.6 569.7,274.7 571.8,273.4 573.9,268.9 576.0,284.0 578.1,268.6 580.2,282.5 582.3,275.8 584.4,279.6" fill="none" stroke="#eef2f4" stroke-width="0.3" marker-start="url(#m27)" marker-mid="url(#m27)" marker-end="url(#m27)"/>
<polyline points="334.2,224.7 336.3,221.1 338.4,219.5 340.5,223.0 342.6,217.3 344.7,230.8 346.8,222.5 348.9,228.3 351.0,217.5 353.1,217.8 355.2,236.9 357.3,232.2 359.4,224.0 361.5,223.4 363.6,223.7 365.7,227.9 367.8,225.2 369.9,224.4 372.0,228.6 374.1,223.0 376.2,239.9 378.4,225.1 380.5,233.7 382.6,223.5 384.7,229.9 386.8,233.5 388.9,227.3 391.0,233.9 393.1,233.9 395.2,237.2 397.3,229.5 399.4,226.9 401.5,224.4 403.6,230.8 405.7,236.5 407.8,244.6 409.9,229.6 412.0,239.5 414.1,239.9 416.2,232.2 418.3,236.3 420.4,229.3 422.5,230.3 424.6,234.4 426.7,236.5 428.8,234.6 430.9,255.6 433.0,237.5 435.1,237.9 437.2,241.3 439.3,237.9 441.4,247.5 443.5,235.6 445.6,234.3 447.7,247.7 449.8,240.0 451.9,234.0 454.0,239.4 456.1,247.6 458.2,247.7 460.4,238.4 462.5,234.3 464.6,249.3 466.7,243.1 468.8,248.2 470.9,245.6 473.0,242.9 475.1,244.9 477.2,249.0 479.3,239.8 481.4,246.6 483.5,247.1 485.6,241.1 487.7,246.6 489.8,248.2 491.9,243.1 494.0,254.5 496.1,245.2 498.2,244.4 500.3,246.7 502.4,251.6 504.5,251.2 506.6,262.6 508.7,253.1 510.8,251.5 512.9,249.2 515.0,265.1 517.1,257.2 519.2,260.7 521.3,256.2 523.4,255.8 525.5,250.8 527.6,257.6 529.7,261.6 531.8,259.6 533.9,262.7 536.0,261.7 538.1,275.8 540.2,272.3 542.3,270.2 544.5,260.1 546.6,263.8 548.7,263.1 550.8,258.1 552.9,272.5 555.0,259.4 557.1,264.3 559.2,272.1 561.3,259.3 563.4,278.6 565.5,277.1 567.6,271.1 569.7,267.9 571.8,272.2 573.9,287.3 576.0,274.3 578.1,273.3 580.2,258.3 582.3,265.8 584.4,273.9" fill="none" stroke="#c0c0c0" stroke-width="0.3" marker-start="url(#m28)" marker-mid="url(#m28)" marker-end="url(#m28)"/>
<polyline points="334.2,227.0 336.3,225.9 338.4,227.1 340.5,226.6 342.6,227.0 344.7,228.0 346.8,227.7 348.9,228.1 351.0,228.2 353.1,226.9 355.2,228.0 357.3,229.1 359.4,229.9 361.5,229.4 363.6,229.0 365.7,228.8 367.8,228.5 369.9,229.7 372.0,231.3 374.1,229.5 376.2,230.3 378.4,230.4 380.5,230.0 382.6,232.2 384.7,231.8 386.8,232.5 388.9,231.7 391.0,233.4 393.1,232.7 395.2,231.4 397.3,232.1 399.4,233.3 401.5,232.2 403.6,234.8 405.7,235.9 407.8,236.9 409.9,236.5 412.0,237.6 414.1,238.5 416.2,237.8 418.3,239.7 420.4,238.2 422.5,239.4 424.6,238.5 426.7,240.2 428.8,240.8 430.9,240.0 433.0,239.5 435.1,243.2 437.2,241.3 439.3,241.2 441.4,243.7 443.5,243.6 445.6,242.6 447.7,244.5 449.8,244.8 451.9,243.0 454.0,246.1 456.1,246.5 458.2,248.4 460.4,247.7 462.5,248.3 464.6,245.8 466.7,246.8 468.8,249.8 470.9,247.0 473.0,248.7 475.1,250.1 477.2,249.6 479.3,250.5 481.4,252.1 483.5,253.6 485.6,253.2 487.7,252.8 489.8,253.6 491.9,254.9 494.0,254.0 496.1,256.9 498.2,255.8 500.3,258.0 502.4,258.3 504.5,260.3 506.6,260.1 508.7,261.7 510.8,263.5 512.9,262.6 515.0,263.5 517.1,263.5 519.2,264.9 521.3,267.0 523.4,267.5 525.5,270.2 527.6,269.7 529.7,268.1 531.8,268.7 533.9,270.4 536.0,271.7 538.1,272.4 540.2,273.3 542.3,276.5 544.5,276.5 546.6,275.4 548.7,276.3 550.8,278.1 552.9,279.5 555.0,280.5 557.1,281.6 559.2,282.8 561.3,284.7 563.4,283.6 565.5,285.1 567.6,285.7 569.7,284.7 571.8,286.7 573.9,288.9 576.0,288.5 578.1,291.5 580.2,289.9 582.3,291.5 584.4,292.9" fill="none" stroke="#000" stroke-width="0.6" marker-start="url(#me)" marker-mid="url(#me)" marker-end="url(#me)"/>
</g>
<rect x="334.2" y="194.6" width="252.3" height="149.00000000000003" fill="none" stroke="#3a3a3a" stroke-width="0.9"/>
<text transform="translate(328.60,208.96) scale(0.9,1)" font-size="9" text-anchor="end" fill="#1a1a1a">0.5</text>
<text transform="translate(328.60,231.88) scale(0.9,1)" font-size="9" text-anchor="end" fill="#1a1a1a">0.0</text>
<text transform="translate(328.60,254.81) scale(0.9,1)" font-size="9" text-anchor="end" fill="#1a1a1a">0.5</text>
<rect x="313.60" y="250.96" width="4.6" height="0.65" fill="#1a1a1a"/>
<text transform="translate(328.60,277.73) scale(0.9,1)" font-size="9" text-anchor="end" fill="#1a1a1a">1.0</text>
<rect x="313.60" y="273.88" width="4.6" height="0.65" fill="#1a1a1a"/>
<text transform="translate(328.60,300.65) scale(0.9,1)" font-size="9" text-anchor="end" fill="#1a1a1a">1.5</text>
<rect x="313.60" y="296.80" width="4.6" height="0.65" fill="#1a1a1a"/>
<text transform="translate(328.60,323.58) scale(0.9,1)" font-size="9" text-anchor="end" fill="#1a1a1a">2.0</text>
<rect x="313.60" y="319.73" width="4.6" height="0.65" fill="#1a1a1a"/>
<text transform="translate(328.60,346.50) scale(0.9,1)" font-size="9" text-anchor="end" fill="#1a1a1a">2.5</text>
<rect x="313.60" y="342.65" width="4.6" height="0.65" fill="#1a1a1a"/>
<text transform="translate(348.92,355.60) scale(0.9,1)" font-size="9" text-anchor="middle" fill="#1a1a1a">1988</text>
<text transform="translate(378.35,355.60) scale(0.9,1)" font-size="9" text-anchor="middle" fill="#1a1a1a">2002</text>
<text transform="translate(407.79,355.60) scale(0.9,1)" font-size="9" text-anchor="middle" fill="#1a1a1a">2016</text>
<text transform="translate(437.22,355.60) scale(0.9,1)" font-size="9" text-anchor="middle" fill="#1a1a1a">2030</text>
<text transform="translate(466.66,355.60) scale(0.9,1)" font-size="9" text-anchor="middle" fill="#1a1a1a">2044</text>
<text transform="translate(496.09,355.60) scale(0.9,1)" font-size="9" text-anchor="middle" fill="#1a1a1a">2058</text>
<text transform="translate(525.53,355.60) scale(0.9,1)" font-size="9" text-anchor="middle" fill="#1a1a1a">2072</text>
<text transform="translate(554.96,355.60) scale(0.9,1)" font-size="9" text-anchor="middle" fill="#1a1a1a">2086</text>
<text transform="translate(584.40,355.60) scale(0.9,1)" font-size="9" text-anchor="middle" fill="#1a1a1a">2100</text>
<path d="M332.4 194.60H334.2M331.2 206.06H334.2M332.4 217.52H334.2M331.2 228.98H334.2M332.4 240.45H334.2M331.2 251.91H334.2M332.4 263.37H334.2M331.2 274.83H334.2M332.4 286.29H334.2M331.2 297.75H334.2M332.4 309.22H334.2M331.2 320.68H334.2M332.4 332.14H334.2M331.2 343.60H334.2M334.20 343.6V345.40000000000003M348.92 343.6V346.6M363.63 343.6V345.40000000000003M378.35 343.6V346.6M393.07 343.6V345.40000000000003M407.79 343.6V346.6M422.50 343.6V345.40000000000003M437.22 343.6V346.6M451.94 343.6V345.40000000000003M466.66 343.6V346.6M481.38 343.6V345.40000000000003M496.09 343.6V346.6M510.81 343.6V345.40000000000003M525.53 343.6V346.6M540.25 343.6V345.40000000000003M554.96 343.6V346.6M569.68 343.6V345.40000000000003M584.40 343.6V346.6" stroke="#3a3a3a" stroke-width="0.9" fill="none"/>
<text transform="translate(460.35,369.50) scale(0.9,1)" font-size="9.8" text-anchor="middle" fill="#1a1a1a">Year</text>
<text transform="translate(309.59999999999997,269.7) rotate(-90) scale(1,0.9)" font-size="8.2" text-anchor="middle" fill="#1a1a1a">NH mean SWEI</text>
<text transform="translate(339.70,211.70) scale(0.9,1)" font-size="17.5" text-anchor="start" font-weight="bold" fill="#000">d</text>
<text transform="translate(346.60,323.20) scale(0.9,1)" font-size="8.8" text-anchor="start" fill="#1a1a1a">CMIP6 models under SSP585</text>
<path d="M603.5 72.40H622.5" stroke="#a88a7a" stroke-width="0.9"/>
<g transform="translate(612.8,72.40)"><rect x="-2.7" y="-2.7" width="5.4" height="5.4" fill="#5b3121"/></g>
<text transform="translate(623.30,74.90) scale(0.96,1)" font-size="8.2" text-anchor="start" fill="#1a1a1a">ACCESS-CM2</text>
<path d="M603.5 82.04H622.5" stroke="#9c8076" stroke-width="0.9"/>
<g transform="translate(612.8,82.04)"><circle r="2.88" fill="#4b2619"/></g>
<text transform="translate(623.30,84.54) scale(0.96,1)" font-size="8.2" text-anchor="start" fill="#1a1a1a">ACCESS-ESM1-5</text>
<path d="M603.5 91.68H622.5" stroke="#a78286" stroke-width="0.9"/>
<g transform="translate(612.8,91.68)"><path d="M0 -3.12L3.0 2.16H-3.0Z" fill="#6e3a3f"/></g>
<text transform="translate(623.30,94.18) scale(0.96,1)" font-size="8.2" text-anchor="start" fill="#1a1a1a">BCC-CSM2-MR</text>
<path d="M603.5 101.32H622.5" stroke="#e6b0b8" stroke-width="0.9"/>
<g transform="translate(612.8,101.32)"><path d="M0 3.12L3.0 -2.16H-3.0Z" fill="#9b2232"/></g>
<text transform="translate(623.30,103.82) scale(0.96,1)" font-size="8.2" text-anchor="start" fill="#1a1a1a">CESM2-WACCM</text>
<path d="M603.5 110.96H622.5" stroke="#e09ca3" stroke-width="0.9"/>
<g transform="translate(612.8,110.96)"><path d="M0 -3.24L3.24 0L0 3.24L-3.24 0Z" fill="#c9363f"/></g>
<text transform="translate(623.30,113.46) scale(0.96,1)" font-size="8.2" text-anchor="start" fill="#1a1a1a">CESM2</text>
<path d="M603.5 120.60H622.5" stroke="#f4c27a" stroke-width="0.9"/>
<g transform="translate(612.8,120.60)"><path d="M-3.12 0L2.16 -3.0V3.0Z" fill="#f0a224"/></g>
<text transform="translate(623.30,123.10) scale(0.96,1)" font-size="8.2" text-anchor="start" fill="#1a1a1a">CNRM-CM6-1-HR</text>
<path d="M603.5 130.24H622.5" stroke="#fadcb0" stroke-width="0.9"/>
<g transform="translate(612.8,130.24)"><path d="M3.12 0L-2.16 -3.0V3.0Z" fill="#f5a623"/></g>
<text transform="translate(623.30,132.74) scale(0.96,1)" font-size="8.2" text-anchor="start" fill="#1a1a1a">CNRM-CM6-1</text>
<path d="M603.5 139.88H622.5" stroke="#f0d98a" stroke-width="0.9"/>
<g transform="translate(612.8,139.88)"><circle r="2.88" fill="#e9c33a"/></g>
<text transform="translate(623.30,142.38) scale(0.96,1)" font-size="8.2" text-anchor="start" fill="#1a1a1a">CNRM-ESM2-1</text>
<path d="M603.5 149.52H622.5" stroke="#eef08a" stroke-width="0.9"/>
<g transform="translate(612.8,149.52)"><path d="M0.00 -3.60L1.02 -1.41L3.42 -1.11L1.65 0.54L2.12 2.91L0.00 1.74L-2.12 2.91L-1.65 0.54L-3.42 -1.11L-1.02 -1.41Z" fill="#e5e43a"/></g>
<text transform="translate(623.30,152.02) scale(0.96,1)" font-size="8.2" text-anchor="start" fill="#1a1a1a">CanESM5-1</text>
<path d="M603.5 159.16H622.5" stroke="#f4f6a0" stroke-width="0.9"/>
<g transform="translate(612.8,159.16)"><path d="M0.00 -2.88L3.08 -0.64L1.90 2.98L-1.90 2.98L-3.08 -0.64Z" fill="#f3f542"/></g>
<text transform="translate(623.30,161.66) scale(0.96,1)" font-size="8.2" text-anchor="start" fill="#1a1a1a">CanESM5-CanOE</text>
<path d="M603.5 168.80H622.5" stroke="#8fbf80" stroke-width="0.9"/>
<g transform="translate(612.8,168.80)"><circle r="2.88" fill="#6aa05a"/></g>
<text transform="translate(623.30,171.30) scale(0.96,1)" font-size="8.2" text-anchor="start" fill="#1a1a1a">CanESM5</text>
<path d="M603.5 178.44H622.5" stroke="#d9f2d9" stroke-width="0.9"/>
<g transform="translate(612.8,178.44)"><path d="M-3.375 0H3.375M0 -3.375V3.375" stroke="#c8ecc8" stroke-width="0.5"/></g>
<text transform="translate(623.30,180.94) scale(0.96,1)" font-size="8.2" text-anchor="start" fill="#1a1a1a">EC-Earth3-Veg-LR</text>
<path d="M603.5 188.08H622.5" stroke="#8fc0a8" stroke-width="0.9"/>
<g transform="translate(612.8,188.08)"><path d="M-2.7 -2.7L2.7 2.7M2.7 -2.7L-2.7 2.7" stroke="#5a9a7a" stroke-width="0.5"/></g>
<text transform="translate(623.30,190.58) scale(0.96,1)" font-size="8.2" text-anchor="start" fill="#1a1a1a">EC-Earth3-Veg</text>
<path d="M603.5 197.72H622.5" stroke="#7aa898" stroke-width="0.9"/>
<g transform="translate(612.8,197.72)"><path d="M-3.375 0H3.375M-2.43 -2.43L2.43 2.43M2.43 -2.43L-2.43 2.43" stroke="#3a7868" stroke-width="0.5"/></g>
<text transform="translate(623.30,200.22) scale(0.96,1)" font-size="8.2" text-anchor="start" fill="#1a1a1a">EC-Earth3</text>
<path d="M603.5 207.36H622.5" stroke="#c4d4e4" stroke-width="2.0"/>
<text transform="translate(623.30,209.86) scale(0.96,1)" font-size="8.2" text-anchor="start" fill="#1a1a1a">GFDL-ESM4</text>
<path d="M603.5 217.00H622.5" stroke="#7aa0d0" stroke-width="0.9"/>
<g transform="translate(612.8,217.00)"><path d="M-3.375 0H3.375M0 -3.375V3.375" stroke="#5a88c0" stroke-width="0.5"/></g>
<text transform="translate(623.30,219.50) scale(0.96,1)" font-size="8.2" text-anchor="start" fill="#1a1a1a">GISS-E2-1-G</text>
<path d="M603.5 226.64H622.5" stroke="#7cc0e8" stroke-width="0.9"/>
<g transform="translate(612.8,226.64)"><rect x="-2.7" y="-2.7" width="5.4" height="5.4" fill="#3d9ad8"/></g>
<text transform="translate(623.30,229.14) scale(0.96,1)" font-size="8.2" text-anchor="start" fill="#1a1a1a">GISS-E2-1-H</text>
<path d="M603.5 236.28H622.5" stroke="#a0f4d0" stroke-width="0.9"/>
<g transform="translate(612.8,236.28)"><circle r="2.88" fill="#5ff0b0"/></g>
<text transform="translate(623.30,238.78) scale(0.96,1)" font-size="8.2" text-anchor="start" fill="#1a1a1a">GISS-E2-2-G</text>
<path d="M603.5 245.92H622.5" stroke="#6070c0" stroke-width="0.9"/>
<g transform="translate(612.8,245.92)"><path d="M0 -3.12L3.0 2.16H-3.0Z" fill="#2a40a0"/></g>
<text transform="translate(623.30,248.42) scale(0.96,1)" font-size="8.2" text-anchor="start" fill="#1a1a1a">IPSL-CM6A-LR</text>
<path d="M603.5 255.56H622.5" stroke="#a0b0f8" stroke-width="0.9"/>
<g transform="translate(612.8,255.56)"><path d="M0 3.12L3.0 -2.16H-3.0Z" fill="#1f3cf0"/></g>
<text transform="translate(623.30,258.06) scale(0.96,1)" font-size="8.2" text-anchor="start" fill="#1a1a1a">MIROC-ES2L</text>
<path d="M603.5 265.20H622.5" stroke="#8a80b8" stroke-width="0.9"/>
<g transform="translate(612.8,265.20)"><path d="M0 -3.24L3.24 0L0 3.24L-3.24 0Z" fill="#4a3a8a"/></g>
<text transform="translate(623.30,267.70) scale(0.96,1)" font-size="8.2" text-anchor="start" fill="#1a1a1a">MIROC6</text>
<path d="M603.5 274.84H622.5" stroke="#9a96cc" stroke-width="0.9"/>
<g transform="translate(612.8,274.84)"><path d="M-3.12 0L2.16 -3.0V3.0Z" fill="#6a64b4"/></g>
<text transform="translate(623.30,277.34) scale(0.96,1)" font-size="8.2" text-anchor="start" fill="#1a1a1a">MPI-ESM1-2-HR</text>
<path d="M603.5 284.48H622.5" stroke="#c8c4f0" stroke-width="0.9"/>
<g transform="translate(612.8,284.48)"><path d="M3.12 0L-2.16 -3.0V3.0Z" fill="#8b86e0"/></g>
<text transform="translate(623.30,286.98) scale(0.96,1)" font-size="8.2" text-anchor="start" fill="#1a1a1a">MPI-ESM1-2-LR</text>
<path d="M603.5 294.12H622.5" stroke="#c0a4d8" stroke-width="0.9"/>
<g transform="translate(612.8,294.12)"><circle r="2.88" fill="#9a80c8"/></g>
<text transform="translate(623.30,296.62) scale(0.96,1)" font-size="8.2" text-anchor="start" fill="#1a1a1a">MRI-ESM2-0</text>
<path d="M603.5 303.76H622.5" stroke="#eaa8ea" stroke-width="0.9"/>
<g transform="translate(612.8,303.76)"><path d="M0.00 -3.60L1.02 -1.41L3.42 -1.11L1.65 0.54L2.12 2.91L0.00 1.74L-2.12 2.91L-1.65 0.54L-3.42 -1.11L-1.02 -1.41Z" fill="#e070e0"/></g>
<text transform="translate(623.30,306.26) scale(0.96,1)" font-size="8.2" text-anchor="start" fill="#1a1a1a">TaiESM1</text>
<path d="M603.5 313.40H622.5" stroke="#ecd8f0" stroke-width="0.9"/>
<g transform="translate(612.8,313.40)"><path d="M0.00 -2.88L3.08 -0.64L1.90 2.98L-1.90 2.98L-3.08 -0.64Z" fill="#dcb8e0"/></g>
<text transform="translate(623.30,315.90) scale(0.96,1)" font-size="8.2" text-anchor="start" fill="#1a1a1a">UKESM1-0-LL</text>
<path d="M603.5 323.04H622.5" stroke="#e0e0f6" stroke-width="0.9"/>
<g transform="translate(612.8,323.04)"><circle r="2.88" fill="#d4d4f4"/></g>
<text transform="translate(623.30,325.54) scale(0.96,1)" font-size="8.2" text-anchor="start" fill="#1a1a1a">AWI-CM-1-1-MR</text>
<path d="M603.5 332.68H622.5" stroke="#eef2f4" stroke-width="0.9"/>
<g transform="translate(612.8,332.68)"><path d="M-3.375 0H3.375M0 -3.375V3.375" stroke="#e8eef0" stroke-width="0.5"/></g>
<text transform="translate(623.30,335.18) scale(0.96,1)" font-size="8.2" text-anchor="start" fill="#1a1a1a">INM-CM4-8</text>
<path d="M603.5 342.32H622.5" stroke="#c0c0c0" stroke-width="0.9"/>
<g transform="translate(612.8,342.32)"><path d="M-2.7 -2.7L2.7 2.7M2.7 -2.7L-2.7 2.7" stroke="#9a9a9a" stroke-width="0.5"/></g>
<text transform="translate(623.30,344.82) scale(0.96,1)" font-size="8.2" text-anchor="start" fill="#1a1a1a">INM-CM5-0</text>
<path d="M603.5 351.96H622.5" stroke="#000" stroke-width="0.9"/>
<rect x="610.3" y="349.46" width="5" height="5" fill="#000"/>
<text transform="translate(623.30,354.46) scale(0.96,1)" font-size="8.2" text-anchor="start" fill="#1a1a1a">Ensemble mean</text>
</svg></body></html>
